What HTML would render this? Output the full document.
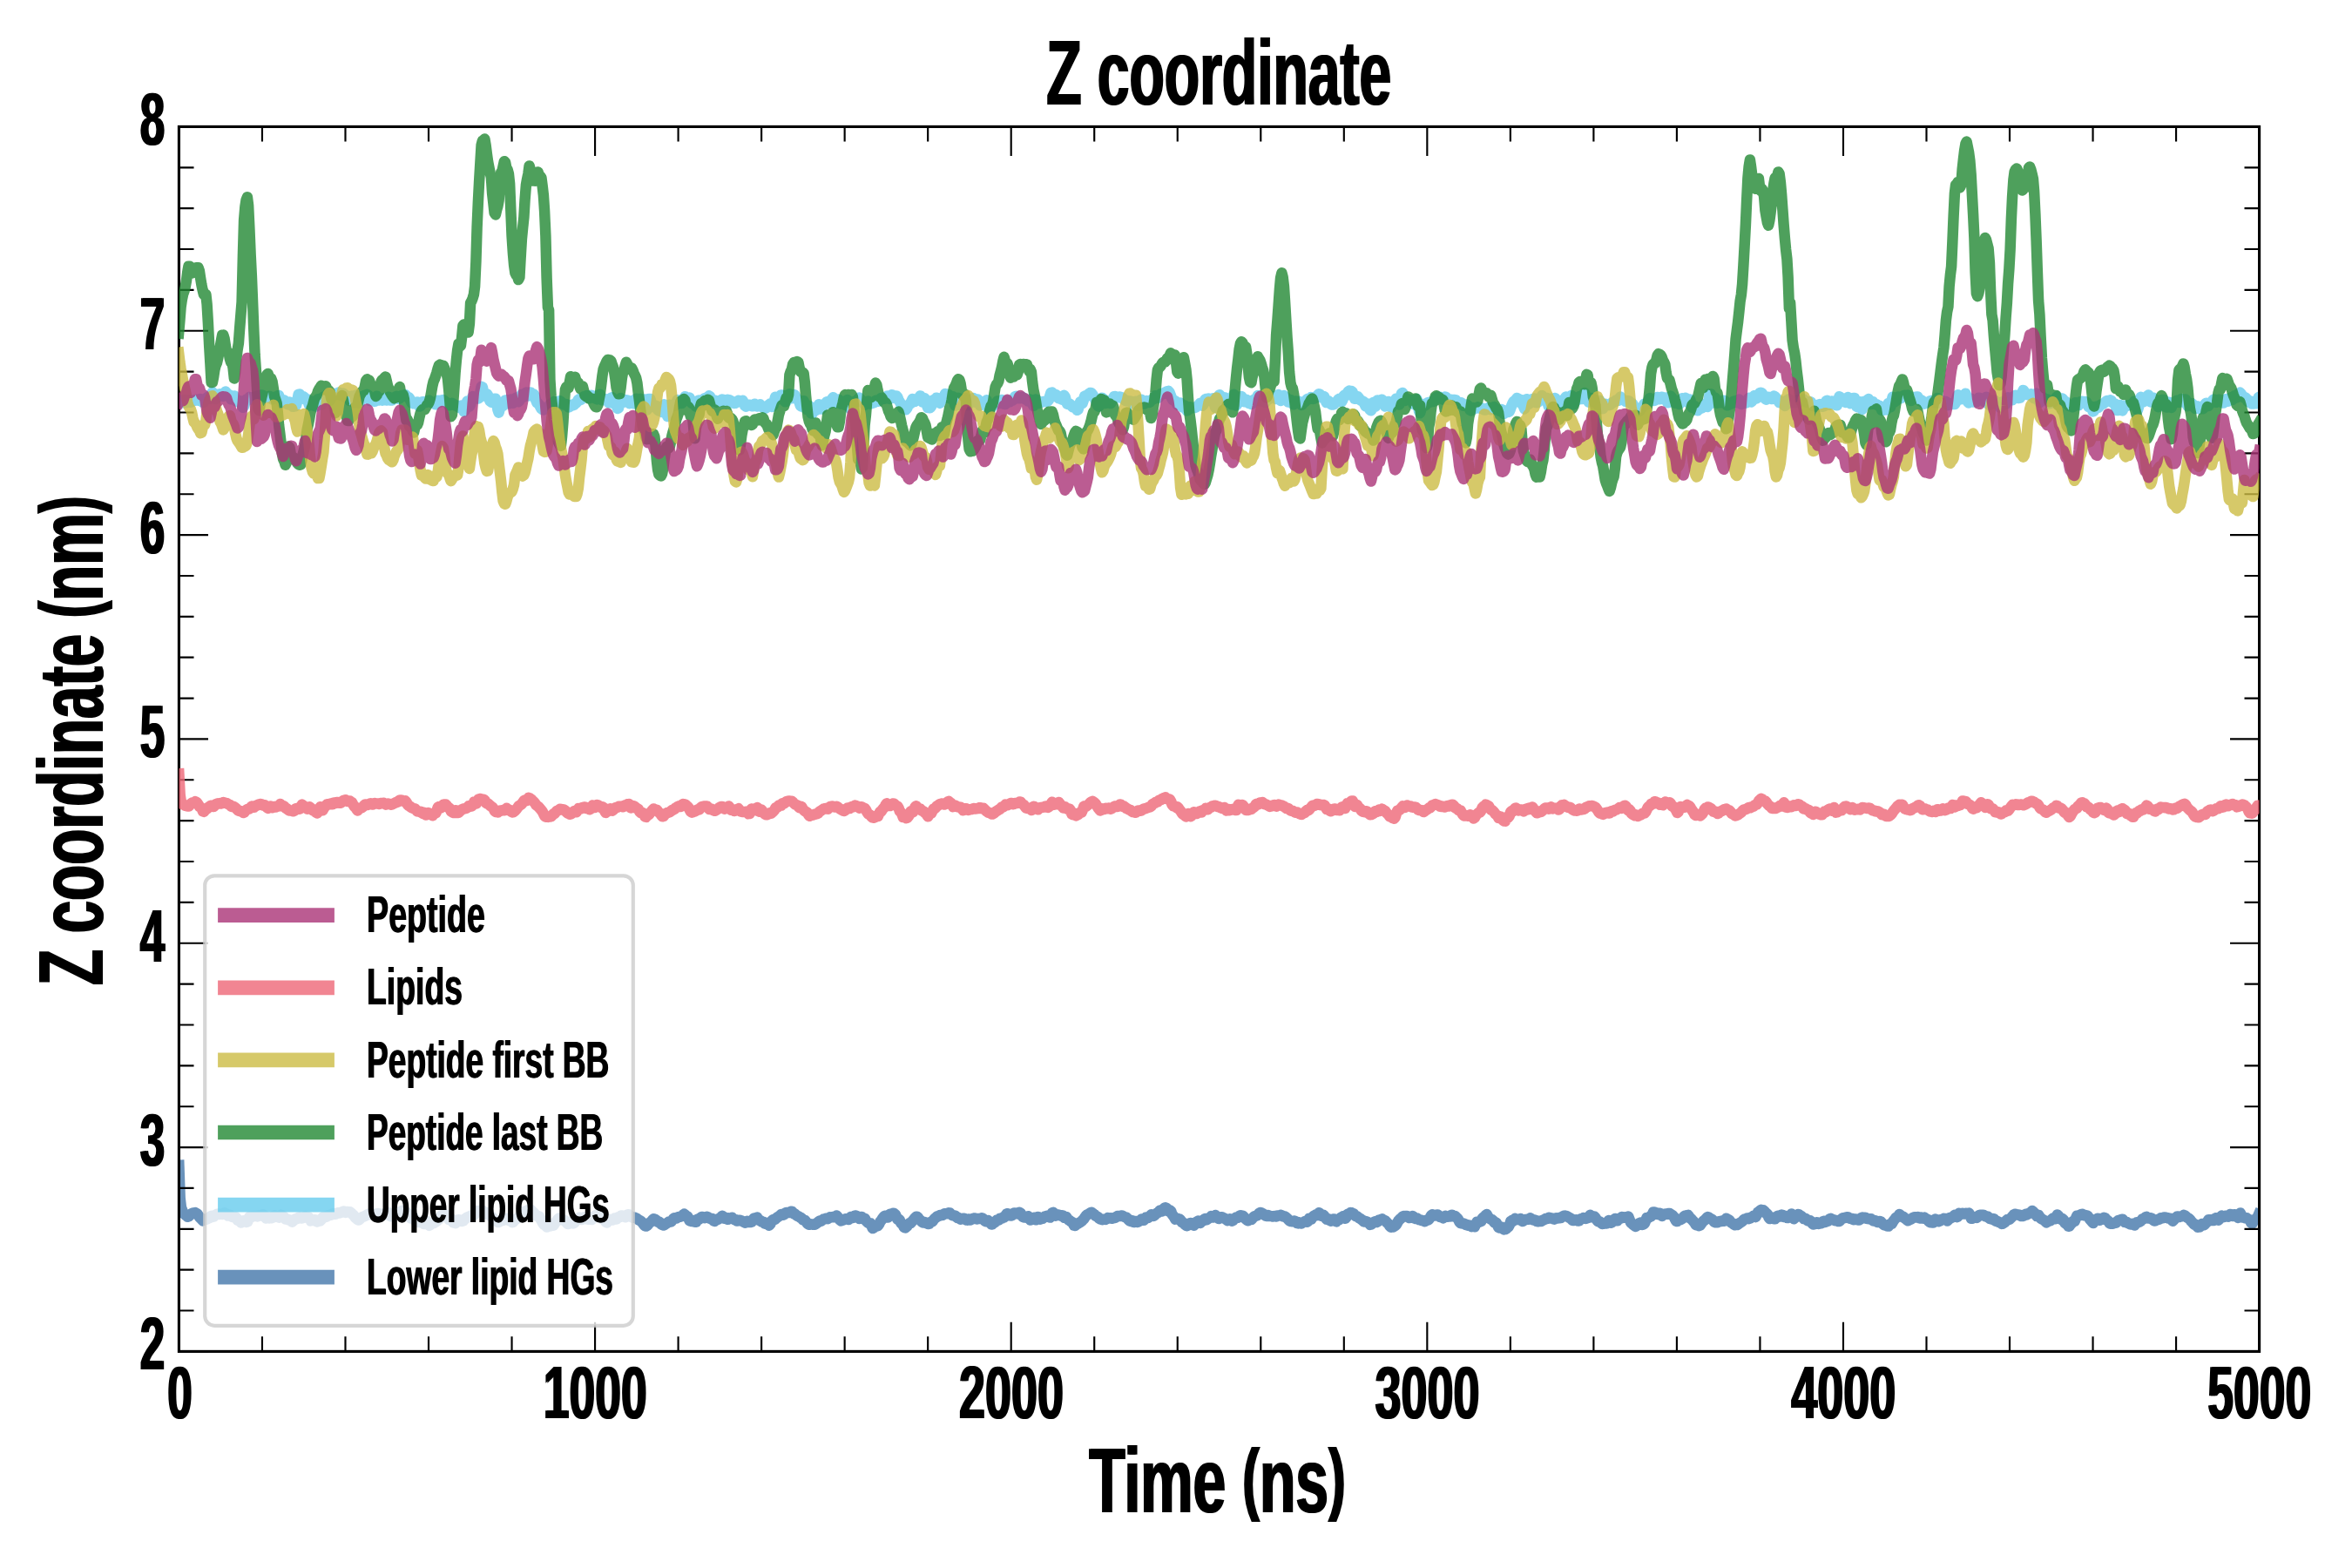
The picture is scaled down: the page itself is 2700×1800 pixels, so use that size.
<!DOCTYPE html>
<html lang="en"><head><meta charset="utf-8"><title>Z coordinate</title>
<style>html,body{margin:0;padding:0;background:#fff;width:2700px;height:1800px;overflow:hidden}svg{display:block}text{font-family:"Liberation Sans",sans-serif;font-weight:bold;fill:#000}</style></head><body>
<svg width="2700" height="1800" viewBox="0 0 2700 1800">
<rect width="2700" height="1800" fill="#fff"/>
<defs><filter id="fat" x="-5%" y="-5%" width="110%" height="110%"><feOffset in="SourceGraphic" dx="1.6" dy="0" result="o"/><feMerge><feMergeNode in="SourceGraphic"/><feMergeNode in="o"/></feMerge></filter><filter id="fatv" x="-5%" y="-5%" width="110%" height="110%"><feOffset in="SourceGraphic" dx="0" dy="1.6" result="o"/><feMerge><feMergeNode in="SourceGraphic"/><feMergeNode in="o"/></feMerge></filter><filter id="fats" x="-5%" y="-5%" width="110%" height="110%"><feOffset in="SourceGraphic" dx="0.8" dy="0" result="o"/><feMerge><feMergeNode in="SourceGraphic"/><feMergeNode in="o"/></feMerge></filter><clipPath id="ax"><rect x="205.43" y="145.43" width="2388.17" height="1405.97"/></clipPath></defs>
<g clip-path="url(#ax)" fill="none" stroke-width="12.5" stroke-linejoin="round" stroke-linecap="square" stroke-opacity="0.8">
<path stroke="#4477AA" d="M205.4,1337.8L206.7,1375.5L207.9,1385.7L209.2,1389.6L210.4,1392.0L211.7,1393.8L212.9,1394.8L214.2,1395.7L215.4,1396.8L216.7,1396.4L217.9,1395.2L219.2,1393.9L220.4,1392.9L221.7,1392.5L222.9,1392.4L224.2,1392.1L225.4,1392.8L226.7,1393.8L227.9,1395.4L229.2,1397.5L230.4,1398.7L231.7,1399.9L232.9,1401.2L234.2,1400.4L235.4,1399.4L236.7,1399.7L237.9,1399.3L239.2,1398.7L240.4,1398.1L241.7,1396.4L242.9,1395.8L244.2,1396.9L245.4,1396.5L246.7,1395.2L247.9,1394.6L249.2,1393.8L250.4,1393.5L251.7,1393.9L252.9,1393.8L254.2,1393.8L255.4,1393.9L256.7,1392.9L257.9,1392.2L259.2,1393.0L260.4,1394.6L261.7,1395.5L262.9,1394.9L264.2,1394.8L265.4,1396.2L266.7,1397.0L267.9,1397.0L269.2,1397.0L270.4,1396.9L271.7,1398.7L272.9,1401.0L274.2,1401.1L275.4,1401.8L276.7,1403.5L277.9,1402.5L279.2,1401.4L280.4,1401.9L281.7,1402.4L282.9,1403.0L284.2,1402.5L285.4,1398.7L286.7,1396.5L287.9,1397.3L289.2,1396.8L290.4,1395.9L291.7,1396.0L292.9,1395.9L294.2,1396.2L295.4,1396.4L296.7,1395.7L297.9,1395.5L299.2,1395.3L300.4,1394.6L301.7,1394.2L302.9,1394.8L304.2,1396.9L305.4,1398.5L306.7,1397.4L307.9,1397.2L309.2,1398.4L310.4,1398.2L311.7,1398.2L312.9,1398.1L314.2,1395.7L315.4,1395.4L316.7,1396.6L317.9,1396.0L319.2,1396.7L320.4,1397.7L321.7,1395.4L322.9,1394.6L324.2,1396.2L325.4,1396.4L326.7,1397.6L327.9,1399.6L329.2,1399.4L330.4,1399.7L331.7,1400.6L332.9,1400.6L334.2,1401.7L335.4,1402.7L336.7,1401.5L337.9,1399.9L339.2,1399.2L340.4,1399.1L341.7,1398.8L342.9,1397.4L344.2,1397.3L345.4,1398.5L346.7,1398.5L347.9,1397.9L349.2,1397.3L350.4,1396.2L351.7,1397.0L352.9,1397.9L354.2,1397.1L355.4,1398.8L356.7,1401.4L357.9,1401.0L359.2,1400.4L360.4,1400.4L361.7,1400.3L362.9,1401.8L364.2,1402.3L365.4,1400.7L366.7,1400.7L367.9,1401.3L369.2,1399.6L370.4,1397.6L371.7,1396.8L372.9,1396.6L374.2,1396.9L375.4,1396.3L376.7,1395.2L377.9,1395.0L379.2,1395.0L380.4,1394.5L381.7,1393.5L382.9,1393.0L384.2,1393.7L385.4,1393.7L386.7,1392.5L387.9,1392.2L389.2,1392.6L390.4,1392.2L391.7,1391.8L392.9,1391.2L394.2,1390.6L395.4,1391.5L396.7,1391.9L397.9,1390.9L399.2,1390.9L400.4,1391.5L401.7,1391.2L402.9,1392.2L404.2,1393.5L405.4,1394.4L406.7,1396.2L407.9,1397.9L409.2,1398.8L410.4,1400.1L411.7,1400.5L412.9,1399.7L414.2,1398.5L415.4,1397.4L416.7,1396.7L417.9,1396.4L419.2,1395.9L420.4,1395.2L421.7,1394.4L422.9,1393.8L424.2,1394.0L425.4,1394.3L426.7,1394.3L427.9,1394.7L429.2,1394.4L430.4,1393.6L431.7,1394.0L432.9,1394.1L434.2,1393.1L435.4,1393.6L436.7,1394.0L437.9,1393.6L439.2,1394.5L440.4,1394.9L441.7,1394.0L442.9,1393.8L444.2,1392.9L445.4,1391.8L446.7,1393.6L447.9,1396.0L449.2,1396.2L450.4,1395.4L451.7,1394.0L452.9,1393.0L454.2,1393.0L455.4,1392.5L456.7,1391.6L457.9,1391.4L459.2,1391.1L460.4,1390.4L461.7,1389.7L462.9,1390.3L464.2,1392.5L465.4,1392.9L466.7,1391.6L467.9,1393.1L469.2,1395.8L470.4,1397.5L471.7,1398.5L472.9,1397.2L474.2,1396.4L475.4,1399.7L476.7,1401.6L477.9,1400.6L479.2,1401.9L480.4,1402.9L481.7,1402.2L482.9,1402.9L484.2,1403.3L485.4,1403.6L486.7,1405.1L487.9,1403.8L489.2,1401.1L490.4,1402.5L491.7,1405.6L492.9,1406.8L494.2,1406.0L495.4,1404.4L496.7,1404.0L497.9,1404.1L499.2,1403.3L500.4,1402.5L501.7,1401.5L502.9,1400.3L504.2,1399.4L505.4,1397.1L506.7,1395.4L507.9,1396.1L509.2,1395.1L510.4,1393.6L511.7,1395.0L512.9,1396.6L514.2,1397.9L515.4,1400.0L516.7,1399.6L517.9,1399.0L519.2,1401.7L520.4,1403.5L521.7,1403.6L522.9,1404.2L524.2,1402.8L525.4,1400.4L526.7,1400.3L527.9,1400.7L529.2,1401.1L530.4,1402.0L531.7,1401.5L532.9,1400.0L534.2,1399.0L535.4,1398.0L536.7,1397.4L537.9,1396.8L539.2,1396.3L540.4,1395.9L541.7,1395.1L542.9,1394.6L544.2,1394.7L545.4,1393.1L546.7,1390.9L547.9,1390.4L549.2,1389.9L550.4,1389.9L551.7,1390.3L552.9,1389.7L554.2,1389.7L555.4,1391.3L556.7,1391.6L557.9,1391.7L559.2,1393.4L560.4,1394.4L561.7,1394.8L562.9,1395.7L564.2,1396.5L565.4,1397.9L566.7,1400.2L567.9,1401.0L569.2,1401.0L570.4,1402.1L571.7,1403.1L572.9,1402.8L574.2,1402.0L575.4,1401.2L576.7,1401.1L577.9,1400.7L579.2,1399.7L580.4,1399.0L581.7,1398.7L582.9,1399.9L584.2,1401.0L585.4,1401.1L586.7,1401.7L587.9,1403.2L589.2,1402.9L590.4,1401.1L591.7,1400.2L592.9,1399.2L594.2,1398.5L595.4,1397.8L596.7,1395.6L597.9,1394.1L599.2,1394.2L600.4,1392.7L601.7,1390.9L602.9,1390.5L604.2,1390.0L605.4,1389.5L606.7,1388.9L607.9,1388.2L609.2,1388.6L610.4,1390.2L611.7,1391.4L612.9,1392.4L614.2,1393.9L615.4,1395.4L616.7,1396.1L617.9,1395.9L619.2,1396.6L620.4,1399.1L621.7,1401.4L622.9,1403.7L624.2,1405.7L625.4,1406.2L626.7,1407.2L627.9,1408.6L629.2,1407.6L630.4,1406.8L631.7,1407.4L632.9,1406.2L634.2,1405.9L635.4,1406.7L636.7,1404.8L637.9,1402.8L639.2,1401.8L640.4,1399.6L641.7,1398.7L642.9,1399.5L644.2,1398.9L645.4,1399.4L646.7,1400.8L647.9,1400.7L649.2,1401.3L650.4,1403.6L651.7,1405.0L652.9,1405.0L654.2,1403.9L655.4,1402.9L656.7,1403.9L657.9,1404.5L659.2,1403.8L660.4,1402.1L661.7,1400.1L662.9,1399.7L664.2,1399.6L665.4,1397.8L666.7,1398.4L667.9,1400.0L669.2,1398.5L670.4,1397.3L671.7,1398.1L672.9,1398.4L674.2,1399.6L675.4,1399.7L676.7,1397.0L677.9,1397.4L679.2,1400.1L680.4,1399.0L681.7,1396.7L682.9,1395.7L684.2,1394.8L685.4,1395.5L686.7,1396.4L687.9,1396.2L689.2,1397.5L690.4,1398.8L691.7,1398.1L692.9,1398.0L694.2,1400.1L695.4,1402.8L696.7,1403.5L697.9,1401.3L699.2,1399.8L700.4,1400.2L701.7,1400.5L702.9,1400.6L704.2,1400.0L705.4,1398.7L706.7,1399.2L707.9,1399.4L709.2,1397.5L710.4,1397.0L711.7,1397.2L712.9,1395.7L714.2,1395.4L715.4,1396.2L716.7,1396.4L717.9,1397.2L719.2,1396.8L720.4,1394.4L721.7,1394.2L722.9,1395.7L724.2,1396.4L725.4,1397.2L726.7,1397.8L727.9,1397.6L729.2,1397.9L730.4,1398.4L731.7,1399.2L732.9,1400.2L734.2,1400.9L735.4,1401.6L736.7,1402.7L737.9,1404.1L739.2,1406.0L740.4,1407.3L741.7,1407.5L742.9,1406.8L744.2,1405.6L745.4,1403.8L746.7,1403.0L747.9,1402.1L749.2,1400.2L750.4,1399.3L751.7,1399.7L752.9,1400.3L754.2,1401.9L755.4,1402.9L756.7,1402.6L757.9,1403.7L759.2,1405.4L760.4,1406.1L761.7,1406.5L762.9,1406.1L764.2,1405.0L765.4,1404.2L766.7,1403.4L767.9,1402.5L769.2,1402.6L770.4,1402.5L771.7,1400.9L772.9,1399.1L774.2,1398.2L775.4,1398.6L776.7,1398.5L777.9,1397.4L779.2,1397.0L780.4,1397.0L781.7,1396.5L782.9,1395.9L784.2,1394.6L785.4,1393.7L786.7,1394.7L787.9,1396.0L789.2,1396.3L790.4,1398.8L791.7,1401.5L792.9,1401.8L794.2,1402.1L795.4,1401.4L796.7,1401.1L797.9,1402.8L799.2,1402.7L800.4,1400.0L801.7,1399.3L802.9,1399.4L804.2,1398.0L805.4,1397.1L806.7,1397.0L807.9,1397.3L809.2,1398.1L810.4,1397.7L811.7,1396.8L812.9,1397.4L814.2,1398.4L815.4,1398.9L816.7,1398.7L817.9,1399.0L819.2,1401.3L820.4,1401.9L821.7,1400.4L822.9,1400.2L824.2,1399.8L825.4,1398.7L826.7,1398.7L827.9,1397.2L829.2,1395.7L830.4,1397.7L831.7,1398.7L832.9,1398.0L834.2,1399.4L835.4,1399.8L836.7,1398.3L837.9,1398.8L839.2,1398.7L840.4,1397.8L841.7,1399.2L842.9,1400.1L844.2,1400.1L845.4,1401.3L846.7,1401.6L847.9,1400.7L849.2,1400.7L850.4,1401.1L851.7,1401.6L852.9,1402.3L854.2,1403.0L855.4,1403.7L856.7,1403.0L857.9,1401.8L859.2,1402.3L860.4,1402.9L861.7,1403.0L862.9,1402.7L864.2,1400.4L865.4,1398.5L866.7,1399.4L867.9,1398.8L869.2,1397.6L870.4,1399.6L871.7,1401.0L872.9,1401.2L874.2,1402.4L875.4,1402.5L876.7,1402.8L877.9,1404.7L879.2,1404.6L880.4,1404.1L881.7,1405.8L882.9,1406.7L884.2,1405.3L885.4,1403.0L886.7,1400.7L887.9,1399.9L889.2,1400.0L890.4,1399.2L891.7,1397.9L892.9,1397.0L894.2,1396.2L895.4,1395.4L896.7,1394.1L897.9,1393.9L899.2,1394.7L900.4,1394.0L901.7,1392.4L902.9,1392.0L904.2,1392.0L905.4,1392.0L906.7,1391.8L907.9,1390.8L909.2,1390.7L910.4,1392.6L911.7,1393.5L912.9,1393.8L914.2,1395.1L915.4,1395.8L916.7,1396.3L917.9,1397.3L919.2,1397.8L920.4,1398.6L921.7,1400.2L922.9,1400.6L924.2,1401.0L925.4,1402.6L926.7,1404.4L927.9,1405.5L929.2,1405.7L930.4,1405.3L931.7,1405.4L932.9,1405.7L934.2,1405.7L935.4,1405.7L936.7,1404.9L937.9,1403.9L939.2,1403.1L940.4,1401.8L941.7,1401.3L942.9,1401.6L944.2,1400.5L945.4,1399.5L946.7,1399.5L947.9,1398.9L949.2,1398.6L950.4,1399.1L951.7,1398.1L952.9,1397.2L954.2,1397.6L955.4,1397.1L956.7,1396.9L957.9,1397.3L959.2,1396.3L960.4,1395.4L961.7,1397.0L962.9,1398.9L964.2,1400.5L965.4,1401.5L966.7,1401.0L967.9,1400.5L969.2,1399.9L970.4,1399.3L971.7,1399.3L972.9,1399.8L974.2,1399.9L975.4,1399.0L976.7,1397.0L977.9,1396.8L979.2,1397.9L980.4,1396.8L981.7,1395.5L982.9,1395.7L984.2,1396.1L985.4,1397.9L986.7,1399.1L987.9,1397.1L989.2,1396.9L990.4,1398.9L991.7,1398.7L992.9,1398.9L994.2,1401.5L995.4,1402.7L996.7,1403.7L997.9,1404.6L999.2,1404.4L1000.4,1406.7L1001.7,1410.1L1002.9,1409.5L1004.2,1407.3L1005.4,1406.8L1006.7,1407.3L1007.9,1407.2L1009.2,1405.2L1010.4,1402.5L1011.7,1400.9L1012.9,1399.2L1014.2,1397.2L1015.4,1395.9L1016.7,1395.7L1017.9,1397.3L1019.2,1397.4L1020.4,1394.7L1021.7,1393.9L1022.9,1394.9L1024.2,1393.6L1025.4,1392.7L1026.7,1393.2L1027.9,1394.2L1029.2,1397.2L1030.4,1399.9L1031.7,1399.5L1032.9,1400.8L1034.2,1403.9L1035.4,1404.9L1036.7,1406.5L1037.9,1408.9L1039.2,1409.4L1040.4,1408.5L1041.7,1407.3L1042.9,1405.1L1044.2,1404.2L1045.4,1404.0L1046.7,1402.7L1047.9,1401.2L1049.2,1399.6L1050.4,1398.0L1051.7,1396.8L1052.9,1396.7L1054.2,1398.1L1055.4,1399.9L1056.7,1400.9L1057.9,1402.4L1059.2,1403.4L1060.4,1402.9L1061.7,1403.2L1062.9,1404.1L1064.2,1404.3L1065.4,1405.1L1066.7,1404.9L1067.9,1403.0L1069.2,1402.5L1070.4,1402.3L1071.7,1400.3L1072.9,1398.8L1074.2,1398.0L1075.4,1396.7L1076.7,1396.2L1077.9,1395.8L1079.2,1394.9L1080.4,1394.9L1081.7,1395.1L1082.9,1394.1L1084.2,1393.3L1085.4,1393.3L1086.7,1393.3L1087.9,1393.0L1089.2,1392.3L1090.4,1392.5L1091.7,1393.8L1092.9,1394.9L1094.2,1395.4L1095.4,1395.4L1096.7,1395.6L1097.9,1397.0L1099.2,1398.0L1100.4,1398.1L1101.7,1398.9L1102.9,1399.7L1104.2,1399.1L1105.4,1398.7L1106.7,1398.8L1107.9,1399.1L1109.2,1400.5L1110.4,1400.7L1111.7,1399.4L1112.9,1399.6L1114.2,1400.4L1115.4,1399.7L1116.7,1399.0L1117.9,1398.6L1119.2,1398.5L1120.4,1399.2L1121.7,1399.5L1122.9,1398.9L1124.2,1398.9L1125.4,1398.9L1126.7,1398.3L1127.9,1398.4L1129.2,1399.5L1130.4,1401.4L1131.7,1402.2L1132.9,1401.3L1134.2,1401.1L1135.4,1402.1L1136.7,1403.5L1137.9,1405.4L1139.2,1405.4L1140.4,1403.7L1141.7,1403.4L1142.9,1402.4L1144.2,1400.6L1145.4,1400.8L1146.7,1400.6L1147.9,1398.8L1149.2,1398.7L1150.4,1398.6L1151.7,1397.3L1152.9,1397.4L1154.2,1396.1L1155.4,1393.5L1156.7,1393.3L1157.9,1394.1L1159.2,1394.3L1160.4,1395.5L1161.7,1395.3L1162.9,1393.3L1164.2,1392.4L1165.4,1392.6L1166.7,1393.2L1167.9,1393.4L1169.2,1392.1L1170.4,1391.7L1171.7,1392.8L1172.9,1394.6L1174.2,1396.9L1175.4,1397.5L1176.7,1397.0L1177.9,1397.7L1179.2,1397.0L1180.4,1396.2L1181.7,1398.9L1182.9,1400.6L1184.2,1399.4L1185.4,1398.9L1186.7,1397.9L1187.9,1397.7L1189.2,1400.3L1190.4,1399.7L1191.7,1397.0L1192.9,1398.1L1194.2,1399.7L1195.4,1399.1L1196.7,1398.9L1197.9,1397.9L1199.2,1396.6L1200.4,1396.8L1201.7,1396.1L1202.9,1395.6L1204.2,1397.1L1205.4,1397.5L1206.7,1395.1L1207.9,1392.3L1209.2,1391.8L1210.4,1394.1L1211.7,1395.6L1212.9,1394.9L1214.2,1394.6L1215.4,1394.6L1216.7,1395.0L1217.9,1395.7L1219.2,1395.2L1220.4,1395.5L1221.7,1397.7L1222.9,1397.7L1224.2,1397.1L1225.4,1399.0L1226.7,1400.5L1227.9,1401.0L1229.2,1402.2L1230.4,1402.7L1231.7,1403.9L1232.9,1406.7L1234.2,1407.0L1235.4,1405.7L1236.7,1405.0L1237.9,1404.3L1239.2,1403.4L1240.4,1402.9L1241.7,1401.9L1242.9,1400.6L1244.2,1399.3L1245.4,1397.4L1246.7,1395.6L1247.9,1394.6L1249.2,1393.9L1250.4,1393.3L1251.7,1392.2L1252.9,1391.7L1254.2,1392.6L1255.4,1393.6L1256.7,1394.5L1257.9,1395.9L1259.2,1396.5L1260.4,1397.2L1261.7,1398.7L1262.9,1399.4L1264.2,1399.7L1265.4,1400.2L1266.7,1399.9L1267.9,1399.5L1269.2,1399.9L1270.4,1399.1L1271.7,1398.1L1272.9,1398.4L1274.2,1398.4L1275.4,1398.3L1276.7,1398.7L1277.9,1398.4L1279.2,1398.0L1280.4,1397.8L1281.7,1396.8L1282.9,1395.9L1284.2,1396.0L1285.4,1396.1L1286.7,1395.7L1287.9,1395.5L1289.2,1395.9L1290.4,1396.8L1291.7,1397.2L1292.9,1397.5L1294.2,1398.8L1295.4,1400.2L1296.7,1401.4L1297.9,1402.0L1299.2,1401.1L1300.4,1401.3L1301.7,1403.1L1302.9,1402.9L1304.2,1402.1L1305.4,1402.9L1306.7,1402.6L1307.9,1401.8L1309.2,1401.2L1310.4,1399.6L1311.7,1399.5L1312.9,1400.8L1314.2,1399.5L1315.4,1397.7L1316.7,1398.1L1317.9,1398.1L1319.2,1397.1L1320.4,1395.7L1321.7,1394.3L1322.9,1394.7L1324.2,1395.8L1325.4,1395.2L1326.7,1393.7L1327.9,1392.7L1329.2,1392.1L1330.4,1391.1L1331.7,1389.4L1332.9,1389.3L1334.2,1390.4L1335.4,1388.9L1336.7,1386.8L1337.9,1386.3L1339.2,1386.9L1340.4,1388.9L1341.7,1390.7L1342.9,1389.4L1344.2,1390.2L1345.4,1393.9L1346.7,1395.5L1347.9,1397.2L1349.2,1399.6L1350.4,1399.2L1351.7,1398.8L1352.9,1399.6L1354.2,1399.4L1355.4,1400.7L1356.7,1403.2L1357.9,1403.5L1359.2,1404.0L1360.4,1405.9L1361.7,1406.9L1362.9,1407.2L1364.2,1406.3L1365.4,1404.6L1366.7,1404.0L1367.9,1404.4L1369.2,1405.8L1370.4,1406.8L1371.7,1405.3L1372.9,1403.3L1374.2,1402.3L1375.4,1401.6L1376.7,1403.0L1377.9,1404.0L1379.2,1402.0L1380.4,1401.0L1381.7,1401.0L1382.9,1399.2L1384.2,1399.0L1385.4,1400.1L1386.7,1399.2L1387.9,1398.4L1389.2,1397.8L1390.4,1396.1L1391.7,1396.6L1392.9,1397.6L1394.2,1395.9L1395.4,1395.0L1396.7,1396.5L1397.9,1398.1L1399.2,1399.0L1400.4,1398.5L1401.7,1397.2L1402.9,1397.2L1404.2,1397.9L1405.4,1398.4L1406.7,1399.3L1407.9,1400.3L1409.2,1401.1L1410.4,1400.6L1411.7,1399.5L1412.9,1400.4L1414.2,1401.6L1415.4,1401.0L1416.7,1399.7L1417.9,1398.4L1419.2,1397.5L1420.4,1397.9L1421.7,1397.6L1422.9,1395.6L1424.2,1395.2L1425.4,1395.6L1426.7,1395.7L1427.9,1396.8L1429.2,1398.6L1430.4,1399.7L1431.7,1400.8L1432.9,1401.2L1434.2,1399.9L1435.4,1399.8L1436.7,1399.9L1437.9,1398.5L1439.2,1396.9L1440.4,1396.2L1441.7,1395.8L1442.9,1395.4L1444.2,1394.3L1445.4,1392.9L1446.7,1392.1L1447.9,1392.2L1449.2,1392.9L1450.4,1393.9L1451.7,1394.8L1452.9,1395.8L1454.2,1395.9L1455.4,1395.0L1456.7,1395.4L1457.9,1396.1L1459.2,1396.0L1460.4,1396.4L1461.7,1396.5L1462.9,1395.9L1464.2,1396.4L1465.4,1396.6L1466.7,1395.5L1467.9,1395.5L1469.2,1395.6L1470.4,1394.8L1471.7,1395.4L1472.9,1396.5L1474.2,1396.3L1475.4,1396.7L1476.7,1397.7L1477.9,1398.7L1479.2,1400.3L1480.4,1401.6L1481.7,1402.0L1482.9,1402.2L1484.2,1402.0L1485.4,1401.6L1486.7,1401.7L1487.9,1402.6L1489.2,1404.2L1490.4,1404.4L1491.7,1403.4L1492.9,1403.9L1494.2,1404.5L1495.4,1403.4L1496.7,1402.8L1497.9,1402.2L1499.2,1401.6L1500.4,1402.8L1501.7,1401.8L1502.9,1398.9L1504.2,1399.1L1505.4,1399.4L1506.7,1397.1L1507.9,1396.0L1509.2,1395.4L1510.4,1394.5L1511.7,1395.1L1512.9,1394.2L1514.2,1392.2L1515.4,1393.7L1516.7,1395.7L1517.9,1395.1L1519.2,1394.8L1520.4,1396.1L1521.7,1398.3L1522.9,1399.7L1524.2,1399.3L1525.4,1399.5L1526.7,1401.0L1527.9,1401.7L1529.2,1401.1L1530.4,1399.5L1531.7,1399.4L1532.9,1401.9L1534.2,1402.3L1535.4,1400.3L1536.7,1400.4L1537.9,1399.8L1539.2,1397.7L1540.4,1397.2L1541.7,1396.3L1542.9,1396.4L1544.2,1398.8L1545.4,1397.7L1546.7,1394.0L1547.9,1393.5L1549.2,1393.4L1550.4,1392.1L1551.7,1392.3L1552.9,1392.9L1554.2,1393.5L1555.4,1395.4L1556.7,1396.3L1557.9,1396.3L1559.2,1397.5L1560.4,1398.5L1561.7,1399.0L1562.9,1399.9L1564.2,1400.9L1565.4,1402.3L1566.7,1402.5L1567.9,1402.0L1569.2,1402.5L1570.4,1403.3L1571.7,1404.3L1572.9,1405.9L1574.2,1405.5L1575.4,1404.2L1576.7,1403.7L1577.9,1402.5L1579.2,1402.0L1580.4,1403.0L1581.7,1402.3L1582.9,1400.5L1584.2,1400.5L1585.4,1399.9L1586.7,1399.3L1587.9,1400.5L1589.2,1401.0L1590.4,1401.4L1591.7,1403.0L1592.9,1404.2L1594.2,1405.3L1595.4,1407.5L1596.7,1408.7L1597.9,1408.6L1599.2,1408.5L1600.4,1407.7L1601.7,1407.1L1602.9,1405.8L1604.2,1403.4L1605.4,1401.3L1606.7,1399.9L1607.9,1398.9L1609.2,1397.8L1610.4,1396.4L1611.7,1396.0L1612.9,1396.4L1614.2,1396.0L1615.4,1395.9L1616.7,1397.3L1617.9,1398.0L1619.2,1397.6L1620.4,1397.2L1621.7,1396.2L1622.9,1396.8L1624.2,1398.8L1625.4,1399.1L1626.7,1398.6L1627.9,1399.5L1629.2,1400.2L1630.4,1400.4L1631.7,1400.9L1632.9,1401.0L1634.2,1401.5L1635.4,1402.2L1636.7,1401.5L1637.9,1400.6L1639.2,1400.5L1640.4,1399.7L1641.7,1397.6L1642.9,1395.4L1644.2,1394.5L1645.4,1395.4L1646.7,1395.6L1647.9,1394.9L1649.2,1394.6L1650.4,1394.4L1651.7,1395.4L1652.9,1396.9L1654.2,1397.0L1655.4,1397.4L1656.7,1398.4L1657.9,1397.2L1659.2,1396.0L1660.4,1396.8L1661.7,1396.8L1662.9,1396.5L1664.2,1396.6L1665.4,1395.2L1666.7,1394.8L1667.9,1396.3L1669.2,1396.3L1670.4,1396.0L1671.7,1397.3L1672.9,1398.4L1674.2,1400.1L1675.4,1402.9L1676.7,1404.2L1677.9,1404.4L1679.2,1404.6L1680.4,1404.6L1681.7,1405.2L1682.9,1406.0L1684.2,1406.4L1685.4,1406.7L1686.7,1406.5L1687.9,1407.0L1689.2,1408.1L1690.4,1407.6L1691.7,1407.8L1692.9,1408.1L1694.2,1405.0L1695.4,1402.9L1696.7,1403.4L1697.9,1402.8L1699.2,1402.5L1700.4,1401.9L1701.7,1398.6L1702.9,1397.4L1704.2,1397.9L1705.4,1395.2L1706.7,1394.0L1707.9,1396.5L1709.2,1397.9L1710.4,1399.0L1711.7,1400.1L1712.9,1400.1L1714.2,1401.4L1715.4,1403.3L1716.7,1403.2L1717.9,1403.9L1719.2,1406.9L1720.4,1409.4L1721.7,1409.6L1722.9,1408.4L1724.2,1408.6L1725.4,1410.6L1726.7,1411.4L1727.9,1411.2L1729.2,1410.5L1730.4,1409.2L1731.7,1408.3L1732.9,1406.1L1734.2,1402.1L1735.4,1401.2L1736.7,1402.0L1737.9,1400.3L1739.2,1399.0L1740.4,1399.7L1741.7,1399.5L1742.9,1400.0L1744.2,1400.2L1745.4,1399.1L1746.7,1400.2L1747.9,1402.0L1749.2,1401.1L1750.4,1399.9L1751.7,1400.0L1752.9,1399.8L1754.2,1399.7L1755.4,1399.3L1756.7,1398.4L1757.9,1399.1L1759.2,1400.1L1760.4,1400.4L1761.7,1400.5L1762.9,1401.0L1764.2,1402.0L1765.4,1402.3L1766.7,1401.7L1767.9,1401.9L1769.2,1402.1L1770.4,1401.2L1771.7,1400.5L1772.9,1400.0L1774.2,1399.1L1775.4,1399.1L1776.7,1398.9L1777.9,1397.8L1779.2,1397.9L1780.4,1398.6L1781.7,1398.5L1782.9,1399.2L1784.2,1399.6L1785.4,1398.6L1786.7,1398.2L1787.9,1398.5L1789.2,1398.1L1790.4,1398.2L1791.7,1398.1L1792.9,1397.1L1794.2,1396.3L1795.4,1395.8L1796.7,1395.6L1797.9,1395.8L1799.2,1396.5L1800.4,1397.2L1801.7,1397.9L1802.9,1398.5L1804.2,1399.8L1805.4,1401.0L1806.7,1400.9L1807.9,1400.6L1809.2,1400.3L1810.4,1400.4L1811.7,1401.6L1812.9,1401.4L1814.2,1399.6L1815.4,1399.1L1816.7,1399.1L1817.9,1398.1L1819.2,1398.4L1820.4,1398.9L1821.7,1398.4L1822.9,1398.0L1824.2,1396.7L1825.4,1394.8L1826.7,1395.7L1827.9,1397.1L1829.2,1396.6L1830.4,1396.6L1831.7,1398.1L1832.9,1400.1L1834.2,1402.0L1835.4,1402.5L1836.7,1402.4L1837.9,1403.7L1839.2,1404.9L1840.4,1404.8L1841.7,1404.5L1842.9,1404.5L1844.2,1404.6L1845.4,1403.1L1846.7,1401.0L1847.9,1402.0L1849.2,1403.7L1850.4,1403.2L1851.7,1402.0L1852.9,1399.9L1854.2,1398.9L1855.4,1401.0L1856.7,1401.3L1857.9,1398.9L1859.2,1398.8L1860.4,1398.7L1861.7,1397.0L1862.9,1397.4L1864.2,1397.7L1865.4,1397.3L1866.7,1397.9L1867.9,1397.3L1869.2,1396.5L1870.4,1399.4L1871.7,1402.9L1872.9,1404.2L1874.2,1405.3L1875.4,1406.4L1876.7,1407.4L1877.9,1407.9L1879.2,1406.9L1880.4,1405.4L1881.7,1404.2L1882.9,1403.7L1884.2,1404.9L1885.4,1405.9L1886.7,1405.4L1887.9,1404.4L1889.2,1401.1L1890.4,1397.9L1891.7,1398.0L1892.9,1397.6L1894.2,1396.3L1895.4,1396.3L1896.7,1394.5L1897.9,1391.4L1899.2,1391.4L1900.4,1392.1L1901.7,1392.4L1902.9,1394.0L1904.2,1393.8L1905.4,1392.8L1906.7,1394.8L1907.9,1395.9L1909.2,1394.5L1910.4,1393.8L1911.7,1393.5L1912.9,1393.5L1914.2,1393.8L1915.4,1393.0L1916.7,1392.9L1917.9,1393.8L1919.2,1394.7L1920.4,1395.5L1921.7,1397.0L1922.9,1399.4L1924.2,1401.9L1925.4,1402.0L1926.7,1400.2L1927.9,1400.1L1929.2,1400.1L1930.4,1399.4L1931.7,1398.6L1932.9,1396.8L1934.2,1395.8L1935.4,1396.3L1936.7,1395.3L1937.9,1394.9L1939.2,1396.9L1940.4,1398.6L1941.7,1399.4L1942.9,1400.9L1944.2,1402.2L1945.4,1403.8L1946.7,1405.9L1947.9,1406.4L1949.2,1406.4L1950.4,1407.2L1951.7,1406.6L1952.9,1404.9L1954.2,1403.1L1955.4,1401.7L1956.7,1400.8L1957.9,1399.7L1959.2,1398.1L1960.4,1397.1L1961.7,1397.6L1962.9,1398.4L1964.2,1399.3L1965.4,1399.9L1966.7,1401.1L1967.9,1402.9L1969.2,1403.3L1970.4,1403.0L1971.7,1403.3L1972.9,1402.5L1974.2,1401.9L1975.4,1402.1L1976.7,1401.6L1977.9,1401.3L1979.2,1401.7L1980.4,1400.4L1981.7,1398.7L1982.9,1399.5L1984.2,1400.1L1985.4,1401.0L1986.7,1402.8L1987.9,1403.9L1989.2,1404.5L1990.4,1405.7L1991.7,1406.3L1992.9,1406.0L1994.2,1406.0L1995.4,1405.3L1996.7,1404.3L1997.9,1403.5L1999.2,1402.7L2000.4,1401.7L2001.7,1400.3L2002.9,1399.5L2004.2,1399.4L2005.4,1398.7L2006.7,1398.4L2007.9,1399.1L2009.2,1398.4L2010.4,1397.4L2011.7,1397.1L2012.9,1395.8L2014.2,1396.0L2015.4,1397.2L2016.7,1394.7L2017.9,1391.7L2019.2,1391.1L2020.4,1389.8L2021.7,1388.7L2022.9,1389.2L2024.2,1389.2L2025.4,1390.2L2026.7,1392.5L2027.9,1392.8L2029.2,1394.0L2030.4,1397.4L2031.7,1399.1L2032.9,1398.4L2034.2,1397.5L2035.4,1397.8L2036.7,1399.2L2037.9,1399.3L2039.2,1397.4L2040.4,1396.0L2041.7,1395.8L2042.9,1396.6L2044.2,1396.5L2045.4,1394.6L2046.7,1395.0L2047.9,1396.9L2049.2,1396.2L2050.4,1396.1L2051.7,1398.0L2052.9,1397.9L2054.2,1397.1L2055.4,1395.9L2056.7,1393.5L2057.9,1395.3L2059.2,1399.2L2060.4,1398.2L2061.7,1395.7L2062.9,1395.0L2064.2,1394.1L2065.4,1394.4L2066.7,1395.8L2067.9,1396.1L2069.2,1397.3L2070.4,1399.0L2071.7,1398.7L2072.9,1398.9L2074.2,1400.4L2075.4,1401.4L2076.7,1401.4L2077.9,1401.2L2079.2,1402.3L2080.4,1404.5L2081.7,1405.5L2082.9,1405.2L2084.2,1404.4L2085.4,1403.2L2086.7,1403.7L2087.9,1404.9L2089.2,1404.4L2090.4,1404.3L2091.7,1404.0L2092.9,1401.9L2094.2,1401.8L2095.4,1402.9L2096.7,1402.3L2097.9,1401.9L2099.2,1401.4L2100.4,1399.4L2101.7,1398.9L2102.9,1400.0L2104.2,1400.0L2105.4,1400.6L2106.7,1401.3L2107.9,1400.9L2109.2,1401.4L2110.4,1402.1L2111.7,1401.8L2112.9,1400.6L2114.2,1399.2L2115.4,1398.3L2116.7,1398.2L2117.9,1398.0L2119.2,1397.4L2120.4,1397.3L2121.7,1397.5L2122.9,1398.3L2124.2,1398.8L2125.4,1398.7L2126.7,1399.6L2127.9,1400.2L2129.2,1399.5L2130.4,1399.4L2131.7,1400.1L2132.9,1400.3L2134.2,1400.6L2135.4,1399.7L2136.7,1397.8L2137.9,1397.6L2139.2,1398.3L2140.4,1397.8L2141.7,1398.0L2142.9,1398.8L2144.2,1399.0L2145.4,1399.3L2146.7,1399.3L2147.9,1399.2L2149.2,1400.3L2150.4,1401.4L2151.7,1401.2L2152.9,1401.3L2154.2,1402.3L2155.4,1403.1L2156.7,1402.9L2157.9,1402.0L2159.2,1402.4L2160.4,1404.0L2161.7,1405.3L2162.9,1406.2L2164.2,1406.6L2165.4,1406.7L2166.7,1407.6L2167.9,1407.6L2169.2,1405.5L2170.4,1405.3L2171.7,1405.0L2172.9,1402.6L2174.2,1400.7L2175.4,1399.3L2176.7,1397.5L2177.9,1397.2L2179.2,1396.3L2180.4,1394.0L2181.7,1395.1L2182.9,1396.7L2184.2,1396.5L2185.4,1397.2L2186.7,1398.5L2187.9,1399.3L2189.2,1400.6L2190.4,1401.3L2191.7,1400.5L2192.9,1399.9L2194.2,1399.2L2195.4,1398.2L2196.7,1397.6L2197.9,1397.2L2199.2,1397.4L2200.4,1397.3L2201.7,1397.0L2202.9,1398.2L2204.2,1398.5L2205.4,1397.6L2206.7,1398.5L2207.9,1398.7L2209.2,1397.7L2210.4,1398.8L2211.7,1399.7L2212.9,1399.8L2214.2,1402.1L2215.4,1403.0L2216.7,1402.1L2217.9,1403.5L2219.2,1403.5L2220.4,1400.4L2221.7,1399.6L2222.9,1400.2L2224.2,1400.8L2225.4,1402.2L2226.7,1401.7L2227.9,1399.9L2229.2,1399.9L2230.4,1399.9L2231.7,1398.8L2232.9,1399.0L2234.2,1400.4L2235.4,1401.4L2236.7,1400.3L2237.9,1398.1L2239.2,1397.8L2240.4,1398.0L2241.7,1396.9L2242.9,1395.8L2244.2,1394.8L2245.4,1395.3L2246.7,1397.2L2247.9,1395.9L2249.2,1392.9L2250.4,1393.1L2251.7,1393.5L2252.9,1392.8L2254.2,1393.6L2255.4,1393.6L2256.7,1392.9L2257.9,1393.6L2259.2,1393.0L2260.4,1392.6L2261.7,1396.0L2262.9,1398.8L2264.2,1398.7L2265.4,1398.1L2266.7,1397.5L2267.9,1397.5L2269.2,1397.9L2270.4,1396.8L2271.7,1395.2L2272.9,1394.7L2274.2,1394.7L2275.4,1394.7L2276.7,1394.7L2277.9,1395.3L2279.2,1396.4L2280.4,1396.4L2281.7,1396.4L2282.9,1397.8L2284.2,1399.0L2285.4,1399.3L2286.7,1399.6L2287.9,1399.1L2289.2,1399.4L2290.4,1401.3L2291.7,1402.0L2292.9,1402.0L2294.2,1402.9L2295.4,1403.2L2296.7,1403.4L2297.9,1404.9L2299.2,1404.7L2300.4,1403.6L2301.7,1402.9L2302.9,1401.4L2304.2,1400.1L2305.4,1400.2L2306.7,1399.8L2307.9,1398.7L2309.2,1397.6L2310.4,1396.0L2311.7,1394.5L2312.9,1393.8L2314.2,1394.0L2315.4,1394.4L2316.7,1394.4L2317.9,1394.6L2319.2,1395.5L2320.4,1396.1L2321.7,1396.1L2322.9,1395.8L2324.2,1394.5L2325.4,1393.8L2326.7,1394.4L2327.9,1393.7L2329.2,1392.7L2330.4,1392.6L2331.7,1391.3L2332.9,1390.0L2334.2,1391.1L2335.4,1392.3L2336.7,1394.0L2337.9,1395.9L2339.2,1395.5L2340.4,1395.1L2341.7,1397.3L2342.9,1399.0L2344.2,1399.5L2345.4,1400.2L2346.7,1400.8L2347.9,1402.1L2349.2,1403.4L2350.4,1402.6L2351.7,1401.8L2352.9,1401.7L2354.2,1401.1L2355.4,1399.8L2356.7,1398.4L2357.9,1398.6L2359.2,1399.1L2360.4,1397.0L2361.7,1394.6L2362.9,1395.6L2364.2,1397.3L2365.4,1399.1L2366.7,1400.2L2367.9,1399.3L2369.2,1400.5L2370.4,1404.1L2371.7,1404.7L2372.9,1405.2L2374.2,1407.6L2375.4,1407.8L2376.7,1405.8L2377.9,1404.6L2379.2,1402.4L2380.4,1401.7L2381.7,1401.9L2382.9,1398.7L2384.2,1395.7L2385.4,1395.6L2386.7,1395.5L2387.9,1394.8L2389.2,1394.1L2390.4,1393.8L2391.7,1394.7L2392.9,1395.3L2394.2,1395.1L2395.4,1395.3L2396.7,1396.0L2397.9,1397.7L2399.2,1400.0L2400.4,1401.1L2401.7,1402.8L2402.9,1404.1L2404.2,1401.7L2405.4,1399.9L2406.7,1399.9L2407.9,1398.7L2409.2,1399.2L2410.4,1400.8L2411.7,1399.6L2412.9,1398.7L2414.2,1399.2L2415.4,1397.8L2416.7,1398.3L2417.9,1400.5L2419.2,1400.8L2420.4,1401.9L2421.7,1404.4L2422.9,1404.7L2424.2,1404.5L2425.4,1404.7L2426.7,1404.0L2427.9,1404.0L2429.2,1403.7L2430.4,1402.2L2431.7,1401.0L2432.9,1400.7L2434.2,1400.5L2435.4,1399.9L2436.7,1399.7L2437.9,1401.2L2439.2,1403.0L2440.4,1402.9L2441.7,1403.0L2442.9,1404.1L2444.2,1404.6L2445.4,1405.3L2446.7,1405.5L2447.9,1404.8L2449.2,1405.7L2450.4,1406.5L2451.7,1404.7L2452.9,1403.3L2454.2,1403.4L2455.4,1402.8L2456.7,1402.3L2457.9,1401.4L2459.2,1399.6L2460.4,1399.1L2461.7,1398.8L2462.9,1397.3L2464.2,1396.8L2465.4,1398.0L2466.7,1398.6L2467.9,1398.5L2469.2,1398.3L2470.4,1398.9L2471.7,1400.5L2472.9,1401.5L2474.2,1401.3L2475.4,1400.5L2476.7,1400.0L2477.9,1399.9L2479.2,1399.4L2480.4,1398.3L2481.7,1398.2L2482.9,1398.3L2484.2,1397.4L2485.4,1397.4L2486.7,1397.8L2487.9,1397.9L2489.2,1398.5L2490.4,1398.9L2491.7,1398.7L2492.9,1400.2L2494.2,1401.7L2495.4,1400.5L2496.7,1399.1L2497.9,1397.9L2499.2,1396.5L2500.4,1396.5L2501.7,1397.0L2502.9,1396.6L2504.2,1396.4L2505.4,1396.0L2506.7,1394.9L2507.9,1395.2L2509.2,1396.4L2510.4,1397.4L2511.7,1398.2L2512.9,1398.9L2514.2,1400.2L2515.4,1401.9L2516.7,1403.2L2517.9,1404.7L2519.2,1405.7L2520.4,1405.8L2521.7,1407.2L2522.9,1408.6L2524.2,1408.3L2525.4,1408.4L2526.7,1407.1L2527.9,1404.9L2529.2,1405.4L2530.4,1406.3L2531.7,1404.6L2532.9,1403.5L2534.2,1402.3L2535.4,1400.2L2536.7,1400.2L2537.9,1400.6L2539.2,1400.1L2540.4,1401.0L2541.7,1400.9L2542.9,1398.5L2544.2,1398.2L2545.4,1399.9L2546.7,1400.6L2547.9,1399.4L2549.2,1396.9L2550.4,1395.7L2551.7,1396.5L2552.9,1397.0L2554.2,1396.6L2555.4,1395.8L2556.7,1395.6L2557.9,1396.5L2559.2,1395.6L2560.4,1393.9L2561.7,1395.3L2562.9,1396.1L2564.2,1394.3L2565.4,1394.3L2566.7,1395.4L2567.9,1396.4L2569.2,1397.9L2570.4,1395.7L2571.7,1392.4L2572.9,1394.5L2574.2,1397.5L2575.4,1397.4L2576.7,1398.1L2577.9,1398.6L2579.2,1398.2L2580.4,1399.2L2581.7,1399.8L2582.9,1400.7L2584.2,1403.8L2585.4,1404.8L2586.7,1402.4L2587.9,1400.4L2589.2,1399.5L2590.4,1398.9L2591.7,1397.0L2592.9,1394.2"/>
<path stroke="#66CCEE" d="M205.1,461.8L206.4,459.6L207.6,461.2L208.9,462.6L210.1,460.6L211.4,458.7L212.6,460.2L213.9,462.3L215.1,461.2L216.4,459.3L217.6,460.2L218.9,461.7L220.1,460.9L221.4,459.6L222.6,459.7L223.9,459.8L225.1,458.9L226.4,458.8L227.6,459.6L228.9,459.1L230.1,458.1L231.4,459.4L232.6,461.7L233.9,461.7L235.1,459.6L236.4,457.7L237.6,456.3L238.9,455.7L240.1,457.0L241.4,457.7L242.6,454.5L243.9,450.3L245.1,451.5L246.4,456.5L247.6,458.0L248.9,455.2L250.1,453.0L251.4,452.6L252.6,452.3L253.9,452.8L255.1,454.8L256.4,454.7L257.6,451.6L258.9,449.6L260.1,450.9L261.4,452.4L262.6,452.9L263.9,455.3L265.1,458.3L266.4,457.8L267.6,454.7L268.9,454.6L270.1,457.9L271.4,460.6L272.6,461.2L273.9,460.8L275.1,460.1L276.4,460.6L277.6,464.3L278.9,467.8L280.1,466.2L281.4,461.3L282.6,458.8L283.9,459.0L285.1,457.9L286.4,455.9L287.6,456.6L288.9,458.6L290.1,457.9L291.4,455.7L292.6,455.5L293.9,456.2L295.1,455.4L296.4,454.3L297.6,454.5L298.9,454.4L300.1,453.6L301.4,453.7L302.6,455.0L303.9,455.8L305.1,456.0L306.4,456.3L307.6,456.0L308.9,454.8L310.1,455.1L311.4,457.6L312.6,458.5L313.9,456.6L315.1,455.8L316.4,457.5L317.6,457.3L318.9,454.3L320.1,454.0L321.4,458.3L322.6,461.8L323.9,460.8L325.1,459.0L326.4,459.5L327.6,461.5L328.9,463.2L330.1,464.1L331.4,463.3L332.6,461.7L333.9,462.3L335.1,465.3L336.4,466.8L337.6,466.6L338.9,466.4L340.1,465.2L341.4,459.4L342.6,452.8L343.9,452.5L345.1,456.7L346.4,457.6L347.6,455.0L348.9,455.6L350.1,458.4L351.4,458.5L352.6,458.2L353.9,461.9L355.1,465.4L356.4,463.7L357.6,460.5L358.9,461.1L360.1,464.4L361.4,466.2L362.6,466.4L363.9,463.3L365.1,458.4L366.4,458.1L367.6,463.4L368.9,464.8L370.1,458.8L371.4,455.5L372.6,459.3L373.9,460.7L375.1,454.8L376.4,451.7L377.6,456.5L378.9,459.9L380.1,456.0L381.4,452.2L382.6,453.1L383.9,453.9L385.1,452.4L386.4,451.6L387.6,451.5L388.9,450.6L390.1,451.2L391.4,454.0L392.6,454.2L393.9,451.6L395.1,452.5L396.4,456.5L397.6,457.0L398.9,455.1L400.1,457.1L401.4,460.0L402.6,457.5L403.9,454.5L405.1,458.1L406.4,462.4L407.6,458.9L408.9,453.5L410.1,456.0L411.4,462.1L412.6,463.1L413.9,460.0L415.1,457.9L416.4,456.2L417.6,454.2L418.9,453.8L420.1,454.1L421.4,452.9L422.6,453.4L423.9,457.5L425.1,460.3L426.4,458.4L427.6,457.2L428.9,459.9L430.1,460.9L431.4,457.2L432.6,454.7L433.9,456.9L435.1,459.4L436.4,459.1L437.6,459.0L438.9,459.6L440.1,458.3L441.4,456.9L442.6,458.1L443.9,459.6L445.1,457.8L446.4,455.7L447.6,457.0L448.9,459.6L450.1,459.5L451.4,457.8L452.6,456.5L453.9,455.4L455.1,454.9L456.4,456.3L457.6,457.9L458.9,457.0L460.1,454.7L461.4,454.0L462.6,454.2L463.9,453.6L465.1,453.0L466.4,454.3L467.6,455.7L468.9,456.0L470.1,457.2L471.4,460.2L472.6,462.6L473.9,463.2L475.1,463.3L476.4,463.3L477.6,462.0L478.9,461.4L480.1,463.5L481.4,466.5L482.6,466.3L483.9,463.5L485.1,461.3L486.4,461.3L487.6,462.0L488.9,462.0L490.1,461.2L491.4,460.0L492.6,459.6L493.9,460.8L495.1,462.1L496.4,462.3L497.6,462.6L498.9,463.9L500.1,464.2L501.4,462.0L502.6,459.7L503.9,460.2L505.1,461.7L506.4,461.0L507.6,459.4L508.9,459.1L510.1,460.2L511.4,461.2L512.6,462.1L513.9,463.7L515.1,465.3L516.4,465.3L517.6,464.0L518.9,462.9L520.1,463.2L521.4,464.6L522.6,465.5L523.9,465.4L525.1,465.8L526.4,467.5L527.6,468.1L528.9,466.4L530.1,465.5L531.4,468.8L532.6,472.5L533.9,470.6L535.1,463.9L536.4,460.5L537.6,463.4L538.9,466.6L540.1,464.3L541.4,458.3L542.6,455.1L543.9,456.0L545.1,456.9L546.4,455.8L547.6,455.7L548.9,457.6L550.1,456.7L551.4,450.2L552.6,443.8L553.9,444.4L555.1,450.8L556.4,454.6L557.6,453.7L558.9,452.2L560.1,453.9L561.4,457.6L562.6,460.5L563.9,461.6L565.1,461.3L566.4,459.8L567.6,457.8L568.9,457.8L570.1,462.5L571.4,470.2L572.6,473.7L573.9,468.7L575.1,462.5L576.4,462.7L577.6,465.8L578.9,464.2L580.1,459.6L581.4,459.3L582.6,462.9L583.9,463.3L585.1,459.9L586.4,458.4L587.6,460.9L588.9,462.8L590.1,461.2L591.4,457.8L592.6,456.4L593.9,458.5L595.1,461.3L596.4,459.9L597.6,455.1L598.9,452.7L600.1,454.6L601.4,455.5L602.6,452.6L603.9,450.6L605.1,452.6L606.4,454.4L607.6,452.5L608.9,450.4L610.1,451.5L611.4,452.4L612.6,452.4L613.9,454.5L615.1,459.2L616.4,462.3L617.6,463.0L618.9,464.4L620.1,466.8L621.4,469.0L622.6,470.2L623.9,470.5L625.1,469.7L626.4,468.1L627.6,467.9L628.9,468.3L630.1,466.5L631.4,463.9L632.6,463.5L633.9,464.1L635.1,462.8L636.4,460.7L637.6,461.3L638.9,463.2L640.1,462.6L641.4,460.6L642.6,460.3L643.9,461.3L645.1,462.2L646.4,463.3L647.6,464.6L648.9,464.7L650.1,464.1L651.4,465.4L652.6,467.4L653.9,467.1L655.1,465.1L656.4,464.7L657.6,465.2L658.9,464.8L660.1,463.6L661.4,462.7L662.6,461.2L663.9,458.8L665.1,458.1L666.4,459.0L667.6,458.5L668.9,456.2L670.1,455.4L671.4,456.1L672.6,455.2L673.9,453.9L675.1,455.2L676.4,457.2L677.6,456.0L678.9,453.7L680.1,454.2L681.4,456.4L682.6,457.1L683.9,457.5L685.1,458.2L686.4,456.7L687.6,453.1L688.9,452.7L690.1,456.5L691.4,459.3L692.6,458.8L693.9,458.0L695.1,458.3L696.4,458.4L697.6,459.9L698.9,462.4L700.1,461.4L701.4,456.9L702.6,456.3L703.9,461.1L705.1,463.7L706.4,462.2L707.6,463.8L708.9,468.9L710.1,468.3L711.4,461.0L712.6,457.0L713.9,459.8L715.1,462.0L716.4,460.4L717.6,459.1L718.9,459.3L720.1,459.4L721.4,460.8L722.6,463.2L723.9,462.7L725.1,460.2L726.4,461.0L727.6,463.3L728.9,461.0L730.1,457.7L731.4,460.3L732.6,464.3L733.9,461.8L735.1,457.7L736.4,459.8L737.6,462.5L738.9,459.7L740.1,458.6L741.4,465.4L742.6,470.5L743.9,465.3L745.1,457.9L746.4,457.9L747.6,462.7L748.9,466.0L750.1,467.1L751.4,466.6L752.6,465.4L753.9,466.6L755.1,470.5L756.4,471.5L757.6,469.0L758.9,469.6L760.1,473.1L761.4,470.7L762.6,464.3L763.9,465.8L765.1,474.9L766.4,478.1L767.6,471.1L768.9,464.8L770.1,465.3L771.4,466.9L772.6,466.2L773.9,466.0L775.1,465.7L776.4,462.4L777.6,459.1L778.9,459.6L780.1,462.0L781.4,463.1L782.6,463.1L783.9,461.6L785.1,457.9L786.4,455.2L787.6,456.7L788.9,459.2L790.1,457.7L791.4,456.4L792.6,459.4L793.9,462.7L795.1,461.9L796.4,461.1L797.6,464.1L798.9,466.6L800.1,463.9L801.4,459.8L802.6,459.5L803.9,461.3L805.1,461.4L806.4,459.9L807.6,458.4L808.9,457.2L810.1,456.9L811.4,457.0L812.6,455.8L813.9,454.4L815.1,455.2L816.4,458.5L817.6,460.5L818.9,459.8L820.1,459.6L821.4,461.3L822.6,461.6L823.9,460.5L825.1,460.1L826.4,460.6L827.6,459.9L828.9,458.6L830.1,458.9L831.4,460.6L832.6,460.6L833.9,459.3L835.1,458.8L836.4,459.1L837.6,459.4L838.9,460.1L840.1,461.5L841.4,462.7L842.6,462.9L843.9,462.8L845.1,462.2L846.4,460.7L847.6,459.9L848.9,460.9L850.1,461.5L851.4,460.4L852.6,459.8L853.9,462.4L855.1,465.8L856.4,466.6L857.6,465.5L858.9,464.7L860.1,464.7L861.4,464.9L862.6,465.8L863.9,466.3L865.1,465.1L866.4,463.7L867.6,464.7L868.9,466.6L870.1,466.4L871.4,464.7L872.6,464.4L873.9,465.9L875.1,467.3L876.4,467.9L877.6,468.4L878.9,468.6L880.1,467.9L881.4,466.5L882.6,464.6L883.9,463.6L885.1,464.8L886.4,466.9L887.6,465.4L888.9,460.1L890.1,455.8L891.4,456.2L892.6,458.6L893.9,458.2L895.1,455.5L896.4,453.5L897.6,453.6L898.9,455.4L900.1,458.5L901.4,461.1L902.6,460.9L903.9,457.0L905.1,452.9L906.4,452.2L907.6,455.2L908.9,457.2L910.1,455.5L911.4,453.0L912.6,453.8L913.9,456.9L915.1,458.5L916.4,459.1L917.6,461.9L918.9,465.9L920.1,466.4L921.4,462.6L922.6,460.2L923.9,463.3L925.1,468.7L926.4,470.3L927.6,467.4L928.9,465.8L930.1,469.4L931.4,474.5L932.6,474.6L933.9,470.6L935.1,469.1L936.4,471.1L937.6,470.8L938.9,466.5L940.1,464.3L941.4,467.0L942.6,469.5L943.9,468.2L945.1,465.7L946.4,464.4L947.6,463.3L948.9,461.6L950.1,461.1L951.4,462.5L952.6,463.2L953.9,461.3L955.1,458.1L956.4,456.2L957.6,457.6L958.9,461.3L960.1,462.4L961.4,460.0L962.6,458.6L963.9,461.0L965.1,463.5L966.4,462.7L967.6,461.5L968.9,463.4L970.1,464.7L971.4,461.7L972.6,459.0L973.9,461.9L975.1,467.8L976.4,469.6L977.6,466.5L978.9,462.7L980.1,460.9L981.4,461.0L982.6,461.4L983.9,460.3L985.1,457.9L986.4,456.6L987.6,458.0L988.9,459.8L990.1,460.7L991.4,462.4L992.6,464.6L993.9,464.3L995.1,461.7L996.4,460.5L997.6,462.4L998.9,463.7L1000.1,462.6L1001.4,462.1L1002.6,462.6L1003.9,461.9L1005.1,459.9L1006.4,459.5L1007.6,460.7L1008.9,460.5L1010.1,458.6L1011.4,457.0L1012.6,456.7L1013.9,457.0L1015.1,457.7L1016.4,457.6L1017.6,455.7L1018.9,454.4L1020.1,456.1L1021.4,457.9L1022.6,456.0L1023.9,453.2L1025.1,454.2L1026.4,457.0L1027.6,456.5L1028.9,454.4L1030.1,455.6L1031.4,458.9L1032.6,460.9L1033.9,463.1L1035.1,466.5L1036.4,468.6L1037.6,468.6L1038.9,469.5L1040.1,470.1L1041.4,468.3L1042.6,465.2L1043.9,464.1L1045.1,463.5L1046.4,460.4L1047.6,457.9L1048.9,459.4L1050.1,461.0L1051.4,459.3L1052.6,457.7L1053.9,457.8L1055.1,456.5L1056.4,454.4L1057.6,456.8L1058.9,461.5L1060.1,461.1L1061.4,457.1L1062.6,458.6L1063.9,464.9L1065.1,468.0L1066.4,467.7L1067.6,468.2L1068.9,466.8L1070.1,461.7L1071.4,459.1L1072.6,460.7L1073.9,460.4L1075.1,456.8L1076.4,456.9L1077.6,461.6L1078.9,462.9L1080.1,459.6L1081.4,458.0L1082.6,458.1L1083.9,455.3L1085.1,452.0L1086.4,452.7L1087.6,454.0L1088.9,452.9L1090.1,454.1L1091.4,457.7L1092.6,457.6L1093.9,455.3L1095.1,459.0L1096.4,465.6L1097.6,464.6L1098.9,457.6L1100.1,456.8L1101.4,462.7L1102.6,465.1L1103.9,461.8L1105.1,459.2L1106.4,458.4L1107.6,457.0L1108.9,458.0L1110.1,462.5L1111.4,465.0L1112.6,462.9L1113.9,460.7L1115.1,460.0L1116.4,458.3L1117.6,457.0L1118.9,459.5L1120.1,461.8L1121.4,459.8L1122.6,458.5L1123.9,462.3L1125.1,465.5L1126.4,463.7L1127.6,462.1L1128.9,464.4L1130.1,464.6L1131.4,460.4L1132.6,459.3L1133.9,465.0L1135.1,470.3L1136.4,469.7L1137.6,466.5L1138.9,465.5L1140.1,465.6L1141.4,465.3L1142.6,464.4L1143.9,462.3L1145.1,460.4L1146.4,461.1L1147.6,463.0L1148.9,461.8L1150.1,459.0L1151.4,460.1L1152.6,463.8L1153.9,464.0L1155.1,460.8L1156.4,459.8L1157.6,461.6L1158.9,461.6L1160.1,459.7L1161.4,459.2L1162.6,459.6L1163.9,458.0L1165.1,455.4L1166.4,454.9L1167.6,456.3L1168.9,457.3L1170.1,457.2L1171.4,457.0L1172.6,456.2L1173.9,455.8L1175.1,456.9L1176.4,458.2L1177.6,458.5L1178.9,459.1L1180.1,460.6L1181.4,460.5L1182.6,458.6L1183.9,459.2L1185.1,463.7L1186.4,466.1L1187.6,462.9L1188.9,458.6L1190.1,459.0L1191.4,461.9L1192.6,463.0L1193.9,462.2L1195.1,461.7L1196.4,461.5L1197.6,461.1L1198.9,461.0L1200.1,461.1L1201.4,461.0L1202.6,460.6L1203.9,459.1L1205.1,455.1L1206.4,450.8L1207.6,450.6L1208.9,453.3L1210.1,453.9L1211.4,452.8L1212.6,453.4L1213.9,456.0L1215.1,457.2L1216.4,457.0L1217.6,457.8L1218.9,458.7L1220.1,456.6L1221.4,453.8L1222.6,455.4L1223.9,460.4L1225.1,463.7L1226.4,463.9L1227.6,463.5L1228.9,464.4L1230.1,466.1L1231.4,467.2L1232.6,466.9L1233.9,466.4L1235.1,468.2L1236.4,470.8L1237.6,470.1L1238.9,465.1L1240.1,461.3L1241.4,462.3L1242.6,463.1L1243.9,459.2L1245.1,454.7L1246.4,454.3L1247.6,454.8L1248.9,453.8L1250.1,452.0L1251.4,451.1L1252.6,451.0L1253.9,452.3L1255.1,454.4L1256.4,456.8L1257.6,459.4L1258.9,462.8L1260.1,465.8L1261.4,466.7L1262.6,463.9L1263.9,459.3L1265.1,456.7L1266.4,457.7L1267.6,460.8L1268.9,463.1L1270.1,462.4L1271.4,460.6L1272.6,460.6L1273.9,462.4L1275.1,463.1L1276.4,460.9L1277.6,457.6L1278.9,455.3L1280.1,454.9L1281.4,455.6L1282.6,456.3L1283.9,456.2L1285.1,455.6L1286.4,455.7L1287.6,456.2L1288.9,457.1L1290.1,458.4L1291.4,459.6L1292.6,460.2L1293.9,460.1L1295.1,460.4L1296.4,460.6L1297.6,460.5L1298.9,461.4L1300.1,463.1L1301.4,463.1L1302.6,461.2L1303.9,460.8L1305.1,463.8L1306.4,466.0L1307.6,463.7L1308.9,459.6L1310.1,458.7L1311.4,461.3L1312.6,463.5L1313.9,463.4L1315.1,461.5L1316.4,460.1L1317.6,460.7L1318.9,461.9L1320.1,461.6L1321.4,459.8L1322.6,458.7L1323.9,458.4L1325.1,456.6L1326.4,454.4L1327.6,454.7L1328.9,456.7L1330.1,456.5L1331.4,453.8L1332.6,452.1L1333.9,452.5L1335.1,452.3L1336.4,451.1L1337.6,450.3L1338.9,449.7L1340.1,449.3L1341.4,448.9L1342.6,450.5L1343.9,453.9L1345.1,457.2L1346.4,459.1L1347.6,459.7L1348.9,460.1L1350.1,461.7L1351.4,464.4L1352.6,465.3L1353.9,463.3L1355.1,462.6L1356.4,465.3L1357.6,467.5L1358.9,466.4L1360.1,465.4L1361.4,468.3L1362.6,471.5L1363.9,470.7L1365.1,468.0L1366.4,467.4L1367.6,468.1L1368.9,468.3L1370.1,468.1L1371.4,468.0L1372.6,467.6L1373.9,466.7L1375.1,465.9L1376.4,464.5L1377.6,463.0L1378.9,463.8L1380.1,465.8L1381.4,464.5L1382.6,460.0L1383.9,458.1L1385.1,459.8L1386.4,459.8L1387.6,457.4L1388.9,458.0L1390.1,460.6L1391.4,459.5L1392.6,457.2L1393.9,461.0L1395.1,468.0L1396.4,467.8L1397.6,460.6L1398.9,454.3L1400.1,453.2L1401.4,455.2L1402.6,457.8L1403.9,459.1L1405.1,457.4L1406.4,456.5L1407.6,459.0L1408.9,461.4L1410.1,459.8L1411.4,458.9L1412.6,462.8L1413.9,464.2L1415.1,457.5L1416.4,452.7L1417.6,458.2L1418.9,465.5L1420.1,464.2L1421.4,458.8L1422.6,456.9L1423.9,456.4L1425.1,455.0L1426.4,456.7L1427.6,460.9L1428.9,461.3L1430.1,458.6L1431.4,459.0L1432.6,462.1L1433.9,463.0L1435.1,462.5L1436.4,463.8L1437.6,463.1L1438.9,459.4L1440.1,458.3L1441.4,460.1L1442.6,458.2L1443.9,453.9L1445.1,455.4L1446.4,460.4L1447.6,459.5L1448.9,454.7L1450.1,455.9L1451.4,461.4L1452.6,462.1L1453.9,458.7L1455.1,457.8L1456.4,458.1L1457.6,456.0L1458.9,454.4L1460.1,455.8L1461.4,456.4L1462.6,455.2L1463.9,456.1L1465.1,458.1L1466.4,456.1L1467.6,453.0L1468.9,455.4L1470.1,459.9L1471.4,459.2L1472.6,455.3L1473.9,454.1L1475.1,455.3L1476.4,456.1L1477.6,458.2L1478.9,461.4L1480.1,461.4L1481.4,459.0L1482.6,460.0L1483.9,463.8L1485.1,464.2L1486.4,461.3L1487.6,460.6L1488.9,462.0L1490.1,461.6L1491.4,460.8L1492.6,462.7L1493.9,465.0L1495.1,464.2L1496.4,462.2L1497.6,461.5L1498.9,460.6L1500.1,458.6L1501.4,457.8L1502.6,458.3L1503.9,457.6L1505.1,456.1L1506.4,456.5L1507.6,457.9L1508.9,457.5L1510.1,455.9L1511.4,455.0L1512.6,454.0L1513.9,452.2L1515.1,452.5L1516.4,455.6L1517.6,456.6L1518.9,454.9L1520.1,455.3L1521.4,459.3L1522.6,462.1L1523.9,461.1L1525.1,460.3L1526.4,461.8L1527.6,463.7L1528.9,464.4L1530.1,464.5L1531.4,464.1L1532.6,462.9L1533.9,461.5L1535.1,460.3L1536.4,458.6L1537.6,457.7L1538.9,459.5L1540.1,461.3L1541.4,458.9L1542.6,454.5L1543.9,453.2L1545.1,454.4L1546.4,453.1L1547.6,449.7L1548.9,448.5L1550.1,449.1L1551.4,449.0L1552.6,449.9L1553.9,453.7L1555.1,457.7L1556.4,457.8L1557.6,455.7L1558.9,455.4L1560.1,457.2L1561.4,459.0L1562.6,460.0L1563.9,460.3L1565.1,461.0L1566.4,463.5L1567.6,466.3L1568.9,465.8L1570.1,463.4L1571.4,465.1L1572.6,470.4L1573.9,471.3L1575.1,465.9L1576.4,462.0L1577.6,464.5L1578.9,466.7L1580.1,463.2L1581.4,459.4L1582.6,460.1L1583.9,461.8L1585.1,460.5L1586.4,458.7L1587.6,459.7L1588.9,463.4L1590.1,466.5L1591.4,466.0L1592.6,462.6L1593.9,460.9L1595.1,463.2L1596.4,467.2L1597.6,467.5L1598.9,464.8L1600.1,462.5L1601.4,460.5L1602.6,457.7L1603.9,457.8L1605.1,462.1L1606.4,464.5L1607.6,459.2L1608.9,451.8L1610.1,450.9L1611.4,456.1L1612.6,460.1L1613.9,459.4L1615.1,457.8L1616.4,458.3L1617.6,459.3L1618.9,459.2L1620.1,459.1L1621.4,461.1L1622.6,463.9L1623.9,463.6L1625.1,459.7L1626.4,458.1L1627.6,463.5L1628.9,471.6L1630.1,474.3L1631.4,469.9L1632.6,464.9L1633.9,464.1L1635.1,465.6L1636.4,465.2L1637.6,463.6L1638.9,462.4L1640.1,462.1L1641.4,461.7L1642.6,461.2L1643.9,461.1L1645.1,461.1L1646.4,460.1L1647.6,457.8L1648.9,455.9L1650.1,455.4L1651.4,455.5L1652.6,455.7L1653.9,456.6L1655.1,458.1L1656.4,458.5L1657.6,457.0L1658.9,455.6L1660.1,456.1L1661.4,457.8L1662.6,458.9L1663.9,459.0L1665.1,458.8L1666.4,458.8L1667.6,459.0L1668.9,459.2L1670.1,459.1L1671.4,459.4L1672.6,461.0L1673.9,462.8L1675.1,463.1L1676.4,462.1L1677.6,462.4L1678.9,464.3L1680.1,465.7L1681.4,465.4L1682.6,464.7L1683.9,464.6L1685.1,465.6L1686.4,467.9L1687.6,470.7L1688.9,471.5L1690.1,469.7L1691.4,468.1L1692.6,468.5L1693.9,468.9L1695.1,468.1L1696.4,467.4L1697.6,468.1L1698.9,468.7L1700.1,468.5L1701.4,468.6L1702.6,469.6L1703.9,470.5L1705.1,470.6L1706.4,470.0L1707.6,468.9L1708.9,467.9L1710.1,468.6L1711.4,470.2L1712.6,469.8L1713.9,467.6L1715.1,467.1L1716.4,469.1L1717.6,470.3L1718.9,470.1L1720.1,470.7L1721.4,471.7L1722.6,470.9L1723.9,470.1L1725.1,472.4L1726.4,475.0L1727.6,474.0L1728.9,471.5L1730.1,471.3L1731.4,472.9L1732.6,472.4L1733.9,469.4L1735.1,466.1L1736.4,463.0L1737.6,460.8L1738.9,460.0L1740.1,458.7L1741.4,457.0L1742.6,457.8L1743.9,461.4L1745.1,462.3L1746.4,459.1L1747.6,459.7L1748.9,466.5L1750.1,469.5L1751.4,463.7L1752.6,458.2L1753.9,460.2L1755.1,463.8L1756.4,462.4L1757.6,459.3L1758.9,458.3L1760.1,457.8L1761.4,457.5L1762.6,459.5L1763.9,462.2L1765.1,462.1L1766.4,460.8L1767.6,460.0L1768.9,457.2L1770.1,454.0L1771.4,455.5L1772.6,459.3L1773.9,458.7L1775.1,456.7L1776.4,460.7L1777.6,466.0L1778.9,463.2L1780.1,457.7L1781.4,460.1L1782.6,465.6L1783.9,463.3L1785.1,457.1L1786.4,458.2L1787.6,464.5L1788.9,467.0L1790.1,465.1L1791.4,463.2L1792.6,462.1L1793.9,460.5L1795.1,459.3L1796.4,457.4L1797.6,455.5L1798.9,457.9L1800.1,464.4L1801.4,465.5L1802.6,458.3L1803.9,453.9L1805.1,459.0L1806.4,464.3L1807.6,462.2L1808.9,458.9L1810.1,459.4L1811.4,458.9L1812.6,455.3L1813.9,454.8L1815.1,458.1L1816.4,457.8L1817.6,453.1L1818.9,451.0L1820.1,453.3L1821.4,456.6L1822.6,459.3L1823.9,461.7L1825.1,461.2L1826.4,458.2L1827.6,456.9L1828.9,458.5L1830.1,459.4L1831.4,459.8L1832.6,462.5L1833.9,464.6L1835.1,462.2L1836.4,459.8L1837.6,463.5L1838.9,469.2L1840.1,469.0L1841.4,465.0L1842.6,463.8L1843.9,464.8L1845.1,465.2L1846.4,464.9L1847.6,465.1L1848.9,464.4L1850.1,462.5L1851.4,461.7L1852.6,461.9L1853.9,460.9L1855.1,459.4L1856.4,459.6L1857.6,459.7L1858.9,457.5L1860.1,455.6L1861.4,457.0L1862.6,459.0L1863.9,459.4L1865.1,459.6L1866.4,461.0L1867.6,461.3L1868.9,460.1L1870.1,460.5L1871.4,462.5L1872.6,463.5L1873.9,463.3L1875.1,465.1L1876.4,468.4L1877.6,469.9L1878.9,470.2L1880.1,471.8L1881.4,472.6L1882.6,471.5L1883.9,469.4L1885.1,467.8L1886.4,465.8L1887.6,463.7L1888.9,463.7L1890.1,464.9L1891.4,463.2L1892.6,459.0L1893.9,457.0L1895.1,458.2L1896.4,459.3L1897.6,459.5L1898.9,459.9L1900.1,459.3L1901.4,456.9L1902.6,456.0L1903.9,457.8L1905.1,458.1L1906.4,455.9L1907.6,455.8L1908.9,458.2L1910.1,458.4L1911.4,456.4L1912.6,457.7L1913.9,461.8L1915.1,462.2L1916.4,457.7L1917.6,454.6L1918.9,455.8L1920.1,458.7L1921.4,461.4L1922.6,462.6L1923.9,461.7L1925.1,460.4L1926.4,461.9L1927.6,464.1L1928.9,462.4L1930.1,458.4L1931.4,457.3L1932.6,458.4L1933.9,457.6L1935.1,456.8L1936.4,459.2L1937.6,461.8L1938.9,459.9L1940.1,458.5L1941.4,462.8L1942.6,467.8L1943.9,467.7L1945.1,465.9L1946.4,467.6L1947.6,470.8L1948.9,471.2L1950.1,469.6L1951.4,468.3L1952.6,468.5L1953.9,468.4L1955.1,466.7L1956.4,464.2L1957.6,463.7L1958.9,466.4L1960.1,467.0L1961.4,460.3L1962.6,452.4L1963.9,452.4L1965.1,459.2L1966.4,462.4L1967.6,458.9L1968.9,456.6L1970.1,459.6L1971.4,462.8L1972.6,462.2L1973.9,460.5L1975.1,461.1L1976.4,462.2L1977.6,461.4L1978.9,459.8L1980.1,460.1L1981.4,462.8L1982.6,465.2L1983.9,465.0L1985.1,463.2L1986.4,462.7L1987.6,463.4L1988.9,462.6L1990.1,460.6L1991.4,460.4L1992.6,462.1L1993.9,462.2L1995.1,459.6L1996.4,458.5L1997.6,461.1L1998.9,464.0L2000.1,463.5L2001.4,461.4L2002.6,461.3L2003.9,462.7L2005.1,462.1L2006.4,458.7L2007.6,456.8L2008.9,458.9L2010.1,461.5L2011.4,460.4L2012.6,456.2L2013.9,454.2L2015.1,455.9L2016.4,457.5L2017.6,456.1L2018.9,453.0L2020.1,451.1L2021.4,450.8L2022.6,451.3L2023.9,453.2L2025.1,455.7L2026.4,457.9L2027.6,458.6L2028.9,457.3L2030.1,455.7L2031.4,456.1L2032.6,457.6L2033.9,458.0L2035.1,456.3L2036.4,454.7L2037.6,455.3L2038.9,456.7L2040.1,458.1L2041.4,460.2L2042.6,462.1L2043.9,462.3L2045.1,460.8L2046.4,460.9L2047.6,463.7L2048.9,466.0L2050.1,464.7L2051.4,461.3L2052.6,458.7L2053.9,458.3L2055.1,459.6L2056.4,461.5L2057.6,462.2L2058.9,461.9L2060.1,462.0L2061.4,462.2L2062.6,461.0L2063.9,459.1L2065.1,459.2L2066.4,460.8L2067.6,460.5L2068.9,458.5L2070.1,458.2L2071.4,460.2L2072.6,461.5L2073.9,461.8L2075.1,462.2L2076.4,462.1L2077.6,461.0L2078.9,461.5L2080.1,464.4L2081.4,466.2L2082.6,465.4L2083.9,465.3L2085.1,467.0L2086.4,467.0L2087.6,464.7L2088.9,464.1L2090.1,465.7L2091.4,466.8L2092.6,466.7L2093.9,466.2L2095.1,464.0L2096.4,460.2L2097.6,459.7L2098.9,463.1L2100.1,464.7L2101.4,462.2L2102.6,460.6L2103.9,462.5L2105.1,463.8L2106.4,463.8L2107.6,465.0L2108.9,465.2L2110.1,460.4L2111.4,455.2L2112.6,456.1L2113.9,459.2L2115.1,458.6L2116.4,457.7L2117.6,460.6L2118.9,462.0L2120.1,458.3L2121.4,456.1L2122.6,459.6L2123.9,463.2L2125.1,462.1L2126.4,458.9L2127.6,456.9L2128.9,457.0L2130.1,461.0L2131.4,466.8L2132.6,467.3L2133.9,462.2L2135.1,461.3L2136.4,467.5L2137.6,470.1L2138.9,464.6L2140.1,460.8L2141.4,462.7L2142.6,462.9L2143.9,458.8L2145.1,458.1L2146.4,462.4L2147.6,464.1L2148.9,461.8L2150.1,461.4L2151.4,463.6L2152.6,464.2L2153.9,463.9L2155.1,465.0L2156.4,465.8L2157.6,465.7L2158.9,467.6L2160.1,470.8L2161.4,471.0L2162.6,469.6L2163.9,470.6L2165.1,470.6L2166.4,466.1L2167.6,463.0L2168.9,465.8L2170.1,467.5L2171.4,461.8L2172.6,455.8L2173.9,457.3L2175.1,461.4L2176.4,460.4L2177.6,456.4L2178.9,455.6L2180.1,457.0L2181.4,457.4L2182.6,456.8L2183.9,455.9L2185.1,454.3L2186.4,453.8L2187.6,454.7L2188.9,454.8L2190.1,453.6L2191.4,455.0L2192.6,458.9L2193.9,460.1L2195.1,457.3L2196.4,455.9L2197.6,457.6L2198.9,457.9L2200.1,455.6L2201.4,455.6L2202.6,458.5L2203.9,459.9L2205.1,459.1L2206.4,460.0L2207.6,462.6L2208.9,463.6L2210.1,462.7L2211.4,462.5L2212.6,462.4L2213.9,461.7L2215.1,460.7L2216.4,460.2L2217.6,460.0L2218.9,460.5L2220.1,462.2L2221.4,462.5L2222.6,459.4L2223.9,456.9L2225.1,459.4L2226.4,463.2L2227.6,462.7L2228.9,459.8L2230.1,460.1L2231.4,462.0L2232.6,461.7L2233.9,461.0L2235.1,462.8L2236.4,465.0L2237.6,464.5L2238.9,463.2L2240.1,463.4L2241.4,463.9L2242.6,463.9L2243.9,464.1L2245.1,462.1L2246.4,457.0L2247.6,453.3L2248.9,454.7L2250.1,457.9L2251.4,458.3L2252.6,457.3L2253.9,456.8L2255.1,454.4L2256.4,451.7L2257.6,454.9L2258.9,461.2L2260.1,462.5L2261.4,458.7L2262.6,457.6L2263.9,460.1L2265.1,461.5L2266.4,460.5L2267.6,460.6L2268.9,461.1L2270.1,459.1L2271.4,456.7L2272.6,456.9L2273.9,457.8L2275.1,458.2L2276.4,459.8L2277.6,461.1L2278.9,458.5L2280.1,455.7L2281.4,458.8L2282.6,464.4L2283.9,465.0L2285.1,461.5L2286.4,459.9L2287.6,460.3L2288.9,459.7L2290.1,459.8L2291.4,462.2L2292.6,463.9L2293.9,463.9L2295.1,465.5L2296.4,467.9L2297.6,465.9L2298.9,461.2L2300.1,461.1L2301.4,464.4L2302.6,463.9L2303.9,459.2L2305.1,456.3L2306.4,457.1L2307.6,458.6L2308.9,459.3L2310.1,459.3L2311.4,457.4L2312.6,454.4L2313.9,453.7L2315.1,455.6L2316.4,457.0L2317.6,457.0L2318.9,456.7L2320.1,454.9L2321.4,450.7L2322.6,447.9L2323.9,449.6L2325.1,452.5L2326.4,453.0L2327.6,452.6L2328.9,453.5L2330.1,453.5L2331.4,452.4L2332.6,453.3L2333.9,456.4L2335.1,457.2L2336.4,454.0L2337.6,451.6L2338.9,454.3L2340.1,459.6L2341.4,462.1L2342.6,460.3L2343.9,457.0L2345.1,456.2L2346.4,458.0L2347.6,459.4L2348.9,458.7L2350.1,458.5L2351.4,460.8L2352.6,463.4L2353.9,463.0L2355.1,460.8L2356.4,460.5L2357.6,461.2L2358.9,459.8L2360.1,456.7L2361.4,455.1L2362.6,456.7L2363.9,458.6L2365.1,458.5L2366.4,457.5L2367.6,457.6L2368.9,459.1L2370.1,460.3L2371.4,461.1L2372.6,462.5L2373.9,464.5L2375.1,465.8L2376.4,466.1L2377.6,466.5L2378.9,467.3L2380.1,467.1L2381.4,464.7L2382.6,462.3L2383.9,462.5L2385.1,464.6L2386.4,465.0L2387.6,463.0L2388.9,460.9L2390.1,460.8L2391.4,461.9L2392.6,461.7L2393.9,461.0L2395.1,461.6L2396.4,464.5L2397.6,466.9L2398.9,466.7L2400.1,466.5L2401.4,469.0L2402.6,472.4L2403.9,471.6L2405.1,468.3L2406.4,466.7L2407.6,467.6L2408.9,467.9L2410.1,466.4L2411.4,464.8L2412.6,464.2L2413.9,463.8L2415.1,463.1L2416.4,462.0L2417.6,460.8L2418.9,460.1L2420.1,460.1L2421.4,460.0L2422.6,459.4L2423.9,460.1L2425.1,462.1L2426.4,462.9L2427.6,463.2L2428.9,466.4L2430.1,471.0L2431.4,471.1L2432.6,466.6L2433.9,465.0L2435.1,468.9L2436.4,471.4L2437.6,469.0L2438.9,465.8L2440.1,465.5L2441.4,466.1L2442.6,465.6L2443.9,465.1L2445.1,465.1L2446.4,464.9L2447.6,464.4L2448.9,463.1L2450.1,460.7L2451.4,460.9L2452.6,466.3L2453.9,470.9L2455.1,466.9L2456.4,458.4L2457.6,455.8L2458.9,459.4L2460.1,461.5L2461.4,460.8L2462.6,460.3L2463.9,458.4L2465.1,454.6L2466.4,453.5L2467.6,458.0L2468.9,461.4L2470.1,459.1L2471.4,456.4L2472.6,457.5L2473.9,459.5L2475.1,461.2L2476.4,464.6L2477.6,467.2L2478.9,465.0L2480.1,460.6L2481.4,459.1L2482.6,459.0L2483.9,458.9L2485.1,461.9L2486.4,467.2L2487.6,467.6L2488.9,462.9L2490.1,461.8L2491.4,466.1L2492.6,468.0L2493.9,464.7L2495.1,462.4L2496.4,462.4L2497.6,461.0L2498.9,459.7L2500.1,461.2L2501.4,462.0L2502.6,459.2L2503.9,458.0L2505.1,460.8L2506.4,461.7L2507.6,458.8L2508.9,458.4L2510.1,463.0L2511.4,466.2L2512.6,464.8L2513.9,463.0L2515.1,463.0L2516.4,463.3L2517.6,464.6L2518.9,467.7L2520.1,469.0L2521.4,467.1L2522.6,466.4L2523.9,468.6L2525.1,469.5L2526.4,467.3L2527.6,467.2L2528.9,469.3L2530.1,468.0L2531.4,463.8L2532.6,462.7L2533.9,465.1L2535.1,466.0L2536.4,464.1L2537.6,462.8L2538.9,461.9L2540.1,459.7L2541.4,458.4L2542.6,460.1L2543.9,461.9L2545.1,460.7L2546.4,458.9L2547.6,458.7L2548.9,459.5L2550.1,460.7L2551.4,462.4L2552.6,462.5L2553.9,459.9L2555.1,458.2L2556.4,459.7L2557.6,460.8L2558.9,458.5L2560.1,456.5L2561.4,457.9L2562.6,459.0L2563.9,456.5L2565.1,454.2L2566.4,455.4L2567.6,456.6L2568.9,454.5L2570.1,451.5L2571.4,450.7L2572.6,451.9L2573.9,453.9L2575.1,455.8L2576.4,456.6L2577.6,456.3L2578.9,457.5L2580.1,460.5L2581.4,461.7L2582.6,460.3L2583.9,460.7L2585.1,463.5L2586.4,463.6L2587.6,461.5L2588.9,461.7L2590.1,463.3L2591.4,461.0L2592.6,456.2L2593.7,455.7"/>
</g>
<path stroke="#000" fill="none" stroke-width="2.15" d="M205.43,1551.4v-33.6M205.43,145.43v33.6M300.96,1551.4v-17.1M300.96,145.43v17.1M396.48,1551.4v-17.1M396.48,145.43v17.1M492.01,1551.4v-17.1M492.01,145.43v17.1M587.54,1551.4v-17.1M587.54,145.43v17.1M683.06,1551.4v-33.6M683.06,145.43v33.6M778.59,1551.4v-17.1M778.59,145.43v17.1M874.12,1551.4v-17.1M874.12,145.43v17.1M969.64,1551.4v-17.1M969.64,145.43v17.1M1065.17,1551.4v-17.1M1065.17,145.43v17.1M1160.70,1551.4v-33.6M1160.70,145.43v33.6M1256.22,1551.4v-17.1M1256.22,145.43v17.1M1351.75,1551.4v-17.1M1351.75,145.43v17.1M1447.28,1551.4v-17.1M1447.28,145.43v17.1M1542.81,1551.4v-17.1M1542.81,145.43v17.1M1638.33,1551.4v-33.6M1638.33,145.43v33.6M1733.86,1551.4v-17.1M1733.86,145.43v17.1M1829.39,1551.4v-17.1M1829.39,145.43v17.1M1924.91,1551.4v-17.1M1924.91,145.43v17.1M2020.44,1551.4v-17.1M2020.44,145.43v17.1M2115.97,1551.4v-33.6M2115.97,145.43v33.6M2211.49,1551.4v-17.1M2211.49,145.43v17.1M2307.02,1551.4v-17.1M2307.02,145.43v17.1M2402.55,1551.4v-17.1M2402.55,145.43v17.1M2498.07,1551.4v-17.1M2498.07,145.43v17.1M2593.60,1551.4v-33.6M2593.60,145.43v33.6M205.43,1551.40h33.6M2593.6,1551.40h-33.6M205.43,1504.53h17.1M2593.6,1504.53h-17.1M205.43,1457.67h17.1M2593.6,1457.67h-17.1M205.43,1410.80h17.1M2593.6,1410.80h-17.1M205.43,1363.94h17.1M2593.6,1363.94h-17.1M205.43,1317.07h33.6M2593.6,1317.07h-33.6M205.43,1270.21h17.1M2593.6,1270.21h-17.1M205.43,1223.34h17.1M2593.6,1223.34h-17.1M205.43,1176.47h17.1M2593.6,1176.47h-17.1M205.43,1129.61h17.1M2593.6,1129.61h-17.1M205.43,1082.74h33.6M2593.6,1082.74h-33.6M205.43,1035.88h17.1M2593.6,1035.88h-17.1M205.43,989.01h17.1M2593.6,989.01h-17.1M205.43,942.15h17.1M2593.6,942.15h-17.1M205.43,895.28h17.1M2593.6,895.28h-17.1M205.43,848.42h33.6M2593.6,848.42h-33.6M205.43,801.55h17.1M2593.6,801.55h-17.1M205.43,754.68h17.1M2593.6,754.68h-17.1M205.43,707.82h17.1M2593.6,707.82h-17.1M205.43,660.95h17.1M2593.6,660.95h-17.1M205.43,614.09h33.6M2593.6,614.09h-33.6M205.43,567.22h17.1M2593.6,567.22h-17.1M205.43,520.36h17.1M2593.6,520.36h-17.1M205.43,473.49h17.1M2593.6,473.49h-17.1M205.43,426.62h17.1M2593.6,426.62h-17.1M205.43,379.76h33.6M2593.6,379.76h-33.6M205.43,332.89h17.1M2593.6,332.89h-17.1M205.43,286.03h17.1M2593.6,286.03h-17.1M205.43,239.16h17.1M2593.6,239.16h-17.1M205.43,192.30h17.1M2593.6,192.30h-17.1M205.43,145.43h33.6M2593.6,145.43h-33.6"/>
<rect x="205.43" y="145.43" width="2388.17" height="1405.97" fill="none" stroke="#000" stroke-width="3.15"/>
<g clip-path="url(#ax)" fill="none" stroke-width="12.5" stroke-linejoin="round" stroke-linecap="square" stroke-opacity="0.8">
<path stroke="#228833" d="M205.1,382.8L206.4,367.9L207.6,352.6L208.9,343.7L210.1,338.0L211.4,334.3L212.6,329.8L213.9,322.7L215.1,313.3L216.4,305.7L217.6,305.7L218.9,310.6L220.1,313.4L221.4,312.7L222.6,309.5L223.9,307.8L225.1,307.3L226.4,307.3L227.6,307.3L228.9,311.1L230.1,319.1L231.4,327.0L232.6,332.8L233.9,337.9L235.1,339.3L236.4,338.1L237.6,349.2L238.9,370.8L240.1,395.5L241.4,417.4L242.6,439.1L243.9,438.9L245.1,433.1L246.4,424.3L247.6,419.7L248.9,416.8L250.1,411.5L251.4,405.0L252.6,398.6L253.9,391.3L255.1,384.8L256.4,384.6L257.6,388.8L258.9,397.1L260.1,404.0L261.4,404.3L262.6,405.1L263.9,412.0L265.1,416.0L266.4,415.4L267.6,422.5L268.9,434.5L270.1,427.5L271.4,411.1L272.6,401.8L273.9,393.9L275.1,377.5L276.4,361.6L277.6,346.8L278.9,293.9L280.1,252.7L281.4,237.3L282.6,229.5L283.9,226.3L285.1,235.7L286.4,262.9L287.6,291.4L288.9,317.9L290.1,347.5L291.4,380.4L292.6,407.2L293.9,425.7L295.1,447.6L296.4,469.5L297.6,471.3L298.9,461.8L300.1,456.7L301.4,451.7L302.6,445.3L303.9,440.8L305.1,436.0L306.4,429.9L307.6,429.0L308.9,432.9L310.1,435.0L311.4,434.8L312.6,438.1L313.9,446.5L315.1,455.3L316.4,459.1L317.6,462.7L318.9,474.3L320.1,488.0L321.4,498.3L322.6,508.8L323.9,520.7L325.1,527.0L326.4,529.6L327.6,533.8L328.9,531.0L330.1,521.6L331.4,512.5L332.6,513.9L333.9,522.0L335.1,524.7L336.4,524.7L337.6,525.8L338.9,527.4L340.1,529.6L341.4,531.8L342.6,533.1L343.9,533.8L345.1,533.5L346.4,528.5L347.6,521.8L348.9,516.8L350.1,512.0L351.4,502.6L352.6,493.3L353.9,487.3L355.1,481.0L356.4,473.7L357.6,469.0L358.9,465.9L360.1,460.9L361.4,456.4L362.6,455.1L363.9,452.8L365.1,448.9L366.4,446.5L367.6,444.7L368.9,442.7L370.1,444.3L371.4,447.2L372.6,445.7L373.9,443.2L375.1,445.8L376.4,448.8L377.6,448.3L378.9,450.9L380.1,457.2L381.4,460.0L382.6,460.9L383.9,467.7L385.1,474.2L386.4,471.4L387.6,464.1L388.9,463.9L390.1,464.2L391.4,458.5L392.6,454.1L393.9,458.9L395.1,465.6L396.4,471.1L397.6,477.4L398.9,482.8L400.1,483.0L401.4,478.9L402.6,476.6L403.9,478.7L405.1,477.7L406.4,471.4L407.6,467.4L408.9,468.0L410.1,466.3L411.4,460.0L412.6,455.0L413.9,452.7L415.1,450.2L416.4,448.8L417.6,448.3L418.9,443.5L420.1,437.1L421.4,435.3L422.6,436.7L423.9,436.8L425.1,440.0L426.4,444.7L427.6,444.8L428.9,443.6L430.1,449.3L431.4,454.9L432.6,453.5L433.9,449.4L435.1,449.7L436.4,444.9L437.6,437.7L438.9,435.8L440.1,436.6L441.4,433.5L442.6,432.6L443.9,437.8L445.1,443.2L446.4,446.4L447.6,449.4L448.9,451.8L450.1,453.9L451.4,455.8L452.6,457.2L453.9,456.4L455.1,456.3L456.4,454.4L457.6,446.7L458.9,444.1L460.1,451.4L461.4,455.9L462.6,452.8L463.9,458.2L465.1,474.0L466.4,482.5L467.6,481.6L468.9,484.9L470.1,489.6L471.4,488.2L472.6,488.6L473.9,494.9L475.1,496.5L476.4,490.7L477.6,486.9L478.9,487.9L480.1,485.2L481.4,479.0L482.6,474.4L483.9,471.7L485.1,470.0L486.4,470.0L487.6,470.0L488.9,467.6L490.1,465.0L491.4,463.9L492.6,461.6L493.9,457.2L495.1,450.6L496.4,442.9L497.6,438.0L498.9,435.0L500.1,431.7L501.4,427.6L502.6,423.0L503.9,419.4L505.1,418.6L506.4,420.2L507.6,420.1L508.9,419.7L510.1,422.3L511.4,426.8L512.6,428.4L513.9,434.4L515.1,446.3L516.4,461.4L517.6,478.2L518.9,476.3L520.1,463.3L521.4,445.6L522.6,427.9L523.9,413.2L525.1,402.4L526.4,394.8L527.6,394.7L528.9,397.0L530.1,387.5L531.4,373.9L532.6,372.4L533.9,373.9L535.1,376.7L536.4,379.9L537.6,381.5L538.9,371.6L540.1,347.7L541.4,345.5L542.6,342.4L543.9,338.2L545.1,328.6L546.4,300.2L547.6,261.1L548.9,231.3L550.1,208.2L551.4,186.3L552.6,166.6L553.9,161.5L555.1,161.1L556.4,159.5L557.6,166.5L558.9,176.7L560.1,185.5L561.4,192.1L562.6,198.3L563.9,203.5L565.1,221.8L566.4,233.3L567.6,244.4L568.9,246.4L570.1,241.1L571.4,236.7L572.6,230.2L573.9,211.2L575.1,198.1L576.4,196.6L577.6,191.1L578.9,185.2L580.1,186.3L581.4,193.2L582.6,194.7L583.9,199.4L585.1,210.6L586.4,242.6L587.6,271.0L588.9,290.6L590.1,304.3L591.4,313.4L592.6,315.9L593.9,316.0L595.1,321.1L596.4,318.4L597.6,296.5L598.9,274.3L600.1,261.8L601.4,249.3L602.6,229.1L603.9,212.4L605.1,205.7L606.4,199.4L607.6,190.4L608.9,194.7L610.1,204.2L611.4,207.5L612.6,207.4L613.9,207.6L615.1,204.6L616.4,198.5L617.6,197.5L618.9,201.4L620.1,202.3L621.4,203.9L622.6,212.8L623.9,224.3L625.1,242.3L626.4,271.1L627.6,319.2L628.9,352.7L630.1,356.1L631.4,435.8L632.6,454.7L633.9,465.1L635.1,476.0L636.4,483.3L637.6,490.2L638.9,498.2L640.1,505.3L641.4,508.3L642.6,510.9L643.9,511.9L645.1,500.8L646.4,485.1L647.6,464.6L648.9,447.3L650.1,444.1L651.4,445.2L652.6,445.3L653.9,438.6L655.1,432.2L656.4,434.1L657.6,436.5L658.9,433.2L660.1,432.7L661.4,437.1L662.6,439.5L663.9,439.6L665.1,443.0L666.4,446.4L667.6,444.7L668.9,443.5L670.1,448.2L671.4,453.9L672.6,455.0L673.9,454.0L675.1,455.3L676.4,457.6L677.6,457.8L678.9,457.5L680.1,459.6L681.4,462.8L682.6,465.4L683.9,467.1L685.1,467.3L686.4,464.7L687.6,458.5L688.9,452.0L690.1,442.4L691.4,431.5L692.6,423.9L693.9,420.4L695.1,417.8L696.4,414.9L697.6,413.0L698.9,413.2L700.1,413.4L701.4,414.3L702.6,418.2L703.9,421.4L705.1,426.6L706.4,435.2L707.6,444.9L708.9,449.8L710.1,452.3L711.4,452.1L712.6,445.1L713.9,433.9L715.1,427.4L716.4,424.5L717.6,420.0L718.9,415.7L720.1,417.9L721.4,422.9L722.6,423.8L723.9,422.0L725.1,422.5L726.4,424.9L727.6,428.2L728.9,430.9L730.1,433.5L731.4,439.6L732.6,449.7L733.9,459.6L735.1,469.7L736.4,479.7L737.6,488.7L738.9,494.1L740.1,496.0L741.4,502.2L742.6,504.2L743.9,498.8L745.1,497.3L746.4,503.0L747.6,504.5L748.9,499.5L750.1,498.2L751.4,501.2L752.6,512.6L753.9,528.8L755.1,539.2L756.4,544.7L757.6,545.9L758.9,546.4L760.1,543.8L761.4,536.9L762.6,527.5L763.9,518.8L765.1,513.0L766.4,512.1L767.6,514.2L768.9,512.5L770.1,507.1L771.4,500.2L772.6,495.7L773.9,491.8L775.1,486.4L776.4,481.2L777.6,478.3L778.9,474.5L780.1,466.7L781.4,460.6L782.6,460.1L783.9,460.9L785.1,458.1L786.4,459.6L787.6,468.3L788.9,471.5L790.1,466.8L791.4,468.8L792.6,477.4L793.9,478.4L795.1,479.5L796.4,492.8L797.6,503.3L798.9,491.9L800.1,479.6L801.4,478.3L802.6,475.9L803.9,466.8L805.1,463.0L806.4,466.2L807.6,463.8L808.9,460.0L810.1,460.7L811.4,461.2L812.6,458.7L813.9,459.5L815.1,464.1L816.4,468.5L817.6,471.8L818.9,472.5L820.1,470.3L821.4,471.2L822.6,477.4L823.9,480.7L825.1,478.5L826.4,476.3L827.6,475.7L828.9,473.5L830.1,471.8L831.4,473.0L832.6,472.7L833.9,471.9L835.1,475.0L836.4,479.3L837.6,480.3L838.9,479.9L840.1,481.0L841.4,483.5L842.6,487.6L843.9,492.4L845.1,494.8L846.4,497.3L847.6,508.3L848.9,516.6L850.1,509.7L851.4,499.5L852.6,493.2L853.9,488.6L855.1,483.7L856.4,483.3L857.6,485.7L858.9,486.5L860.1,485.6L861.4,486.2L862.6,488.0L863.9,487.3L865.1,483.7L866.4,481.6L867.6,482.5L868.9,482.8L870.1,480.9L871.4,480.3L872.6,482.2L873.9,481.8L875.1,479.3L876.4,480.3L877.6,484.3L878.9,486.2L880.1,486.7L881.4,490.4L882.6,493.4L883.9,492.0L885.1,492.4L886.4,497.1L887.6,499.2L888.9,495.0L890.1,492.1L891.4,490.5L892.6,483.9L893.9,476.5L895.1,472.4L896.4,468.5L897.6,465.1L898.9,465.9L900.1,465.9L901.4,460.8L902.6,456.8L903.9,457.5L905.1,453.1L906.4,430.4L907.6,426.6L908.9,424.1L910.1,418.3L911.4,416.1L912.6,418.8L913.9,418.8L915.1,415.1L916.4,415.9L917.6,422.0L918.9,426.5L920.1,427.7L921.4,427.4L922.6,428.5L923.9,439.5L925.1,454.5L926.4,467.5L927.6,478.6L928.9,484.0L930.1,486.6L931.4,488.4L932.6,492.8L933.9,494.6L935.1,488.9L936.4,485.4L937.6,492.1L938.9,498.5L940.1,498.2L941.4,499.5L942.6,506.9L943.9,511.0L945.1,505.3L946.4,499.6L947.6,495.1L948.9,485.6L950.1,476.5L951.4,476.1L952.6,479.6L953.9,478.7L955.1,474.1L956.4,473.2L957.6,479.1L958.9,484.2L960.1,487.0L961.4,490.3L962.6,490.2L963.9,483.8L965.1,473.5L966.4,467.1L967.6,462.6L968.9,456.2L970.1,453.1L971.4,455.1L972.6,454.6L973.9,453.0L975.1,455.4L976.4,456.3L977.6,452.9L978.9,455.7L980.1,466.6L981.4,479.8L982.6,492.2L983.9,510.4L985.1,527.4L986.4,527.9L987.6,529.9L988.9,538.4L990.1,536.7L991.4,510.4L992.6,488.3L993.9,476.7L995.1,462.1L996.4,448.0L997.6,449.6L998.9,455.0L1000.1,456.1L1001.4,454.1L1002.6,451.8L1003.9,444.5L1005.1,439.5L1006.4,441.8L1007.6,448.3L1008.9,453.5L1010.1,455.8L1011.4,455.8L1012.6,457.2L1013.9,460.3L1015.1,461.9L1016.4,461.9L1017.6,463.8L1018.9,468.2L1020.1,472.0L1021.4,474.7L1022.6,478.3L1023.9,480.0L1025.1,479.1L1026.4,478.4L1027.6,479.1L1028.9,477.8L1030.1,474.3L1031.4,472.6L1032.6,476.6L1033.9,482.3L1035.1,488.2L1036.4,493.2L1037.6,497.8L1038.9,502.5L1040.1,506.7L1041.4,507.6L1042.6,508.3L1043.9,509.8L1045.1,511.2L1046.4,510.4L1047.6,506.1L1048.9,501.0L1050.1,495.4L1051.4,490.7L1052.6,488.2L1053.9,486.5L1055.1,484.9L1056.4,482.4L1057.6,479.2L1058.9,479.9L1060.1,483.1L1061.4,485.4L1062.6,488.4L1063.9,495.1L1065.1,502.0L1066.4,502.7L1067.6,501.8L1068.9,504.1L1070.1,504.4L1071.4,499.5L1072.6,497.5L1073.9,500.7L1075.1,499.4L1076.4,495.2L1077.6,497.4L1078.9,500.1L1080.1,494.6L1081.4,490.2L1082.6,495.3L1083.9,498.7L1085.1,492.2L1086.4,485.1L1087.6,480.8L1088.9,474.9L1090.1,468.5L1091.4,465.4L1092.6,459.5L1093.9,450.8L1095.1,445.3L1096.4,443.3L1097.6,440.7L1098.9,437.0L1100.1,435.2L1101.4,436.1L1102.6,440.3L1103.9,448.8L1105.1,453.8L1106.4,452.4L1107.6,452.8L1108.9,460.3L1110.1,485.8L1111.4,504.4L1112.6,515.4L1113.9,518.3L1115.1,517.6L1116.4,517.8L1117.6,516.7L1118.9,514.4L1120.1,512.3L1121.4,509.2L1122.6,505.5L1123.9,505.0L1125.1,505.2L1126.4,500.0L1127.6,494.4L1128.9,495.4L1130.1,496.7L1131.4,490.6L1132.6,484.4L1133.9,481.7L1135.1,477.6L1136.4,470.2L1137.6,466.1L1138.9,464.9L1140.1,460.9L1141.4,452.2L1142.6,444.5L1143.9,441.4L1145.1,440.4L1146.4,437.3L1147.6,430.9L1148.9,426.0L1150.1,421.3L1151.4,414.3L1152.6,409.8L1153.9,414.2L1155.1,418.4L1156.4,417.1L1157.6,421.1L1158.9,430.8L1160.1,433.7L1161.4,429.9L1162.6,430.0L1163.9,432.4L1165.1,429.9L1166.4,428.6L1167.6,430.4L1168.9,426.3L1170.1,418.7L1171.4,418.0L1172.6,420.8L1173.9,419.5L1175.1,417.9L1176.4,418.8L1177.6,418.2L1178.9,418.5L1180.1,423.1L1181.4,426.1L1182.6,423.8L1183.9,426.7L1185.1,438.2L1186.4,447.7L1187.6,453.2L1188.9,460.3L1190.1,467.9L1191.4,473.2L1192.6,477.9L1193.9,483.3L1195.1,486.9L1196.4,485.2L1197.6,482.7L1198.9,482.7L1200.1,481.9L1201.4,478.3L1202.6,474.4L1203.9,472.9L1205.1,473.3L1206.4,472.5L1207.6,472.4L1208.9,475.9L1210.1,481.5L1211.4,485.7L1212.6,488.2L1213.9,491.5L1215.1,494.3L1216.4,494.8L1217.6,497.0L1218.9,503.7L1220.1,509.8L1221.4,513.1L1222.6,516.6L1223.9,521.4L1225.1,522.7L1226.4,517.7L1227.6,512.9L1228.9,509.3L1230.1,506.7L1231.4,504.4L1232.6,500.4L1233.9,496.8L1235.1,495.0L1236.4,495.6L1237.6,496.5L1238.9,500.0L1240.1,504.8L1241.4,509.4L1242.6,513.7L1243.9,515.4L1245.1,509.0L1246.4,500.3L1247.6,495.4L1248.9,493.8L1250.1,491.1L1251.4,487.1L1252.6,483.1L1253.9,477.4L1255.1,473.2L1256.4,472.6L1257.6,469.2L1258.9,461.8L1260.1,461.5L1261.4,466.5L1262.6,464.5L1263.9,458.1L1265.1,458.4L1266.4,460.5L1267.6,459.4L1268.9,463.6L1270.1,473.4L1271.4,472.8L1272.6,463.5L1273.9,463.4L1275.1,471.3L1276.4,470.7L1277.6,465.6L1278.9,469.5L1280.1,476.2L1281.4,477.8L1282.6,479.7L1283.9,484.5L1285.1,486.7L1286.4,487.3L1287.6,491.5L1288.9,493.5L1290.1,489.6L1291.4,481.2L1292.6,474.0L1293.9,473.5L1295.1,477.0L1296.4,478.6L1297.6,477.5L1298.9,478.4L1300.1,481.3L1301.4,481.6L1302.6,479.7L1303.9,477.8L1305.1,475.1L1306.4,471.9L1307.6,470.4L1308.9,469.4L1310.1,468.0L1311.4,468.1L1312.6,468.6L1313.9,467.6L1315.1,468.0L1316.4,470.1L1317.6,470.0L1318.9,469.2L1320.1,473.9L1321.4,480.1L1322.6,476.8L1323.9,467.6L1325.1,460.6L1326.4,451.1L1327.6,435.9L1328.9,424.5L1330.1,422.1L1331.4,421.6L1332.6,420.0L1333.9,417.6L1335.1,415.9L1336.4,415.5L1337.6,415.4L1338.9,413.5L1340.1,411.2L1341.4,410.7L1342.6,408.5L1343.9,405.2L1345.1,408.7L1346.4,412.7L1347.6,409.6L1348.9,407.5L1350.1,416.4L1351.4,427.0L1352.6,428.7L1353.9,426.6L1355.1,424.4L1356.4,419.0L1357.6,412.0L1358.9,410.3L1360.1,416.8L1361.4,424.1L1362.6,435.6L1363.9,456.1L1365.1,472.2L1366.4,481.3L1367.6,491.3L1368.9,503.3L1370.1,514.8L1371.4,525.6L1372.6,534.4L1373.9,538.8L1375.1,541.4L1376.4,546.3L1377.6,550.4L1378.9,552.1L1380.1,553.0L1381.4,554.9L1382.6,556.1L1383.9,553.8L1385.1,549.8L1386.4,545.5L1387.6,539.7L1388.9,532.2L1390.1,523.8L1391.4,516.4L1392.6,509.8L1393.9,502.3L1395.1,496.4L1396.4,494.1L1397.6,490.4L1398.9,484.7L1400.1,480.7L1401.4,479.1L1402.6,475.9L1403.9,471.4L1405.1,470.2L1406.4,471.4L1407.6,468.9L1408.9,465.0L1410.1,464.0L1411.4,465.6L1412.6,465.9L1413.9,468.3L1415.1,473.3L1416.4,465.5L1417.6,448.6L1418.9,434.4L1420.1,422.6L1421.4,411.9L1422.6,400.9L1423.9,394.5L1425.1,392.2L1426.4,393.6L1427.6,397.6L1428.9,397.5L1430.1,398.3L1431.4,406.5L1432.6,419.7L1433.9,433.2L1435.1,438.5L1436.4,439.3L1437.6,432.7L1438.9,428.3L1440.1,427.0L1441.4,419.9L1442.6,411.7L1443.9,409.3L1445.1,411.6L1446.4,413.5L1447.6,417.1L1448.9,421.6L1450.1,425.0L1451.4,432.5L1452.6,444.3L1453.9,456.3L1455.1,454.5L1456.4,448.3L1457.6,446.7L1458.9,442.4L1460.1,436.9L1461.4,438.4L1462.6,437.9L1463.9,413.5L1465.1,384.6L1466.4,368.1L1467.6,351.1L1468.9,332.4L1470.1,318.9L1471.4,313.3L1472.6,317.8L1473.9,328.5L1475.1,346.7L1476.4,368.7L1477.6,387.8L1478.9,405.7L1480.1,427.0L1481.4,439.2L1482.6,444.1L1483.9,445.8L1485.1,452.1L1486.4,462.2L1487.6,473.0L1488.9,484.6L1490.1,494.4L1491.4,502.4L1492.6,503.5L1493.9,493.7L1495.1,485.5L1496.4,480.4L1497.6,476.1L1498.9,472.3L1500.1,470.4L1501.4,467.2L1502.6,463.3L1503.9,461.4L1505.1,458.9L1506.4,457.6L1507.6,461.3L1508.9,467.4L1510.1,472.9L1511.4,484.0L1512.6,492.2L1513.9,492.5L1515.1,495.1L1516.4,502.9L1517.6,508.6L1518.9,506.4L1520.1,503.6L1521.4,503.6L1522.6,502.5L1523.9,499.8L1525.1,498.2L1526.4,497.3L1527.6,497.3L1528.9,499.8L1530.1,500.4L1531.4,495.0L1532.6,488.2L1533.9,483.4L1535.1,480.7L1536.4,480.5L1537.6,482.0L1538.9,479.7L1540.1,474.0L1541.4,472.7L1542.6,476.1L1543.9,476.4L1545.1,474.3L1546.4,477.0L1547.6,480.9L1548.9,479.5L1550.1,477.8L1551.4,479.4L1552.6,478.8L1553.9,475.6L1555.1,476.9L1556.4,481.9L1557.6,484.0L1558.9,483.3L1560.1,485.4L1561.4,488.7L1562.6,489.5L1563.9,489.9L1565.1,492.0L1566.4,494.2L1567.6,495.6L1568.9,496.5L1570.1,497.5L1571.4,498.1L1572.6,498.1L1573.9,498.5L1575.1,501.8L1576.4,505.5L1577.6,504.7L1578.9,497.9L1580.1,491.2L1581.4,487.7L1582.6,484.9L1583.9,483.2L1585.1,482.9L1586.4,485.0L1587.6,488.7L1588.9,492.7L1590.1,494.0L1591.4,495.8L1592.6,500.6L1593.9,502.9L1595.1,499.4L1596.4,496.4L1597.6,497.1L1598.9,495.6L1600.1,490.2L1601.4,487.1L1602.6,485.0L1603.9,478.4L1605.1,472.1L1606.4,470.9L1607.6,468.7L1608.9,463.8L1610.1,463.0L1611.4,467.7L1612.6,469.9L1613.9,466.3L1615.1,459.9L1616.4,455.4L1617.6,456.1L1618.9,459.6L1620.1,459.7L1621.4,457.7L1622.6,458.9L1623.9,459.6L1625.1,457.5L1626.4,460.4L1627.6,466.3L1628.9,465.7L1630.1,465.1L1631.4,478.9L1632.6,493.6L1633.9,495.2L1635.1,494.6L1636.4,504.7L1637.6,514.2L1638.9,509.7L1640.1,490.1L1641.4,484.1L1642.6,472.4L1643.9,462.8L1645.1,462.2L1646.4,460.6L1647.6,455.3L1648.9,454.3L1650.1,456.6L1651.4,455.9L1652.6,456.5L1653.9,459.3L1655.1,459.8L1656.4,459.1L1657.6,464.4L1658.9,471.5L1660.1,472.4L1661.4,469.6L1662.6,470.3L1663.9,471.1L1665.1,467.8L1666.4,465.4L1667.6,468.0L1668.9,471.0L1670.1,469.2L1671.4,467.2L1672.6,470.2L1673.9,473.6L1675.1,472.1L1676.4,472.4L1677.6,480.4L1678.9,486.8L1680.1,489.1L1681.4,497.1L1682.6,508.4L1683.9,501.8L1685.1,486.6L1686.4,478.2L1687.6,474.0L1688.9,464.7L1690.1,457.6L1691.4,458.6L1692.6,461.3L1693.9,461.5L1695.1,461.6L1696.4,459.8L1697.6,453.2L1698.9,446.4L1700.1,445.5L1701.4,448.3L1702.6,450.4L1703.9,451.6L1705.1,451.5L1706.4,451.2L1707.6,453.4L1708.9,455.5L1710.1,454.2L1711.4,453.7L1712.6,457.8L1713.9,462.3L1715.1,463.9L1716.4,466.2L1717.6,468.7L1718.9,470.1L1720.1,473.7L1721.4,483.6L1722.6,492.6L1723.9,498.0L1725.1,503.7L1726.4,510.3L1727.6,514.1L1728.9,517.1L1730.1,520.4L1731.4,521.7L1732.6,520.4L1733.9,516.9L1735.1,510.5L1736.4,500.1L1737.6,492.6L1738.9,489.7L1740.1,486.0L1741.4,483.9L1742.6,486.2L1743.9,489.1L1745.1,488.4L1746.4,492.4L1747.6,507.5L1748.9,517.9L1750.1,521.6L1751.4,525.3L1752.6,529.1L1753.9,530.2L1755.1,528.0L1756.4,527.4L1757.6,530.2L1758.9,534.1L1760.1,535.7L1761.4,538.7L1762.6,544.6L1763.9,547.8L1765.1,547.3L1766.4,547.6L1767.6,547.5L1768.9,541.7L1770.1,533.6L1771.4,528.2L1772.6,517.9L1773.9,502.4L1775.1,491.5L1776.4,489.0L1777.6,486.0L1778.9,480.0L1780.1,474.6L1781.4,470.5L1782.6,467.0L1783.9,467.9L1785.1,472.3L1786.4,473.6L1787.6,472.4L1788.9,476.7L1790.1,481.6L1791.4,479.2L1792.6,474.6L1793.9,474.6L1795.1,473.7L1796.4,472.3L1797.6,475.8L1798.9,477.0L1800.1,468.7L1801.4,461.9L1802.6,464.9L1803.9,469.5L1805.1,468.7L1806.4,466.2L1807.6,461.2L1808.9,452.7L1810.1,446.1L1811.4,443.4L1812.6,439.0L1813.9,438.0L1815.1,440.8L1816.4,441.1L1817.6,440.2L1818.9,441.3L1820.1,437.9L1821.4,429.8L1822.6,430.5L1823.9,440.2L1825.1,442.6L1826.4,439.1L1827.6,444.7L1828.9,455.7L1830.1,459.1L1831.4,465.3L1832.6,482.8L1833.9,498.6L1835.1,504.9L1836.4,512.8L1837.6,524.3L1838.9,530.9L1840.1,534.9L1841.4,542.7L1842.6,550.4L1843.9,554.8L1845.1,557.6L1846.4,561.2L1847.6,563.9L1848.9,560.1L1850.1,554.6L1851.4,550.2L1852.6,547.4L1853.9,537.5L1855.1,524.4L1856.4,519.7L1857.6,517.1L1858.9,515.3L1860.1,513.5L1861.4,507.6L1862.6,497.3L1863.9,488.5L1865.1,486.6L1866.4,486.5L1867.6,483.6L1868.9,482.4L1870.1,482.7L1871.4,479.4L1872.6,477.3L1873.9,480.2L1875.1,481.3L1876.4,476.9L1877.6,476.7L1878.9,484.0L1880.1,487.7L1881.4,484.4L1882.6,482.2L1883.9,482.6L1885.1,481.0L1886.4,479.6L1887.6,481.2L1888.9,480.3L1890.1,472.0L1891.4,463.8L1892.6,457.2L1893.9,444.5L1895.1,429.0L1896.4,421.8L1897.6,418.3L1898.9,417.1L1900.1,416.8L1901.4,413.2L1902.6,408.2L1903.9,406.2L1905.1,406.7L1906.4,407.7L1907.6,409.7L1908.9,413.5L1910.1,415.6L1911.4,418.6L1912.6,427.6L1913.9,434.1L1915.1,435.2L1916.4,436.1L1917.6,440.6L1918.9,446.1L1920.1,449.4L1921.4,453.4L1922.6,458.7L1923.9,463.3L1925.1,468.6L1926.4,475.3L1927.6,480.1L1928.9,481.7L1930.1,484.5L1931.4,486.4L1932.6,485.9L1933.9,484.0L1935.1,483.7L1936.4,481.8L1937.6,477.5L1938.9,474.7L1940.1,472.8L1941.4,469.1L1942.6,464.7L1943.9,463.6L1945.1,463.3L1946.4,460.6L1947.6,457.9L1948.9,456.3L1950.1,451.1L1951.4,445.4L1952.6,440.0L1953.9,441.1L1955.1,445.3L1956.4,442.1L1957.6,435.8L1958.9,435.9L1960.1,437.6L1961.4,434.7L1962.6,435.9L1963.9,441.9L1965.1,439.8L1966.4,431.9L1967.6,434.5L1968.9,445.9L1970.1,450.2L1971.4,451.0L1972.6,459.2L1973.9,470.2L1975.1,476.5L1976.4,480.8L1977.6,484.5L1978.9,484.3L1980.1,486.9L1981.4,492.3L1982.6,491.8L1983.9,483.4L1985.1,474.7L1986.4,466.6L1987.6,453.0L1988.9,436.2L1990.1,422.0L1991.4,405.8L1992.6,389.0L1993.9,378.7L1995.1,369.7L1996.4,357.6L1997.6,345.9L1998.9,338.2L2000.1,326.2L2001.4,304.6L2002.6,282.8L2003.9,258.2L2005.1,230.9L2006.4,204.6L2007.6,191.5L2008.9,183.4L2010.1,191.4L2011.4,202.0L2012.6,209.2L2013.9,212.1L2015.1,216.7L2016.4,216.1L2017.6,205.7L2018.9,204.9L2020.1,215.0L2021.4,219.3L2022.6,216.6L2023.9,219.1L2025.1,225.6L2026.4,241.4L2027.6,248.4L2028.9,255.5L2030.1,258.7L2031.4,252.7L2032.6,243.9L2033.9,232.7L2035.1,219.8L2036.4,210.7L2037.6,204.4L2038.9,203.6L2040.1,202.4L2041.4,197.4L2042.6,199.3L2043.9,209.2L2045.1,222.7L2046.4,240.6L2047.6,257.5L2048.9,273.6L2050.1,286.4L2051.4,297.5L2052.6,317.6L2053.9,354.3L2055.1,347.7L2056.4,369.5L2057.6,390.6L2058.9,399.6L2060.1,405.2L2061.4,414.4L2062.6,425.7L2063.9,435.9L2065.1,447.5L2066.4,458.6L2067.6,461.1L2068.9,461.4L2070.1,466.8L2071.4,473.0L2072.6,474.0L2073.9,474.7L2075.1,478.9L2076.4,481.6L2077.6,480.5L2078.9,478.5L2080.1,477.3L2081.4,474.1L2082.6,471.7L2083.9,476.8L2085.1,483.2L2086.4,486.6L2087.6,488.8L2088.9,492.5L2090.1,497.8L2091.4,502.8L2092.6,505.8L2093.9,504.4L2095.1,502.9L2096.4,501.8L2097.6,499.3L2098.9,497.1L2100.1,498.2L2101.4,498.9L2102.6,496.8L2103.9,495.8L2105.1,496.6L2106.4,494.1L2107.6,489.4L2108.9,488.4L2110.1,489.3L2111.4,487.6L2112.6,487.8L2113.9,492.5L2115.1,496.5L2116.4,496.6L2117.6,495.9L2118.9,497.7L2120.1,500.5L2121.4,502.4L2122.6,502.6L2123.9,500.7L2125.1,495.1L2126.4,490.5L2127.6,488.1L2128.9,485.7L2130.1,482.6L2131.4,480.6L2132.6,480.8L2133.9,483.1L2135.1,483.9L2136.4,482.2L2137.6,485.4L2138.9,491.1L2140.1,498.0L2141.4,508.2L2142.6,510.7L2143.9,497.2L2145.1,486.4L2146.4,488.1L2147.6,487.7L2148.9,477.4L2150.1,471.8L2151.4,473.4L2152.6,471.2L2153.9,469.3L2155.1,477.6L2156.4,485.5L2157.6,481.3L2158.9,483.2L2160.1,496.9L2161.4,503.2L2162.6,498.4L2163.9,500.6L2165.1,507.3L2166.4,504.6L2167.6,497.7L2168.9,496.5L2170.1,493.6L2171.4,485.1L2172.6,479.5L2173.9,476.9L2175.1,471.1L2176.4,463.1L2177.6,455.8L2178.9,448.4L2180.1,443.0L2181.4,441.3L2182.6,438.3L2183.9,435.4L2185.1,439.4L2186.4,445.6L2187.6,447.3L2188.9,447.4L2190.1,450.8L2191.4,455.9L2192.6,459.2L2193.9,463.5L2195.1,468.9L2196.4,472.1L2197.6,472.1L2198.9,471.2L2200.1,469.7L2201.4,472.1L2202.6,478.3L2203.9,484.5L2205.1,488.8L2206.4,492.9L2207.6,497.1L2208.9,499.3L2210.1,502.3L2211.4,505.4L2212.6,501.4L2213.9,493.8L2215.1,489.2L2216.4,485.7L2217.6,477.9L2218.9,467.6L2220.1,461.9L2221.4,460.3L2222.6,459.1L2223.9,455.4L2225.1,446.2L2226.4,436.5L2227.6,426.7L2228.9,416.4L2230.1,407.6L2231.4,399.1L2232.6,384.9L2233.9,367.7L2235.1,358.1L2236.4,352.2L2237.6,329.1L2238.9,315.4L2240.1,306.1L2241.4,277.4L2242.6,248.2L2243.9,222.1L2245.1,212.1L2246.4,211.1L2247.6,208.9L2248.9,211.3L2250.1,215.2L2251.4,212.1L2252.6,195.0L2253.9,182.8L2255.1,173.1L2256.4,165.2L2257.6,162.6L2258.9,169.0L2260.1,175.0L2261.4,184.9L2262.6,199.7L2263.9,223.6L2265.1,245.8L2266.4,273.3L2267.6,312.5L2268.9,336.9L2270.1,340.2L2271.4,336.5L2272.6,329.7L2273.9,315.7L2275.1,297.2L2276.4,285.4L2277.6,277.4L2278.9,273.0L2280.1,275.4L2281.4,280.6L2282.6,285.2L2283.9,301.4L2285.1,334.2L2286.4,361.0L2287.6,367.7L2288.9,385.8L2290.1,399.4L2291.4,413.7L2292.6,427.5L2293.9,435.5L2295.1,442.3L2296.4,440.5L2297.6,432.6L2298.9,416.8L2300.1,399.7L2301.4,384.1L2302.6,364.6L2303.9,347.5L2305.1,325.7L2306.4,308.2L2307.6,286.6L2308.9,250.8L2310.1,225.5L2311.4,206.3L2312.6,197.2L2313.9,194.5L2315.1,193.5L2316.4,196.5L2317.6,201.3L2318.9,207.3L2320.1,214.0L2321.4,218.5L2322.6,217.6L2323.9,213.0L2325.1,214.3L2326.4,214.7L2327.6,204.5L2328.9,192.7L2330.1,191.5L2331.4,194.8L2332.6,199.5L2333.9,205.1L2335.1,219.6L2336.4,246.1L2337.6,275.7L2338.9,313.3L2340.1,345.2L2341.4,361.1L2342.6,386.2L2343.9,410.9L2345.1,425.4L2346.4,439.2L2347.6,445.9L2348.9,445.4L2350.1,442.0L2351.4,450.3L2352.6,461.3L2353.9,458.8L2355.1,452.7L2356.4,455.7L2357.6,458.3L2358.9,453.9L2360.1,453.9L2361.4,461.5L2362.6,465.3L2363.9,464.0L2365.1,465.3L2366.4,469.5L2367.6,471.5L2368.9,473.1L2370.1,477.3L2371.4,483.4L2372.6,488.5L2373.9,490.7L2375.1,491.3L2376.4,493.4L2377.6,494.6L2378.9,488.2L2380.1,479.5L2381.4,468.0L2382.6,454.6L2383.9,443.6L2385.1,436.1L2386.4,435.2L2387.6,434.8L2388.9,433.5L2390.1,432.3L2391.4,429.6L2392.6,426.1L2393.9,424.3L2395.1,425.6L2396.4,426.8L2397.6,427.8L2398.9,430.1L2400.1,438.0L2401.4,450.9L2402.6,461.0L2403.9,466.5L2405.1,460.7L2406.4,449.2L2407.6,441.3L2408.9,432.7L2410.1,427.4L2411.4,425.4L2412.6,424.9L2413.9,425.8L2415.1,426.8L2416.4,425.8L2417.6,423.4L2418.9,421.7L2420.1,420.6L2421.4,419.6L2422.6,420.3L2423.9,422.3L2425.1,423.0L2426.4,425.3L2427.6,432.0L2428.9,446.1L2430.1,444.8L2431.4,443.5L2432.6,447.5L2433.9,449.5L2435.1,448.3L2436.4,450.4L2437.6,452.9L2438.9,449.9L2440.1,447.4L2441.4,451.0L2442.6,453.8L2443.9,452.7L2445.1,455.0L2446.4,460.8L2447.6,463.0L2448.9,462.3L2450.1,466.1L2451.4,471.6L2452.6,476.0L2453.9,481.9L2455.1,489.0L2456.4,493.1L2457.6,495.6L2458.9,498.2L2460.1,499.2L2461.4,498.7L2462.6,500.2L2463.9,502.7L2465.1,503.1L2466.4,500.9L2467.6,497.6L2468.9,493.7L2470.1,490.2L2471.4,487.7L2472.6,484.1L2473.9,478.5L2475.1,471.6L2476.4,465.5L2477.6,462.3L2478.9,461.8L2480.1,457.9L2481.4,454.1L2482.6,456.8L2483.9,464.1L2485.1,465.5L2486.4,463.7L2487.6,466.7L2488.9,481.2L2490.1,490.6L2491.4,497.2L2492.6,504.2L2493.9,497.9L2495.1,484.8L2496.4,477.8L2497.6,472.5L2498.9,459.9L2500.1,435.9L2501.4,425.0L2502.6,423.5L2503.9,423.7L2505.1,420.4L2506.4,417.4L2507.6,421.4L2508.9,429.6L2510.1,435.3L2511.4,445.1L2512.6,458.6L2513.9,469.1L2515.1,474.8L2516.4,485.0L2517.6,501.6L2518.9,507.8L2520.1,505.1L2521.4,510.4L2522.6,520.0L2523.9,519.0L2525.1,508.0L2526.4,501.5L2527.6,485.2L2528.9,479.5L2530.1,479.1L2531.4,479.2L2532.6,472.3L2533.9,467.1L2535.1,478.0L2536.4,490.0L2537.6,500.0L2538.9,502.9L2540.1,500.3L2541.4,490.1L2542.6,477.4L2543.9,470.1L2545.1,462.1L2546.4,451.4L2547.6,447.0L2548.9,446.8L2550.1,440.5L2551.4,434.1L2552.6,434.8L2553.9,436.9L2555.1,435.7L2556.4,434.8L2557.6,438.0L2558.9,442.0L2560.1,443.9L2561.4,445.8L2562.6,449.8L2563.9,453.8L2565.1,456.7L2566.4,460.0L2567.6,464.7L2568.9,466.1L2570.1,462.9L2571.4,461.3L2572.6,465.3L2573.9,471.3L2575.1,474.4L2576.4,477.4L2577.6,481.6L2578.9,485.3L2580.1,487.1L2581.4,489.3L2582.6,491.4L2583.9,492.5L2585.1,494.5L2586.4,497.9L2587.6,497.8L2588.9,494.9L2590.1,491.6L2591.4,488.5L2592.6,486.6L2593.7,484.7"/>
<path stroke="#CCBB44" d="M205.1,404.8L206.4,415.5L207.6,423.5L208.9,429.8L210.1,436.7L211.4,442.5L212.6,447.8L213.9,454.2L215.1,461.4L216.4,466.1L217.6,468.4L218.9,469.9L220.1,473.5L221.4,479.8L222.6,484.5L223.9,485.7L225.1,487.4L226.4,490.5L227.6,492.5L228.9,494.1L230.1,497.2L231.4,496.7L232.6,491.2L233.9,487.8L235.1,487.6L236.4,482.9L237.6,472.4L238.9,464.1L240.1,459.8L241.4,457.4L242.6,454.9L243.9,454.4L245.1,456.2L246.4,459.9L247.6,466.4L248.9,471.8L250.1,474.7L251.4,478.9L252.6,484.2L253.9,486.3L255.1,489.5L256.4,493.4L257.6,491.3L258.9,484.2L260.1,481.3L261.4,481.0L262.6,477.8L263.9,477.1L265.1,482.0L266.4,486.0L267.6,486.7L268.9,489.9L270.1,497.1L271.4,502.9L272.6,506.0L273.9,507.7L275.1,509.4L276.4,511.6L277.6,513.7L278.9,513.7L280.1,512.4L281.4,512.4L282.6,511.3L283.9,507.0L285.1,499.0L286.4,488.7L287.6,480.1L288.9,477.8L290.1,480.8L291.4,481.1L292.6,474.7L293.9,467.0L295.1,464.2L296.4,469.0L297.6,474.7L298.9,474.6L300.1,471.6L301.4,473.5L302.6,476.7L303.9,474.6L305.1,472.8L306.4,474.0L307.6,471.5L308.9,467.4L310.1,470.6L311.4,474.0L312.6,468.3L313.9,464.8L315.1,472.3L316.4,478.5L317.6,476.9L318.9,476.9L320.1,478.6L321.4,476.3L322.6,474.6L323.9,476.7L325.1,476.5L326.4,474.6L327.6,475.2L328.9,473.7L330.1,469.9L331.4,471.6L332.6,474.7L333.9,471.7L335.1,469.0L336.4,474.4L337.6,480.0L338.9,483.4L340.1,490.5L341.4,495.5L342.6,485.7L343.9,476.1L345.1,477.8L346.4,481.9L347.6,478.1L348.9,475.1L350.1,479.6L351.4,487.6L352.6,494.4L353.9,502.0L355.1,514.5L356.4,528.7L357.6,537.3L358.9,541.8L360.1,543.6L361.4,543.9L362.6,543.1L363.9,545.2L365.1,549.1L366.4,549.1L367.6,542.8L368.9,534.8L370.1,526.9L371.4,519.3L372.6,503.7L373.9,479.1L375.1,459.3L376.4,453.2L377.6,451.2L378.9,451.3L380.1,453.5L381.4,459.9L382.6,466.7L383.9,470.0L385.1,472.7L386.4,477.6L387.6,473.5L388.9,464.5L390.1,459.1L391.4,456.4L392.6,450.8L393.9,447.2L395.1,448.6L396.4,448.5L397.6,445.4L398.9,445.3L400.1,448.3L401.4,449.3L402.6,447.8L403.9,447.5L405.1,448.1L406.4,450.4L407.6,456.6L408.9,463.7L410.1,468.3L411.4,477.6L412.6,490.2L413.9,496.4L415.1,500.2L416.4,505.0L417.6,509.1L418.9,511.4L420.1,516.0L421.4,521.5L422.6,521.7L423.9,519.6L425.1,519.8L426.4,520.2L427.6,518.1L428.9,514.4L430.1,512.0L431.4,509.8L432.6,506.4L433.9,501.5L435.1,497.0L436.4,495.3L437.6,494.5L438.9,495.9L440.1,504.5L441.4,514.9L442.6,520.6L443.9,523.1L445.1,526.3L446.4,528.0L447.6,528.5L448.9,529.7L450.1,530.3L451.4,528.0L452.6,523.6L453.9,520.7L455.1,518.1L456.4,516.6L457.6,514.7L458.9,507.5L460.1,497.4L461.4,493.4L462.6,495.3L463.9,494.5L465.1,493.4L466.4,499.4L467.6,504.8L468.9,502.9L470.1,502.1L471.4,504.4L472.6,502.1L473.9,501.6L475.1,511.4L476.4,520.8L477.6,519.3L478.9,516.8L480.1,522.9L481.4,531.9L482.6,539.6L483.9,545.6L485.1,546.2L486.4,545.5L487.6,548.4L488.9,549.6L490.1,546.1L491.4,545.1L492.6,549.1L493.9,550.6L495.1,549.2L496.4,551.9L497.6,551.9L498.9,547.7L500.1,545.6L501.4,547.4L502.6,542.5L503.9,532.4L505.1,525.0L506.4,518.3L507.6,512.1L508.9,514.3L510.1,522.2L511.4,534.2L512.6,542.0L513.9,543.7L515.1,544.3L516.4,548.8L517.6,552.2L518.9,550.3L520.1,547.8L521.4,547.0L522.6,546.3L523.9,545.1L525.1,545.4L526.4,537.5L527.6,521.7L528.9,508.6L530.1,503.0L531.4,500.4L532.6,507.0L533.9,515.1L535.1,520.4L536.4,525.2L537.6,533.0L538.9,537.9L540.1,529.3L541.4,521.2L542.6,516.4L543.9,506.0L545.1,492.8L546.4,489.1L547.6,490.1L548.9,490.0L550.1,494.3L551.4,502.4L552.6,506.7L553.9,511.7L555.1,521.9L556.4,532.1L557.6,537.0L558.9,540.9L560.1,540.5L561.4,532.9L562.6,522.7L563.9,515.5L565.1,509.8L566.4,506.1L567.6,508.2L568.9,513.1L570.1,516.1L571.4,520.9L572.6,531.6L573.9,542.0L575.1,551.9L576.4,565.3L577.6,575.0L578.9,578.3L580.1,578.7L581.4,575.2L582.6,570.7L583.9,567.1L585.1,565.6L586.4,565.4L587.6,564.3L588.9,560.9L590.1,556.4L591.4,545.2L592.6,542.8L593.9,539.9L595.1,536.5L596.4,539.1L597.6,543.6L598.9,545.8L600.1,546.5L601.4,545.3L602.6,542.5L603.9,537.2L605.1,531.7L606.4,526.2L607.6,518.4L608.9,511.4L610.1,507.3L611.4,502.2L612.6,496.5L613.9,494.5L615.1,493.3L616.4,492.5L617.6,496.1L618.9,498.7L620.1,497.4L621.4,500.6L622.6,511.1L623.9,518.1L625.1,518.9L626.4,518.7L627.6,517.6L628.9,509.4L630.1,499.5L631.4,492.9L632.6,485.2L633.9,475.1L635.1,473.2L636.4,473.8L637.6,473.4L638.9,475.0L640.1,484.4L641.4,496.8L642.6,507.1L643.9,514.6L645.1,520.1L646.4,525.9L647.6,535.5L648.9,545.5L650.1,552.5L651.4,558.7L652.6,565.0L653.9,567.5L655.1,564.6L656.4,564.2L657.6,568.0L658.9,569.7L660.1,570.1L661.4,570.1L662.6,566.8L663.9,560.2L665.1,548.0L666.4,537.6L667.6,527.2L668.9,511.3L670.1,504.3L671.4,502.5L672.6,504.1L673.9,500.9L675.1,495.0L676.4,496.4L677.6,501.2L678.9,498.5L680.1,492.5L681.4,491.6L682.6,491.3L683.9,489.0L685.1,490.4L686.4,493.0L687.6,491.3L688.9,490.2L690.1,493.4L691.4,495.0L692.6,493.9L693.9,495.4L695.1,498.0L696.4,500.1L697.6,505.9L698.9,511.9L700.1,512.1L701.4,513.3L702.6,520.1L703.9,522.4L705.1,518.2L706.4,519.7L707.6,527.3L708.9,529.6L710.1,528.4L711.4,530.3L712.6,530.9L713.9,526.6L715.1,524.7L716.4,525.6L717.6,523.2L718.9,517.2L720.1,514.8L721.4,519.1L722.6,523.2L723.9,527.1L725.1,530.4L726.4,530.6L727.6,530.7L728.9,528.1L730.1,522.3L731.4,514.4L732.6,509.0L733.9,502.7L735.1,488.8L736.4,471.2L737.6,468.8L738.9,466.6L740.1,467.7L741.4,470.8L742.6,475.0L743.9,480.2L745.1,485.9L746.4,490.0L747.6,489.4L748.9,487.6L750.1,484.5L751.4,479.1L752.6,468.9L753.9,459.6L755.1,450.1L756.4,445.5L757.6,445.7L758.9,443.8L760.1,440.5L761.4,440.0L762.6,439.1L763.9,435.5L765.1,432.9L766.4,434.0L767.6,435.1L768.9,437.5L770.1,442.6L771.4,456.2L772.6,473.1L773.9,489.8L775.1,494.8L776.4,498.1L777.6,501.3L778.9,503.8L780.1,503.0L781.4,502.7L782.6,507.7L783.9,510.9L785.1,507.4L786.4,505.1L787.6,507.5L788.9,506.8L790.1,503.0L791.4,502.3L792.6,502.8L793.9,500.5L795.1,498.8L796.4,499.5L797.6,497.6L798.9,491.4L800.1,487.1L801.4,485.2L802.6,482.4L803.9,478.0L805.1,473.7L806.4,471.5L807.6,472.8L808.9,474.1L810.1,471.5L811.4,470.7L812.6,473.1L813.9,474.7L815.1,474.5L816.4,477.4L817.6,484.0L818.9,489.8L820.1,491.8L821.4,490.2L822.6,485.5L823.9,483.5L825.1,483.3L826.4,483.2L827.6,484.6L828.9,485.0L830.1,480.1L831.4,475.9L832.6,478.2L833.9,480.0L835.1,476.0L836.4,479.1L837.6,491.3L838.9,509.1L840.1,521.9L841.4,535.4L842.6,545.9L843.9,552.5L845.1,553.5L846.4,549.3L847.6,537.2L848.9,524.3L850.1,519.1L851.4,518.7L852.6,521.0L853.9,525.0L855.1,529.3L856.4,530.3L857.6,533.5L858.9,539.1L860.1,538.2L861.4,535.8L862.6,541.5L863.9,547.2L865.1,539.8L866.4,531.4L867.6,529.8L868.9,526.1L870.1,517.5L871.4,512.2L872.6,511.2L873.9,509.3L875.1,506.2L876.4,505.7L877.6,505.2L878.9,503.5L880.1,502.3L881.4,501.9L882.6,502.8L883.9,504.5L885.1,507.0L886.4,511.3L887.6,519.1L888.9,527.3L890.1,530.3L891.4,534.4L892.6,542.3L893.9,547.6L895.1,543.0L896.4,536.1L897.6,530.0L898.9,521.4L900.1,510.1L901.4,504.1L902.6,499.2L903.9,495.4L905.1,493.6L906.4,494.2L907.6,496.6L908.9,500.4L910.1,502.4L911.4,504.6L912.6,510.8L913.9,516.2L915.1,516.3L916.4,517.4L917.6,522.4L918.9,526.3L920.1,526.9L921.4,528.2L922.6,527.6L923.9,522.2L925.1,516.8L926.4,514.6L927.6,513.1L928.9,510.7L930.1,508.8L931.4,505.7L932.6,501.2L933.9,499.0L935.1,500.0L936.4,501.3L937.6,502.9L938.9,505.8L940.1,506.8L941.4,506.1L942.6,508.7L943.9,511.9L945.1,510.8L946.4,509.4L947.6,512.3L948.9,514.7L950.1,512.3L951.4,510.2L952.6,511.9L953.9,515.2L955.1,519.2L956.4,523.3L957.6,525.9L958.9,527.5L960.1,531.8L961.4,539.8L962.6,548.3L963.9,553.3L965.1,555.3L966.4,557.4L967.6,561.5L968.9,564.9L970.1,563.2L971.4,560.0L972.6,556.8L973.9,553.3L975.1,548.1L976.4,530.4L977.6,503.9L978.9,479.2L980.1,470.6L981.4,463.8L982.6,463.6L983.9,466.6L985.1,470.0L986.4,469.6L987.6,475.4L988.9,488.5L990.1,498.7L991.4,507.9L992.6,523.2L993.9,537.4L995.1,541.1L996.4,544.4L997.6,554.4L998.9,557.6L1000.1,552.0L1001.4,550.0L1002.6,556.7L1003.9,557.4L1005.1,546.8L1006.4,533.5L1007.6,519.6L1008.9,512.4L1010.1,518.4L1011.4,525.7L1012.6,526.2L1013.9,524.7L1015.1,522.0L1016.4,516.2L1017.6,510.2L1018.9,507.6L1020.1,503.0L1021.4,495.6L1022.6,495.9L1023.9,500.4L1025.1,500.5L1026.4,498.7L1027.6,506.3L1028.9,517.7L1030.1,522.5L1031.4,523.1L1032.6,523.2L1033.9,521.5L1035.1,516.7L1036.4,514.5L1037.6,515.9L1038.9,519.2L1040.1,521.8L1041.4,522.5L1042.6,524.2L1043.9,524.7L1045.1,523.1L1046.4,521.1L1047.6,521.7L1048.9,521.3L1050.1,517.6L1051.4,516.0L1052.6,517.7L1053.9,516.9L1055.1,513.0L1056.4,511.9L1057.6,514.1L1058.9,518.3L1060.1,522.9L1061.4,524.4L1062.6,524.8L1063.9,529.4L1065.1,536.4L1066.4,538.6L1067.6,538.1L1068.9,539.1L1070.1,539.5L1071.4,538.8L1072.6,541.7L1073.9,545.0L1075.1,541.7L1076.4,535.3L1077.6,535.1L1078.9,534.7L1080.1,523.9L1081.4,510.0L1082.6,504.7L1083.9,501.9L1085.1,500.0L1086.4,500.0L1087.6,498.8L1088.9,495.3L1090.1,493.9L1091.4,494.8L1092.6,495.1L1093.9,495.6L1095.1,494.0L1096.4,490.2L1097.6,485.7L1098.9,483.0L1100.1,479.2L1101.4,473.0L1102.6,468.5L1103.9,466.5L1105.1,464.2L1106.4,460.7L1107.6,459.2L1108.9,458.3L1110.1,456.0L1111.4,454.0L1112.6,455.4L1113.9,459.1L1115.1,461.5L1116.4,460.7L1117.6,459.9L1118.9,462.6L1120.1,468.1L1121.4,473.2L1122.6,477.2L1123.9,478.4L1125.1,477.4L1126.4,477.6L1127.6,482.2L1128.9,487.7L1130.1,488.9L1131.4,488.8L1132.6,489.7L1133.9,490.1L1135.1,487.6L1136.4,483.8L1137.6,479.9L1138.9,478.5L1140.1,482.6L1141.4,485.7L1142.6,484.0L1143.9,483.1L1145.1,485.8L1146.4,486.4L1147.6,486.2L1148.9,489.4L1150.1,489.6L1151.4,483.3L1152.6,481.7L1153.9,487.4L1155.1,488.5L1156.4,484.9L1157.6,487.2L1158.9,491.8L1160.1,491.4L1161.4,492.5L1162.6,498.9L1163.9,499.1L1165.1,492.9L1166.4,488.4L1167.6,487.7L1168.9,487.7L1170.1,488.3L1171.4,486.4L1172.6,482.5L1173.9,485.9L1175.1,496.2L1176.4,506.0L1177.6,513.1L1178.9,520.6L1180.1,524.6L1181.4,526.7L1182.6,531.6L1183.9,537.9L1185.1,537.0L1186.4,533.4L1187.6,537.7L1188.9,547.6L1190.1,550.7L1191.4,544.2L1192.6,535.4L1193.9,524.1L1195.1,517.9L1196.4,512.6L1197.6,506.0L1198.9,503.9L1200.1,500.7L1201.4,496.6L1202.6,498.0L1203.9,503.2L1205.1,502.5L1206.4,497.4L1207.6,496.9L1208.9,498.1L1210.1,494.5L1211.4,491.3L1212.6,494.3L1213.9,498.7L1215.1,501.4L1216.4,505.3L1217.6,507.6L1218.9,507.9L1220.1,510.6L1221.4,514.9L1222.6,518.3L1223.9,525.6L1225.1,535.5L1226.4,537.3L1227.6,527.4L1228.9,522.5L1230.1,523.2L1231.4,521.4L1232.6,518.7L1233.9,518.6L1235.1,517.5L1236.4,516.2L1237.6,521.6L1238.9,528.1L1240.1,526.8L1241.4,523.1L1242.6,521.6L1243.9,519.4L1245.1,514.9L1246.4,510.3L1247.6,505.0L1248.9,500.2L1250.1,499.2L1251.4,499.5L1252.6,496.9L1253.9,493.3L1255.1,493.0L1256.4,496.0L1257.6,500.1L1258.9,505.7L1260.1,515.1L1261.4,523.4L1262.6,530.7L1263.9,537.6L1265.1,542.3L1266.4,540.3L1267.6,535.8L1268.9,533.0L1270.1,531.5L1271.4,529.8L1272.6,527.4L1273.9,524.8L1275.1,521.6L1276.4,516.5L1277.6,512.3L1278.9,512.2L1280.1,513.4L1281.4,511.5L1282.6,508.5L1283.9,507.4L1285.1,502.2L1286.4,491.0L1287.6,481.9L1288.9,478.2L1290.1,472.1L1291.4,466.2L1292.6,463.4L1293.9,460.1L1295.1,454.6L1296.4,451.7L1297.6,451.6L1298.9,452.6L1300.1,454.5L1301.4,456.3L1302.6,453.6L1303.9,453.8L1305.1,464.6L1306.4,485.6L1307.6,504.3L1308.9,528.8L1310.1,537.4L1311.4,539.7L1312.6,543.5L1313.9,552.7L1315.1,558.0L1316.4,556.5L1317.6,558.0L1318.9,561.7L1320.1,561.3L1321.4,556.4L1322.6,553.5L1323.9,551.9L1325.1,548.9L1326.4,546.7L1327.6,545.5L1328.9,543.0L1330.1,538.6L1331.4,534.1L1332.6,528.4L1333.9,523.9L1335.1,519.2L1336.4,509.7L1337.6,497.5L1338.9,492.5L1340.1,493.3L1341.4,494.1L1342.6,495.1L1343.9,498.0L1345.1,499.8L1346.4,501.8L1347.6,507.3L1348.9,516.3L1350.1,521.9L1351.4,523.5L1352.6,528.2L1353.9,542.2L1355.1,559.7L1356.4,567.8L1357.6,564.6L1358.9,561.8L1360.1,565.7L1361.4,567.4L1362.6,566.2L1363.9,566.8L1365.1,564.1L1366.4,557.8L1367.6,558.6L1368.9,563.1L1370.1,559.4L1371.4,552.8L1372.6,556.0L1373.9,562.1L1375.1,564.4L1376.4,564.4L1377.6,559.2L1378.9,543.5L1380.1,531.8L1381.4,523.2L1382.6,506.7L1383.9,488.5L1385.1,475.4L1386.4,467.9L1387.6,461.6L1388.9,463.1L1390.1,470.1L1391.4,468.7L1392.6,461.6L1393.9,459.4L1395.1,459.3L1396.4,456.5L1397.6,458.7L1398.9,466.5L1400.1,470.3L1401.4,470.2L1402.6,474.1L1403.9,480.0L1405.1,482.4L1406.4,484.9L1407.6,489.4L1408.9,497.0L1410.1,506.5L1411.4,512.7L1412.6,511.7L1413.9,510.4L1415.1,514.1L1416.4,519.0L1417.6,521.3L1418.9,521.3L1420.1,519.7L1421.4,518.5L1422.6,520.1L1423.9,523.5L1425.1,525.0L1426.4,524.0L1427.6,523.5L1428.9,525.4L1430.1,529.3L1431.4,531.4L1432.6,529.9L1433.9,528.6L1435.1,529.0L1436.4,528.6L1437.6,525.6L1438.9,523.6L1440.1,520.2L1441.4,511.8L1442.6,502.2L1443.9,494.5L1445.1,487.0L1446.4,477.5L1447.6,470.3L1448.9,465.7L1450.1,461.0L1451.4,455.9L1452.6,453.0L1453.9,451.7L1455.1,453.4L1456.4,457.8L1457.6,465.1L1458.9,483.5L1460.1,504.2L1461.4,520.8L1462.6,528.2L1463.9,530.3L1465.1,537.4L1466.4,543.2L1467.6,541.8L1468.9,540.1L1470.1,543.7L1471.4,548.1L1472.6,551.1L1473.9,555.3L1475.1,557.7L1476.4,554.5L1477.6,552.0L1478.9,553.9L1480.1,554.2L1481.4,550.7L1482.6,549.0L1483.9,551.1L1485.1,552.6L1486.4,550.5L1487.6,545.0L1488.9,539.1L1490.1,532.0L1491.4,526.7L1492.6,525.7L1493.9,526.7L1495.1,527.1L1496.4,526.3L1497.6,527.9L1498.9,536.5L1500.1,546.5L1501.4,551.8L1502.6,554.8L1503.9,557.8L1505.1,560.9L1506.4,564.3L1507.6,567.0L1508.9,566.9L1510.1,566.5L1511.4,566.6L1512.6,563.0L1513.9,560.7L1515.1,563.0L1516.4,560.7L1517.6,540.0L1518.9,519.6L1520.1,509.7L1521.4,498.7L1522.6,489.8L1523.9,489.7L1525.1,495.8L1526.4,500.4L1527.6,508.3L1528.9,520.8L1530.1,526.7L1531.4,527.2L1532.6,532.5L1533.9,540.5L1535.1,540.8L1536.4,537.3L1537.6,534.9L1538.9,532.9L1540.1,535.4L1541.4,538.3L1542.6,509.7L1543.9,488.8L1545.1,482.7L1546.4,483.3L1547.6,481.1L1548.9,478.5L1550.1,480.5L1551.4,479.1L1552.6,475.1L1553.9,477.0L1555.1,483.0L1556.4,484.1L1557.6,482.7L1558.9,485.0L1560.1,487.8L1561.4,487.8L1562.6,488.0L1563.9,490.8L1565.1,495.0L1566.4,498.8L1567.6,502.9L1568.9,507.5L1570.1,511.7L1571.4,511.4L1572.6,509.3L1573.9,512.4L1575.1,520.4L1576.4,523.3L1577.6,519.0L1578.9,512.3L1580.1,505.1L1581.4,500.4L1582.6,498.6L1583.9,496.6L1585.1,492.9L1586.4,489.5L1587.6,488.3L1588.9,487.9L1590.1,488.2L1591.4,487.4L1592.6,482.9L1593.9,478.7L1595.1,482.7L1596.4,488.4L1597.6,488.7L1598.9,489.5L1600.1,496.8L1601.4,504.1L1602.6,506.7L1603.9,505.9L1605.1,504.8L1606.4,500.4L1607.6,496.7L1608.9,497.3L1610.1,497.6L1611.4,495.6L1612.6,496.3L1613.9,498.6L1615.1,500.0L1616.4,501.6L1617.6,503.3L1618.9,501.5L1620.1,498.5L1621.4,497.5L1622.6,496.4L1623.9,495.0L1625.1,495.4L1626.4,495.4L1627.6,491.5L1628.9,489.0L1630.1,492.6L1631.4,497.2L1632.6,498.7L1633.9,500.0L1635.1,503.9L1636.4,517.3L1637.6,531.4L1638.9,542.8L1640.1,551.8L1641.4,553.5L1642.6,555.1L1643.9,557.0L1645.1,556.7L1646.4,553.4L1647.6,547.3L1648.9,541.9L1650.1,529.8L1651.4,516.4L1652.6,500.9L1653.9,486.2L1655.1,480.9L1656.4,478.8L1657.6,478.5L1658.9,479.1L1660.1,477.1L1661.4,471.6L1662.6,467.2L1663.9,464.8L1665.1,465.4L1666.4,468.0L1667.6,471.8L1668.9,473.9L1670.1,479.2L1671.4,488.8L1672.6,495.1L1673.9,498.0L1675.1,506.4L1676.4,515.9L1677.6,516.0L1678.9,514.2L1680.1,519.3L1681.4,522.2L1682.6,517.8L1683.9,519.3L1685.1,529.8L1686.4,537.0L1687.6,542.7L1688.9,550.2L1690.1,553.9L1691.4,554.8L1692.6,560.4L1693.9,566.5L1695.1,562.3L1696.4,554.6L1697.6,550.6L1698.9,547.9L1700.1,522.1L1701.4,501.0L1702.6,484.8L1703.9,475.5L1705.1,475.8L1706.4,483.9L1707.6,484.7L1708.9,479.3L1710.1,479.7L1711.4,484.0L1712.6,485.4L1713.9,485.7L1715.1,487.5L1716.4,488.4L1717.6,490.2L1718.9,495.6L1720.1,502.2L1721.4,505.5L1722.6,501.5L1723.9,496.1L1725.1,496.1L1726.4,498.5L1727.6,495.1L1728.9,490.6L1730.1,494.1L1731.4,499.5L1732.6,502.1L1733.9,505.8L1735.1,510.4L1736.4,510.3L1737.6,505.7L1738.9,503.8L1740.1,502.2L1741.4,500.4L1742.6,499.0L1743.9,495.5L1745.1,489.6L1746.4,486.0L1747.6,486.4L1748.9,485.3L1750.1,483.0L1751.4,483.0L1752.6,481.4L1753.9,476.6L1755.1,475.1L1756.4,475.3L1757.6,469.7L1758.9,463.3L1760.1,465.1L1761.4,467.9L1762.6,462.6L1763.9,455.8L1765.1,453.2L1766.4,451.5L1767.6,449.9L1768.9,450.6L1770.1,450.0L1771.4,446.2L1772.6,444.0L1773.9,446.9L1775.1,450.5L1776.4,453.4L1777.6,456.2L1778.9,458.4L1780.1,461.0L1781.4,465.2L1782.6,468.8L1783.9,471.0L1785.1,475.8L1786.4,482.7L1787.6,487.0L1788.9,486.5L1790.1,484.9L1791.4,483.6L1792.6,480.4L1793.9,477.7L1795.1,477.4L1796.4,478.1L1797.6,477.7L1798.9,476.1L1800.1,475.1L1801.4,477.0L1802.6,479.3L1803.9,481.1L1805.1,483.9L1806.4,487.1L1807.6,489.6L1808.9,493.6L1810.1,501.0L1811.4,507.1L1812.6,507.5L1813.9,507.8L1815.1,512.8L1816.4,518.6L1817.6,521.1L1818.9,522.1L1820.1,522.3L1821.4,521.7L1822.6,520.9L1823.9,520.2L1825.1,515.5L1826.4,503.1L1827.6,486.1L1828.9,472.7L1830.1,460.8L1831.4,458.1L1832.6,458.2L1833.9,455.2L1835.1,458.2L1836.4,466.5L1837.6,467.7L1838.9,462.8L1840.1,465.8L1841.4,474.4L1842.6,478.1L1843.9,478.1L1845.1,482.7L1846.4,483.9L1847.6,478.7L1848.9,473.1L1850.1,470.2L1851.4,466.5L1852.6,463.2L1853.9,456.2L1855.1,444.3L1856.4,434.4L1857.6,433.3L1858.9,433.3L1860.1,432.7L1861.4,432.6L1862.6,430.9L1863.9,427.2L1865.1,427.2L1866.4,431.4L1867.6,432.3L1868.9,433.1L1870.1,442.6L1871.4,457.0L1872.6,468.1L1873.9,473.3L1875.1,477.3L1876.4,484.6L1877.6,494.8L1878.9,500.3L1880.1,500.9L1881.4,501.1L1882.6,497.2L1883.9,489.3L1885.1,485.3L1886.4,484.9L1887.6,478.4L1888.9,469.8L1890.1,470.9L1891.4,480.8L1892.6,484.8L1893.9,486.2L1895.1,491.8L1896.4,494.9L1897.6,493.8L1898.9,494.6L1900.1,497.0L1901.4,497.7L1902.6,498.9L1903.9,497.9L1905.1,492.3L1906.4,486.9L1907.6,486.4L1908.9,484.2L1910.1,481.8L1911.4,483.9L1912.6,487.7L1913.9,486.7L1915.1,489.3L1916.4,499.5L1917.6,508.6L1918.9,525.2L1920.1,536.9L1921.4,547.2L1922.6,547.6L1923.9,538.1L1925.1,535.1L1926.4,535.5L1927.6,533.1L1928.9,526.3L1930.1,517.5L1931.4,509.1L1932.6,505.2L1933.9,503.7L1935.1,502.0L1936.4,500.3L1937.6,502.4L1938.9,505.0L1940.1,508.2L1941.4,512.8L1942.6,522.2L1943.9,531.7L1945.1,539.6L1946.4,545.1L1947.6,547.5L1948.9,546.4L1950.1,541.5L1951.4,537.3L1952.6,533.6L1953.9,530.4L1955.1,527.0L1956.4,524.1L1957.6,521.5L1958.9,517.9L1960.1,514.4L1961.4,513.4L1962.6,512.9L1963.9,509.7L1965.1,506.1L1966.4,504.4L1967.6,501.6L1968.9,498.3L1970.1,500.3L1971.4,504.4L1972.6,505.1L1973.9,504.8L1975.1,507.6L1976.4,508.3L1977.6,505.0L1978.9,501.0L1980.1,497.5L1981.4,492.8L1982.6,488.1L1983.9,485.2L1985.1,491.4L1986.4,501.2L1987.6,514.9L1988.9,529.4L1990.1,537.2L1991.4,540.3L1992.6,544.9L1993.9,546.1L1995.1,543.1L1996.4,541.2L1997.6,536.0L1998.9,525.6L2000.1,518.3L2001.4,520.5L2002.6,523.5L2003.9,522.0L2005.1,522.2L2006.4,524.6L2007.6,525.3L2008.9,525.9L2010.1,525.7L2011.4,521.7L2012.6,516.3L2013.9,506.9L2015.1,494.7L2016.4,488.8L2017.6,487.2L2018.9,489.0L2020.1,491.8L2021.4,494.8L2022.6,494.5L2023.9,490.5L2025.1,489.0L2026.4,492.1L2027.6,494.9L2028.9,495.9L2030.1,501.3L2031.4,509.7L2032.6,516.7L2033.9,520.5L2035.1,523.2L2036.4,530.1L2037.6,541.3L2038.9,547.5L2040.1,545.5L2041.4,539.5L2042.6,537.1L2043.9,531.4L2045.1,520.4L2046.4,508.2L2047.6,492.0L2048.9,468.2L2050.1,456.4L2051.4,455.5L2052.6,449.9L2053.9,448.7L2055.1,459.0L2056.4,470.8L2057.6,476.4L2058.9,480.1L2060.1,484.9L2061.4,483.5L2062.6,481.0L2063.9,480.1L2065.1,473.9L2066.4,466.5L2067.6,465.2L2068.9,464.3L2070.1,457.7L2071.4,455.2L2072.6,459.3L2073.9,460.3L2075.1,460.5L2076.4,469.8L2077.6,484.6L2078.9,493.3L2080.1,503.1L2081.4,517.9L2082.6,517.6L2083.9,505.6L2085.1,496.6L2086.4,493.2L2087.6,488.7L2088.9,481.9L2090.1,477.2L2091.4,475.3L2092.6,475.2L2093.9,475.2L2095.1,474.3L2096.4,474.3L2097.6,474.9L2098.9,474.9L2100.1,475.0L2101.4,477.0L2102.6,478.9L2103.9,479.0L2105.1,479.7L2106.4,482.1L2107.6,484.4L2108.9,486.3L2110.1,489.6L2111.4,493.9L2112.6,499.0L2113.9,502.0L2115.1,501.3L2116.4,500.3L2117.6,502.2L2118.9,503.4L2120.1,501.7L2121.4,499.4L2122.6,499.1L2123.9,498.0L2125.1,500.7L2126.4,508.1L2127.6,521.1L2128.9,538.0L2130.1,551.6L2131.4,563.0L2132.6,567.1L2133.9,565.7L2135.1,567.4L2136.4,571.3L2137.6,570.2L2138.9,567.3L2140.1,563.9L2141.4,555.0L2142.6,541.9L2143.9,530.5L2145.1,521.7L2146.4,513.5L2147.6,511.8L2148.9,517.1L2150.1,519.3L2151.4,521.5L2152.6,526.1L2153.9,529.5L2155.1,533.9L2156.4,542.9L2157.6,551.2L2158.9,551.0L2160.1,551.1L2161.4,555.2L2162.6,558.8L2163.9,560.0L2165.1,561.7L2166.4,565.5L2167.6,568.4L2168.9,567.8L2170.1,561.8L2171.4,556.7L2172.6,552.8L2173.9,547.3L2175.1,533.8L2176.4,520.2L2177.6,512.6L2178.9,508.4L2180.1,503.9L2181.4,503.8L2182.6,505.3L2183.9,507.1L2185.1,513.2L2186.4,525.8L2187.6,535.3L2188.9,533.5L2190.1,523.3L2191.4,513.0L2192.6,504.4L2193.9,496.0L2195.1,486.5L2196.4,482.6L2197.6,484.7L2198.9,485.4L2200.1,477.8L2201.4,476.3L2202.6,484.3L2203.9,491.6L2205.1,495.7L2206.4,503.7L2207.6,510.2L2208.9,508.0L2210.1,507.5L2211.4,514.5L2212.6,514.1L2213.9,505.0L2215.1,498.1L2216.4,492.6L2217.6,481.6L2218.9,471.9L2220.1,471.1L2221.4,471.4L2222.6,471.3L2223.9,471.5L2225.1,467.1L2226.4,459.5L2227.6,460.4L2228.9,470.8L2230.1,477.7L2231.4,486.4L2232.6,503.1L2233.9,516.3L2235.1,522.3L2236.4,526.6L2237.6,531.2L2238.9,531.7L2240.1,528.5L2241.4,528.3L2242.6,525.8L2243.9,516.7L2245.1,506.7L2246.4,505.8L2247.6,510.1L2248.9,510.4L2250.1,507.2L2251.4,506.5L2252.6,510.7L2253.9,514.7L2255.1,514.7L2256.4,515.1L2257.6,517.4L2258.9,518.5L2260.1,516.9L2261.4,511.1L2262.6,505.5L2263.9,499.5L2265.1,497.5L2266.4,500.5L2267.6,502.3L2268.9,503.1L2270.1,504.1L2271.4,504.4L2272.6,505.4L2273.9,507.4L2275.1,506.6L2276.4,504.7L2277.6,504.7L2278.9,503.9L2280.1,497.6L2281.4,489.6L2282.6,485.5L2283.9,479.2L2285.1,468.6L2286.4,461.7L2287.6,459.5L2288.9,454.8L2290.1,448.9L2291.4,446.8L2292.6,443.7L2293.9,439.5L2295.1,442.9L2296.4,450.7L2297.6,456.7L2298.9,469.0L2300.1,485.3L2301.4,500.7L2302.6,510.6L2303.9,515.4L2305.1,515.9L2306.4,509.0L2307.6,503.0L2308.9,498.5L2310.1,491.9L2311.4,484.9L2312.6,488.2L2313.9,495.4L2315.1,502.0L2316.4,508.8L2317.6,516.0L2318.9,520.2L2320.1,520.6L2321.4,523.0L2322.6,524.7L2323.9,522.6L2325.1,517.1L2326.4,508.0L2327.6,488.1L2328.9,478.5L2330.1,469.8L2331.4,465.0L2332.6,463.6L2333.9,462.9L2335.1,463.6L2336.4,465.8L2337.6,470.2L2338.9,473.2L2340.1,474.8L2341.4,477.8L2342.6,480.4L2343.9,481.8L2345.1,483.4L2346.4,484.0L2347.6,482.2L2348.9,480.1L2350.1,479.8L2351.4,477.1L2352.6,472.6L2353.9,469.8L2355.1,465.8L2356.4,461.3L2357.6,463.3L2358.9,471.1L2360.1,471.5L2361.4,469.8L2362.6,477.5L2363.9,487.8L2365.1,490.3L2366.4,492.7L2367.6,499.0L2368.9,502.3L2370.1,504.3L2371.4,513.6L2372.6,522.9L2373.9,524.8L2375.1,526.2L2376.4,532.1L2377.6,538.3L2378.9,542.8L2380.1,548.0L2381.4,551.8L2382.6,549.8L2383.9,548.0L2385.1,542.7L2386.4,532.1L2387.6,524.2L2388.9,521.5L2390.1,517.1L2391.4,510.6L2392.6,508.9L2393.9,508.9L2395.1,504.8L2396.4,502.5L2397.6,505.3L2398.9,507.3L2400.1,504.7L2401.4,500.0L2402.6,495.7L2403.9,492.6L2405.1,492.1L2406.4,495.2L2407.6,500.1L2408.9,499.9L2410.1,491.4L2411.4,484.5L2412.6,490.0L2413.9,497.7L2415.1,499.1L2416.4,501.0L2417.6,509.2L2418.9,516.6L2420.1,519.7L2421.4,521.2L2422.6,520.5L2423.9,517.2L2425.1,517.0L2426.4,516.7L2427.6,510.9L2428.9,502.2L2430.1,496.1L2431.4,491.4L2432.6,488.8L2433.9,493.1L2435.1,499.4L2436.4,500.9L2437.6,508.4L2438.9,522.4L2440.1,524.4L2441.4,520.2L2442.6,521.0L2443.9,523.0L2445.1,519.4L2446.4,513.6L2447.6,511.0L2448.9,504.7L2450.1,491.6L2451.4,483.7L2452.6,483.4L2453.9,481.7L2455.1,481.8L2456.4,485.6L2457.6,487.8L2458.9,488.5L2460.1,498.0L2461.4,510.8L2462.6,524.9L2463.9,538.2L2465.1,543.3L2466.4,546.6L2467.6,551.2L2468.9,555.8L2470.1,552.8L2471.4,546.2L2472.6,542.3L2473.9,541.7L2475.1,541.6L2476.4,539.9L2477.6,537.7L2478.9,536.0L2480.1,535.1L2481.4,534.8L2482.6,534.0L2483.9,531.5L2485.1,529.3L2486.4,530.1L2487.6,535.6L2488.9,547.1L2490.1,557.6L2491.4,564.8L2492.6,571.2L2493.9,577.7L2495.1,579.3L2496.4,579.1L2497.6,581.5L2498.9,583.5L2500.1,581.6L2501.4,580.9L2502.6,579.8L2503.9,575.3L2505.1,567.7L2506.4,561.0L2507.6,553.6L2508.9,544.2L2510.1,535.9L2511.4,528.0L2512.6,519.8L2513.9,518.2L2515.1,521.8L2516.4,523.9L2517.6,527.0L2518.9,531.7L2520.1,531.0L2521.4,526.9L2522.6,529.8L2523.9,535.8L2525.1,532.3L2526.4,524.3L2527.6,521.4L2528.9,520.8L2530.1,518.3L2531.4,516.7L2532.6,515.8L2533.9,512.6L2535.1,515.1L2536.4,523.9L2537.6,532.1L2538.9,533.9L2540.1,529.1L2541.4,525.0L2542.6,523.8L2543.9,524.4L2545.1,521.0L2546.4,513.1L2547.6,509.3L2548.9,512.5L2550.1,517.2L2551.4,517.9L2552.6,518.7L2553.9,524.4L2555.1,537.6L2556.4,551.1L2557.6,564.0L2558.9,573.5L2560.1,574.5L2561.4,571.9L2562.6,572.2L2563.9,578.2L2565.1,584.1L2566.4,584.6L2567.6,584.7L2568.9,586.4L2570.1,581.5L2571.4,574.4L2572.6,575.0L2573.9,577.3L2575.1,564.2L2576.4,550.9L2577.6,556.0L2578.9,561.9L2580.1,561.2L2581.4,561.3L2582.6,564.3L2583.9,566.5L2585.1,569.3L2586.4,570.1L2587.6,562.0L2588.9,551.7L2590.1,550.4L2591.4,553.6L2592.6,552.9L2593.7,550.0"/>
<path stroke="#EE6677" d="M205.4,888.2L206.7,912.6L207.9,920.4L209.2,923.1L210.4,922.9L211.7,924.3L212.9,924.9L214.2,924.7L215.4,925.6L216.7,925.5L217.9,924.3L219.2,922.6L220.4,921.5L221.7,921.7L222.9,921.5L224.2,920.2L225.4,920.7L226.7,922.2L227.9,924.0L229.2,926.2L230.4,926.9L231.7,927.9L232.9,931.3L234.2,931.9L235.4,930.1L236.7,929.1L237.9,928.2L239.2,926.8L240.4,925.9L241.7,924.9L242.9,924.7L244.2,925.9L245.4,925.9L246.7,924.5L247.9,923.2L249.2,922.6L250.4,922.7L251.7,922.4L252.9,922.1L254.2,922.4L255.4,922.0L256.7,921.1L257.9,921.5L259.2,921.9L260.4,922.1L261.7,923.0L262.9,923.6L264.2,924.1L265.4,925.6L266.7,926.1L267.9,925.7L269.2,926.4L270.4,927.5L271.7,928.6L272.9,930.0L274.2,930.9L275.4,930.9L276.7,931.1L277.9,931.8L279.2,933.0L280.4,932.6L281.7,930.8L282.9,929.6L284.2,929.0L285.4,928.6L286.7,928.3L287.9,926.9L289.2,925.4L290.4,926.5L291.7,926.8L292.9,925.3L294.2,924.7L295.4,924.5L296.7,923.5L297.9,923.2L299.2,923.1L300.4,923.4L301.7,924.5L302.9,924.6L304.2,924.3L305.4,925.5L306.7,927.2L307.9,927.8L309.2,926.8L310.4,925.6L311.7,926.7L312.9,927.2L314.2,926.0L315.4,926.1L316.7,926.5L317.9,925.7L319.2,925.7L320.4,924.7L321.7,923.0L322.9,924.2L324.2,925.5L325.4,925.0L326.7,926.1L327.9,927.6L329.2,928.1L330.4,929.4L331.7,930.4L332.9,930.4L334.2,930.5L335.4,930.8L336.7,931.3L337.9,930.8L339.2,928.5L340.4,928.0L341.7,928.8L342.9,928.7L344.2,928.5L345.4,926.4L346.7,923.6L347.9,924.7L349.2,926.6L350.4,926.1L351.7,927.6L352.9,928.8L354.2,927.1L355.4,926.4L356.7,927.3L357.9,928.6L359.2,930.4L360.4,930.7L361.7,930.7L362.9,932.7L364.2,933.5L365.4,931.5L366.7,927.9L367.9,926.2L369.2,928.6L370.4,930.2L371.7,928.0L372.9,926.2L374.2,925.1L375.4,923.3L376.7,923.4L377.9,923.6L379.2,922.5L380.4,923.1L381.7,923.3L382.9,921.6L384.2,921.6L385.4,922.0L386.7,921.0L387.9,920.9L389.2,921.7L390.4,921.8L391.7,921.3L392.9,920.0L394.2,919.0L395.4,918.6L396.7,918.2L397.9,919.1L399.2,920.0L400.4,919.6L401.7,919.6L402.9,920.6L404.2,921.3L405.4,923.6L406.7,925.8L407.9,926.5L409.2,928.6L410.4,930.5L411.7,929.2L412.9,928.0L414.2,927.7L415.4,927.1L416.7,926.2L417.9,924.7L419.2,923.4L420.4,923.6L421.7,924.0L422.9,923.6L424.2,922.8L425.4,922.3L426.7,923.1L427.9,923.5L429.2,922.4L430.4,922.1L431.7,922.6L432.9,922.4L434.2,922.6L435.4,922.9L436.7,922.2L437.9,922.0L439.2,922.2L440.4,921.8L441.7,922.7L442.9,923.6L444.2,923.1L445.4,922.5L446.7,922.8L447.9,923.4L449.2,923.8L450.4,923.3L451.7,922.4L452.9,921.9L454.2,921.2L455.4,921.0L456.7,920.6L457.9,919.1L459.2,918.5L460.4,918.9L461.7,918.8L462.9,919.6L464.2,920.1L465.4,919.5L466.7,920.9L467.9,923.8L469.2,924.9L470.4,925.4L471.7,926.6L472.9,927.3L474.2,927.9L475.4,928.2L476.7,928.7L477.9,930.2L479.2,931.5L480.4,931.5L481.7,931.5L482.9,931.8L484.2,933.1L485.4,933.9L486.7,932.9L487.9,933.7L489.2,935.6L490.4,934.5L491.7,933.2L492.9,933.8L494.2,934.2L495.4,935.5L496.7,936.2L497.9,934.4L499.2,933.6L500.4,933.2L501.7,929.7L502.9,926.4L504.2,926.0L505.4,926.8L506.7,927.1L507.9,925.3L509.2,923.4L510.4,923.4L511.7,923.5L512.9,924.8L514.2,926.9L515.4,927.2L516.7,928.7L517.9,931.6L519.2,932.3L520.4,932.9L521.7,933.0L522.9,930.3L524.2,930.4L525.4,933.1L526.7,932.7L527.9,931.1L529.2,930.4L530.4,929.2L531.7,928.6L532.9,928.5L534.2,928.0L535.4,927.8L536.7,926.8L537.9,925.3L539.2,925.4L540.4,925.7L541.7,925.4L542.9,923.7L544.2,920.6L545.4,920.6L546.7,922.6L547.9,920.5L549.2,917.5L550.4,917.2L551.7,917.0L552.9,917.6L554.2,918.5L555.4,917.8L556.7,918.9L557.9,921.7L559.2,922.4L560.4,922.6L561.7,923.8L562.9,925.0L564.2,925.9L565.4,926.8L566.7,928.5L567.9,931.0L569.2,932.0L570.4,932.2L571.7,932.5L572.9,931.1L574.2,930.4L575.4,930.7L576.7,930.1L577.9,929.9L579.2,930.3L580.4,928.9L581.7,927.8L582.9,929.0L584.2,929.5L585.4,930.0L586.7,931.6L587.9,932.4L589.2,932.3L590.4,931.5L591.7,930.3L592.9,928.9L594.2,927.1L595.4,925.4L596.7,924.6L597.9,923.8L599.2,922.6L600.4,920.9L601.7,918.9L602.9,918.5L604.2,919.2L605.4,917.9L606.7,915.9L607.9,916.2L609.2,917.1L610.4,918.1L611.7,919.6L612.9,920.5L614.2,922.0L615.4,924.1L616.7,925.1L617.9,925.8L619.2,927.4L620.4,928.8L621.7,930.2L622.9,932.0L624.2,934.6L625.4,937.1L626.7,937.8L627.9,937.7L629.2,937.9L630.4,937.7L631.7,937.4L632.9,937.3L634.2,935.6L635.4,934.1L636.7,933.9L637.9,932.5L639.2,930.8L640.4,930.6L641.7,929.6L642.9,928.7L644.2,929.2L645.4,929.5L646.7,929.2L647.9,929.7L649.2,930.8L650.4,932.4L651.7,933.5L652.9,933.9L654.2,934.8L655.4,934.5L656.7,933.4L657.9,932.4L659.2,930.9L660.4,930.8L661.7,932.3L662.9,930.7L664.2,928.2L665.4,928.6L666.7,928.6L667.9,927.3L669.2,927.1L670.4,926.6L671.7,926.6L672.9,927.9L674.2,927.8L675.4,927.8L676.7,929.2L677.9,928.7L679.2,926.2L680.4,924.4L681.7,925.1L682.9,927.0L684.2,926.1L685.4,923.9L686.7,924.5L687.9,925.8L689.2,926.4L690.4,927.2L691.7,926.4L692.9,927.0L694.2,931.3L695.4,932.9L696.7,931.7L697.9,931.5L699.2,930.0L700.4,928.3L701.7,929.6L702.9,930.5L704.2,929.6L705.4,928.5L706.7,927.3L707.9,926.9L709.2,926.6L710.4,925.7L711.7,925.7L712.9,925.7L714.2,925.6L715.4,926.3L716.7,925.5L717.9,924.2L719.2,924.4L720.4,923.3L721.7,923.1L722.9,926.3L724.2,927.4L725.4,925.4L726.7,925.0L727.9,925.5L729.2,926.4L730.4,927.8L731.7,928.2L732.9,929.0L734.2,931.6L735.4,933.0L736.7,932.8L737.9,933.1L739.2,935.0L740.4,937.5L741.7,937.9L742.9,936.0L744.2,935.5L745.4,934.7L746.7,932.7L747.9,931.3L749.2,929.7L750.4,928.4L751.7,929.4L752.9,930.0L754.2,929.8L755.4,931.5L756.7,933.0L757.9,933.8L759.2,935.8L760.4,937.3L761.7,937.0L762.9,935.5L764.2,934.0L765.4,933.3L766.7,933.1L767.9,932.6L769.2,932.0L770.4,931.1L771.7,929.9L772.9,929.5L774.2,928.9L775.4,927.6L776.7,927.0L777.9,926.1L779.2,925.4L780.4,926.1L781.7,925.8L782.9,923.9L784.2,923.1L785.4,923.3L786.7,923.4L787.9,924.8L789.2,925.7L790.4,927.0L791.7,929.5L792.9,931.7L794.2,932.6L795.4,932.2L796.7,931.7L797.9,931.4L799.2,930.5L800.4,929.4L801.7,929.6L802.9,929.2L804.2,927.3L805.4,926.3L806.7,925.9L807.9,925.4L809.2,925.6L810.4,925.5L811.7,925.4L812.9,927.3L814.2,928.8L815.4,928.3L816.7,928.6L817.9,929.6L819.2,930.4L820.4,930.8L821.7,930.3L822.9,929.5L824.2,928.7L825.4,927.3L826.7,926.5L827.9,926.0L829.2,925.9L830.4,927.4L831.7,928.5L832.9,927.7L834.2,927.3L835.4,926.4L836.7,925.5L837.9,927.8L839.2,929.8L840.4,928.9L841.7,929.5L842.9,930.9L844.2,930.6L845.4,930.0L846.7,928.9L847.9,928.3L849.2,930.1L850.4,931.6L851.7,931.8L852.9,932.0L854.2,932.0L855.4,932.0L856.7,931.8L857.9,932.0L859.2,934.2L860.4,934.0L861.7,929.9L862.9,928.4L864.2,929.7L865.4,930.1L866.7,930.3L867.9,929.0L869.2,927.0L870.4,929.5L871.7,931.7L872.9,930.0L874.2,929.5L875.4,931.2L876.7,932.8L877.9,934.4L879.2,935.2L880.4,935.2L881.7,934.8L882.9,933.5L884.2,933.3L885.4,933.6L886.7,932.4L887.9,931.3L889.2,929.7L890.4,927.2L891.7,926.8L892.9,926.5L894.2,924.4L895.4,924.4L896.7,924.6L897.9,922.5L899.2,921.9L900.4,922.3L901.7,920.9L902.9,920.0L904.2,919.9L905.4,919.5L906.7,919.5L907.9,919.8L909.2,919.8L910.4,921.0L911.7,922.5L912.9,923.5L914.2,923.9L915.4,924.4L916.7,926.3L917.9,927.2L919.2,925.8L920.4,926.2L921.7,928.8L922.9,930.2L924.2,931.2L925.4,932.0L926.7,932.6L927.9,934.9L929.2,936.8L930.4,936.2L931.7,935.8L932.9,935.8L934.2,935.1L935.4,934.7L936.7,934.5L937.9,934.2L939.2,933.5L940.4,932.0L941.7,930.9L942.9,930.4L944.2,929.4L945.4,928.6L946.7,928.3L947.9,927.9L949.2,928.5L950.4,928.7L951.7,927.1L952.9,926.0L954.2,925.9L955.4,925.5L956.7,925.9L957.9,926.5L959.2,926.1L960.4,925.8L961.7,926.5L962.9,927.4L964.2,928.5L965.4,929.3L966.7,929.8L967.9,930.8L969.2,930.9L970.4,930.2L971.7,928.9L972.9,927.6L974.2,927.6L975.4,928.0L976.7,926.7L977.9,926.1L979.2,926.4L980.4,925.3L981.7,924.6L982.9,925.0L984.2,925.5L985.4,926.7L986.7,927.6L987.9,926.5L989.2,926.2L990.4,927.3L991.7,927.6L992.9,928.2L994.2,930.0L995.4,932.4L996.7,934.4L997.9,935.0L999.2,935.7L1000.4,937.5L1001.7,938.5L1002.9,938.8L1004.2,938.4L1005.4,936.7L1006.7,936.7L1007.9,936.9L1009.2,934.0L1010.4,931.7L1011.7,931.3L1012.9,929.4L1014.2,927.8L1015.4,926.8L1016.7,923.9L1017.9,922.3L1019.2,923.2L1020.4,924.4L1021.7,925.0L1022.9,924.3L1024.2,922.7L1025.4,922.4L1026.7,922.9L1027.9,924.2L1029.2,925.2L1030.4,925.6L1031.7,927.9L1032.9,931.3L1034.2,932.4L1035.4,934.6L1036.7,938.1L1037.9,938.2L1039.2,938.1L1040.4,939.1L1041.7,938.6L1042.9,937.1L1044.2,935.0L1045.4,931.5L1046.7,930.9L1047.9,932.4L1049.2,930.5L1050.4,926.7L1051.7,925.2L1052.9,926.6L1054.2,928.6L1055.4,928.6L1056.7,928.6L1057.9,930.4L1059.2,931.1L1060.4,931.5L1061.7,932.9L1062.9,933.7L1064.2,935.6L1065.4,937.3L1066.7,935.2L1067.9,933.5L1069.2,933.4L1070.4,931.0L1071.7,928.6L1072.9,928.3L1074.2,927.0L1075.4,925.5L1076.7,924.9L1077.9,923.7L1079.2,923.0L1080.4,922.7L1081.7,922.5L1082.9,923.1L1084.2,923.6L1085.4,923.1L1086.7,922.3L1087.9,920.5L1089.2,919.9L1090.4,921.1L1091.7,922.0L1092.9,923.8L1094.2,926.1L1095.4,925.7L1096.7,924.6L1097.9,925.6L1099.2,926.3L1100.4,926.4L1101.7,926.7L1102.9,926.8L1104.2,928.1L1105.4,930.1L1106.7,929.8L1107.9,928.3L1109.2,928.2L1110.4,929.1L1111.7,929.9L1112.9,929.7L1114.2,929.1L1115.4,929.1L1116.7,928.5L1117.9,928.0L1119.2,928.4L1120.4,928.4L1121.7,928.2L1122.9,928.1L1124.2,927.3L1125.4,927.2L1126.7,928.3L1127.9,928.3L1129.2,927.9L1130.4,929.2L1131.7,930.6L1132.9,931.6L1134.2,932.6L1135.4,932.9L1136.7,933.3L1137.9,934.3L1139.2,934.6L1140.4,934.0L1141.7,933.0L1142.9,931.8L1144.2,931.1L1145.4,930.3L1146.7,929.4L1147.9,928.8L1149.2,927.3L1150.4,926.2L1151.7,926.3L1152.9,925.2L1154.2,923.6L1155.4,924.2L1156.7,924.2L1157.9,923.3L1159.2,922.7L1160.4,921.9L1161.7,921.9L1162.9,923.2L1164.2,922.9L1165.4,921.9L1166.7,922.0L1167.9,922.1L1169.2,921.4L1170.4,920.5L1171.7,920.7L1172.9,922.4L1174.2,923.4L1175.4,923.9L1176.7,926.1L1177.9,927.6L1179.2,927.8L1180.4,928.1L1181.7,927.7L1182.9,928.1L1184.2,930.1L1185.4,928.8L1186.7,925.7L1187.9,926.3L1189.2,928.1L1190.4,928.9L1191.7,929.3L1192.9,928.1L1194.2,926.9L1195.4,926.9L1196.7,926.8L1197.9,926.6L1199.2,926.1L1200.4,925.6L1201.7,926.5L1202.9,926.9L1204.2,926.1L1205.4,925.2L1206.7,922.6L1207.9,920.7L1209.2,922.8L1210.4,923.6L1211.7,922.5L1212.9,923.1L1214.2,922.5L1215.4,921.0L1216.7,922.4L1217.9,924.2L1219.2,925.6L1220.4,927.4L1221.7,927.2L1222.9,926.5L1224.2,927.9L1225.4,928.8L1226.7,928.4L1227.9,928.6L1229.2,930.9L1230.4,934.6L1231.7,935.3L1232.9,933.6L1234.2,934.6L1235.4,936.2L1236.7,935.5L1237.9,935.1L1239.2,933.7L1240.4,932.3L1241.7,932.5L1242.9,929.8L1244.2,925.7L1245.4,925.3L1246.7,925.9L1247.9,924.8L1249.2,923.9L1250.4,922.7L1251.7,921.3L1252.9,920.5L1254.2,919.9L1255.4,920.5L1256.7,921.7L1257.9,922.9L1259.2,925.1L1260.4,927.2L1261.7,928.8L1262.9,930.5L1264.2,930.0L1265.4,928.4L1266.7,928.8L1267.9,929.0L1269.2,927.9L1270.4,928.2L1271.7,928.2L1272.9,927.5L1274.2,928.3L1275.4,928.7L1276.7,927.8L1277.9,926.8L1279.2,925.7L1280.4,925.4L1281.7,926.1L1282.9,926.1L1284.2,924.8L1285.4,923.6L1286.7,923.6L1287.9,925.2L1289.2,925.9L1290.4,925.6L1291.7,926.6L1292.9,927.9L1294.2,928.4L1295.4,929.1L1296.7,929.6L1297.9,930.0L1299.2,931.4L1300.4,932.1L1301.7,932.1L1302.9,932.7L1304.2,932.7L1305.4,931.2L1306.7,930.4L1307.9,930.6L1309.2,930.7L1310.4,930.4L1311.7,929.4L1312.9,928.5L1314.2,928.4L1315.4,928.0L1316.7,927.5L1317.9,927.0L1319.2,926.4L1320.4,926.4L1321.7,925.4L1322.9,923.3L1324.2,922.6L1325.4,922.1L1326.7,920.9L1327.9,920.7L1329.2,920.4L1330.4,918.9L1331.7,918.4L1332.9,918.2L1334.2,917.0L1335.4,916.3L1336.7,915.7L1337.9,915.4L1339.2,916.9L1340.4,917.5L1341.7,917.2L1342.9,917.7L1344.2,919.9L1345.4,923.4L1346.7,925.3L1347.9,925.1L1349.2,926.0L1350.4,927.0L1351.7,926.4L1352.9,927.6L1354.2,929.8L1355.4,931.1L1356.7,933.3L1357.9,934.8L1359.2,934.8L1360.4,936.6L1361.7,937.4L1362.9,935.0L1364.2,934.0L1365.4,935.9L1366.7,937.3L1367.9,936.4L1369.2,933.7L1370.4,932.3L1371.7,933.4L1372.9,934.1L1374.2,933.8L1375.4,932.9L1376.7,931.6L1377.9,932.2L1379.2,932.4L1380.4,930.2L1381.7,930.0L1382.9,929.9L1384.2,927.8L1385.4,928.1L1386.7,929.2L1387.9,927.7L1389.2,926.8L1390.4,926.6L1391.7,925.3L1392.9,925.1L1394.2,925.2L1395.4,924.8L1396.7,925.3L1397.9,926.0L1399.2,926.2L1400.4,926.9L1401.7,927.4L1402.9,928.0L1404.2,927.8L1405.4,927.0L1406.7,928.8L1407.9,930.6L1409.2,929.3L1410.4,929.1L1411.7,930.2L1412.9,929.6L1414.2,929.1L1415.4,929.1L1416.7,928.6L1417.9,930.0L1419.2,930.1L1420.4,926.4L1421.7,923.8L1422.9,924.1L1424.2,924.4L1425.4,923.9L1426.7,924.1L1427.9,925.9L1429.2,928.8L1430.4,930.1L1431.7,930.1L1432.9,930.0L1434.2,928.8L1435.4,928.8L1436.7,928.9L1437.9,927.4L1439.2,926.7L1440.4,925.9L1441.7,923.4L1442.9,922.7L1444.2,923.5L1445.4,922.7L1446.7,921.5L1447.9,921.3L1449.2,921.0L1450.4,921.9L1451.7,923.1L1452.9,923.4L1454.2,923.9L1455.4,924.6L1456.7,925.3L1457.9,925.9L1459.2,925.5L1460.4,924.8L1461.7,924.4L1462.9,924.1L1464.2,925.1L1465.4,925.7L1466.7,924.4L1467.9,923.6L1469.2,924.1L1470.4,924.3L1471.7,924.6L1472.9,925.5L1474.2,925.8L1475.4,926.9L1476.7,928.0L1477.9,927.7L1479.2,928.1L1480.4,929.6L1481.7,930.6L1482.9,930.8L1484.2,931.0L1485.4,931.8L1486.7,932.7L1487.9,932.6L1489.2,932.5L1490.4,933.4L1491.7,934.1L1492.9,934.7L1494.2,934.9L1495.4,933.6L1496.7,933.2L1497.9,933.0L1499.2,931.1L1500.4,930.1L1501.7,930.5L1502.9,929.5L1504.2,927.7L1505.4,926.4L1506.7,924.9L1507.9,924.6L1509.2,924.8L1510.4,923.9L1511.7,923.1L1512.9,923.0L1514.2,923.3L1515.4,924.1L1516.7,924.2L1517.9,923.9L1519.2,923.9L1520.4,924.2L1521.7,926.2L1522.9,928.8L1524.2,928.5L1525.4,928.6L1526.7,930.8L1527.9,931.2L1529.2,930.4L1530.4,930.1L1531.7,928.5L1532.9,928.5L1534.2,930.0L1535.4,929.9L1536.7,929.7L1537.9,930.2L1539.2,928.5L1540.4,926.5L1541.7,926.3L1542.9,927.6L1544.2,927.9L1545.4,925.1L1546.7,922.2L1547.9,922.1L1549.2,921.7L1550.4,920.4L1551.7,919.5L1552.9,919.6L1554.2,922.4L1555.4,926.0L1556.7,925.0L1557.9,924.0L1559.2,926.3L1560.4,927.4L1561.7,928.2L1562.9,930.7L1564.2,931.6L1565.4,931.9L1566.7,932.2L1567.9,931.3L1569.2,931.5L1570.4,933.0L1571.7,934.3L1572.9,935.2L1574.2,935.1L1575.4,934.5L1576.7,933.9L1577.9,931.8L1579.2,931.1L1580.4,932.1L1581.7,930.8L1582.9,929.7L1584.2,930.7L1585.4,929.6L1586.7,928.6L1587.9,930.0L1589.2,930.4L1590.4,931.2L1591.7,933.3L1592.9,934.3L1594.2,935.5L1595.4,937.5L1596.7,937.8L1597.9,937.8L1599.2,939.3L1600.4,939.6L1601.7,938.1L1602.9,934.0L1604.2,930.6L1605.4,930.3L1606.7,929.9L1607.9,928.4L1609.2,926.9L1610.4,925.4L1611.7,925.8L1612.9,926.9L1614.2,925.7L1615.4,924.5L1616.7,925.5L1617.9,925.6L1619.2,925.4L1620.4,926.4L1621.7,926.7L1622.9,926.5L1624.2,926.6L1625.4,926.9L1626.7,928.1L1627.9,929.6L1629.2,930.0L1630.4,930.0L1631.7,930.2L1632.9,931.0L1634.2,932.0L1635.4,931.3L1636.7,930.0L1637.9,929.6L1639.2,928.6L1640.4,927.5L1641.7,927.3L1642.9,926.1L1644.2,924.5L1645.4,924.1L1646.7,923.6L1647.9,923.1L1649.2,923.7L1650.4,924.0L1651.7,924.5L1652.9,925.6L1654.2,925.9L1655.4,925.6L1656.7,925.9L1657.9,926.4L1659.2,926.4L1660.4,925.6L1661.7,925.0L1662.9,925.6L1664.2,925.4L1665.4,924.2L1666.7,923.8L1667.9,923.8L1669.2,925.1L1670.4,927.3L1671.7,928.0L1672.9,928.3L1674.2,930.0L1675.4,930.5L1676.7,930.5L1677.9,932.7L1679.2,935.2L1680.4,936.4L1681.7,936.5L1682.9,936.1L1684.2,936.3L1685.4,936.8L1686.7,936.1L1687.9,935.3L1689.2,935.9L1690.4,937.7L1691.7,939.5L1692.9,938.6L1694.2,936.0L1695.4,934.9L1696.7,933.7L1697.9,932.4L1699.2,932.4L1700.4,930.5L1701.7,927.0L1702.9,925.9L1704.2,925.1L1705.4,923.7L1706.7,924.2L1707.9,924.8L1709.2,925.5L1710.4,928.1L1711.7,929.8L1712.9,930.1L1714.2,931.2L1715.4,932.7L1716.7,934.4L1717.9,935.5L1719.2,936.7L1720.4,938.9L1721.7,938.9L1722.9,937.6L1724.2,939.4L1725.4,941.8L1726.7,942.5L1727.9,942.7L1729.2,940.1L1730.4,937.7L1731.7,938.2L1732.9,936.3L1734.2,931.9L1735.4,931.0L1736.7,931.4L1737.9,929.7L1739.2,927.9L1740.4,927.6L1741.7,928.8L1742.9,930.5L1744.2,930.2L1745.4,929.4L1746.7,929.7L1747.9,930.4L1749.2,931.3L1750.4,930.2L1751.7,928.6L1752.9,929.4L1754.2,929.3L1755.4,927.4L1756.7,927.6L1757.9,927.6L1759.2,926.5L1760.4,928.3L1761.7,930.6L1762.9,931.7L1764.2,933.3L1765.4,933.1L1766.7,931.6L1767.9,931.8L1769.2,931.9L1770.4,930.8L1771.7,929.6L1772.9,928.2L1774.2,927.5L1775.4,927.4L1776.7,927.7L1777.9,928.6L1779.2,928.0L1780.4,926.3L1781.7,927.1L1782.9,928.4L1784.2,928.0L1785.4,927.8L1786.7,927.7L1787.9,928.1L1789.2,929.6L1790.4,928.8L1791.7,925.7L1792.9,924.3L1794.2,924.3L1795.4,923.9L1796.7,924.7L1797.9,925.6L1799.2,926.4L1800.4,926.9L1801.7,926.8L1802.9,927.2L1804.2,928.5L1805.4,929.5L1806.7,930.3L1807.9,930.5L1809.2,930.3L1810.4,930.7L1811.7,930.2L1812.9,928.6L1814.2,928.7L1815.4,929.4L1816.7,929.1L1817.9,929.0L1819.2,928.4L1820.4,927.0L1821.7,926.4L1822.9,926.0L1824.2,925.2L1825.4,925.2L1826.7,925.2L1827.9,925.0L1829.2,925.5L1830.4,926.1L1831.7,927.0L1832.9,928.5L1834.2,930.3L1835.4,932.5L1836.7,933.7L1837.9,933.7L1839.2,934.5L1840.4,934.9L1841.7,934.0L1842.9,933.2L1844.2,932.9L1845.4,932.6L1846.7,933.5L1847.9,933.5L1849.2,931.6L1850.4,931.1L1851.7,931.5L1852.9,930.6L1854.2,929.8L1855.4,929.5L1856.7,928.9L1857.9,928.1L1859.2,927.0L1860.4,927.1L1861.7,927.8L1862.9,926.9L1864.2,925.1L1865.4,924.8L1866.7,925.8L1867.9,928.9L1869.2,930.4L1870.4,929.3L1871.7,930.8L1872.9,933.9L1874.2,934.8L1875.4,935.5L1876.7,936.2L1877.9,935.3L1879.2,935.9L1880.4,936.9L1881.7,936.1L1882.9,935.6L1884.2,935.1L1885.4,933.9L1886.7,933.7L1887.9,933.4L1889.2,932.0L1890.4,929.7L1891.7,926.8L1892.9,925.7L1894.2,924.9L1895.4,922.8L1896.7,922.5L1897.9,922.6L1899.2,920.3L1900.4,920.2L1901.7,921.4L1902.9,921.3L1904.2,922.5L1905.4,923.6L1906.7,922.6L1907.9,923.5L1909.2,924.3L1910.4,922.0L1911.7,920.5L1912.9,921.3L1914.2,922.0L1915.4,921.6L1916.7,921.2L1917.9,922.4L1919.2,925.2L1920.4,926.1L1921.7,926.4L1922.9,928.0L1924.2,930.3L1925.4,933.0L1926.7,932.0L1927.9,927.4L1929.2,926.1L1930.4,927.7L1931.7,927.1L1932.9,926.6L1934.2,926.7L1935.4,925.0L1936.7,923.9L1937.9,924.7L1939.2,925.0L1940.4,926.7L1941.7,929.0L1942.9,930.6L1944.2,932.7L1945.4,935.0L1946.7,936.0L1947.9,935.7L1949.2,935.0L1950.4,935.7L1951.7,936.5L1952.9,935.6L1954.2,934.2L1955.4,932.4L1956.7,929.2L1957.9,927.5L1959.2,927.5L1960.4,926.5L1961.7,926.7L1962.9,927.6L1964.2,928.1L1965.4,929.8L1966.7,931.6L1967.9,931.3L1969.2,931.4L1970.4,932.9L1971.7,934.0L1972.9,933.5L1974.2,932.1L1975.4,931.2L1976.7,931.0L1977.9,930.1L1979.2,929.1L1980.4,928.9L1981.7,928.6L1982.9,929.5L1984.2,930.4L1985.4,930.5L1986.7,931.9L1987.9,934.1L1989.2,934.5L1990.4,934.9L1991.7,936.4L1992.9,936.3L1994.2,935.7L1995.4,935.2L1996.7,934.1L1997.9,933.3L1999.2,932.3L2000.4,930.7L2001.7,929.5L2002.9,929.2L2004.2,929.0L2005.4,928.5L2006.7,927.4L2007.9,927.0L2009.2,927.3L2010.4,926.6L2011.7,926.1L2012.9,925.8L2014.2,924.5L2015.4,923.7L2016.7,923.6L2017.9,921.7L2019.2,919.3L2020.4,918.0L2021.7,916.8L2022.9,917.5L2024.2,919.5L2025.4,919.6L2026.7,919.5L2027.9,921.2L2029.2,923.1L2030.4,924.5L2031.7,925.4L2032.9,926.5L2034.2,927.9L2035.4,928.1L2036.7,927.6L2037.9,928.1L2039.2,927.6L2040.4,926.8L2041.7,926.3L2042.9,925.1L2044.2,925.1L2045.4,925.4L2046.7,922.8L2047.9,921.3L2049.2,924.3L2050.4,926.7L2051.7,927.0L2052.9,926.7L2054.2,925.6L2055.4,925.7L2056.7,926.2L2057.9,925.1L2059.2,924.3L2060.4,924.8L2061.7,925.0L2062.9,924.4L2064.2,923.3L2065.4,923.4L2066.7,925.1L2067.9,925.3L2069.2,925.9L2070.4,928.4L2071.7,928.5L2072.9,928.2L2074.2,929.7L2075.4,929.6L2076.7,930.1L2077.9,932.8L2079.2,933.6L2080.4,934.0L2081.7,935.0L2082.9,933.4L2084.2,931.7L2085.4,932.4L2086.7,933.5L2087.9,934.3L2089.2,934.8L2090.4,935.2L2091.7,935.3L2092.9,933.3L2094.2,931.8L2095.4,932.5L2096.7,931.7L2097.9,929.8L2099.2,929.2L2100.4,928.6L2101.7,929.2L2102.9,930.7L2104.2,928.4L2105.4,926.9L2106.7,930.2L2107.9,932.6L2109.2,932.2L2110.4,931.2L2111.7,930.2L2112.9,930.1L2114.2,930.2L2115.4,928.4L2116.7,926.6L2117.9,925.8L2119.2,925.5L2120.4,926.2L2121.7,927.1L2122.9,928.2L2124.2,929.1L2125.4,927.9L2126.7,927.1L2127.9,928.8L2129.2,929.6L2130.4,929.0L2131.7,929.3L2132.9,928.9L2134.2,928.6L2135.4,929.3L2136.7,928.4L2137.9,927.1L2139.2,927.2L2140.4,927.4L2141.7,927.6L2142.9,928.1L2144.2,927.9L2145.4,927.5L2146.7,927.8L2147.9,928.9L2149.2,930.2L2150.4,930.5L2151.7,930.5L2152.9,931.3L2154.2,931.5L2155.4,931.2L2156.7,931.8L2157.9,932.6L2159.2,933.8L2160.4,935.3L2161.7,935.2L2162.9,934.8L2164.2,936.2L2165.4,937.0L2166.7,936.7L2167.9,937.1L2169.2,936.5L2170.4,935.5L2171.7,934.2L2172.9,932.1L2174.2,930.3L2175.4,929.0L2176.7,927.4L2177.9,925.9L2179.2,924.7L2180.4,923.8L2181.7,924.2L2182.9,923.8L2184.2,924.0L2185.4,926.6L2186.7,928.6L2187.9,928.8L2189.2,929.3L2190.4,929.6L2191.7,929.4L2192.9,930.2L2194.2,929.7L2195.4,928.2L2196.7,927.8L2197.9,927.3L2199.2,926.3L2200.4,925.6L2201.7,924.7L2202.9,924.3L2204.2,925.2L2205.4,927.2L2206.7,929.2L2207.9,929.3L2209.2,928.3L2210.4,928.7L2211.7,929.3L2212.9,929.4L2214.2,930.7L2215.4,931.4L2216.7,931.2L2217.9,932.0L2219.2,931.7L2220.4,930.8L2221.7,932.0L2222.9,931.6L2224.2,929.2L2225.4,929.4L2226.7,930.7L2227.9,930.5L2229.2,929.5L2230.4,928.3L2231.7,928.9L2232.9,930.2L2234.2,929.6L2235.4,928.2L2236.7,927.5L2237.9,927.6L2239.2,928.0L2240.4,926.1L2241.7,923.9L2242.9,925.6L2244.2,926.4L2245.4,924.5L2246.7,924.4L2247.9,924.9L2249.2,924.2L2250.4,924.3L2251.7,922.6L2252.9,919.6L2254.2,919.5L2255.4,920.1L2256.7,919.9L2257.9,921.6L2259.2,923.2L2260.4,923.5L2261.7,924.2L2262.9,925.7L2264.2,928.0L2265.4,928.7L2266.7,927.4L2267.9,927.6L2269.2,927.2L2270.4,925.2L2271.7,924.4L2272.9,923.0L2274.2,921.3L2275.4,922.8L2276.7,924.8L2277.9,925.6L2279.2,927.0L2280.4,926.0L2281.7,923.2L2282.9,924.1L2284.2,927.2L2285.4,928.3L2286.7,928.3L2287.9,928.5L2289.2,930.0L2290.4,932.2L2291.7,932.5L2292.9,932.0L2294.2,932.3L2295.4,933.3L2296.7,934.5L2297.9,934.3L2299.2,932.4L2300.4,932.4L2301.7,932.1L2302.9,930.3L2304.2,930.4L2305.4,930.7L2306.7,928.9L2307.9,927.0L2309.2,925.3L2310.4,923.8L2311.7,924.1L2312.9,924.0L2314.2,923.3L2315.4,923.5L2316.7,924.1L2317.9,924.0L2319.2,923.7L2320.4,923.5L2321.7,923.9L2322.9,924.3L2324.2,923.7L2325.4,923.3L2326.7,922.6L2327.9,921.3L2329.2,921.0L2330.4,920.8L2331.7,919.8L2332.9,919.7L2334.2,920.6L2335.4,920.9L2336.7,922.0L2337.9,922.8L2339.2,923.1L2340.4,924.8L2341.7,927.3L2342.9,928.5L2344.2,929.0L2345.4,929.6L2346.7,930.9L2347.9,932.3L2349.2,932.7L2350.4,931.8L2351.7,931.2L2352.9,930.5L2354.2,929.8L2355.4,928.9L2356.7,927.6L2357.9,927.3L2359.2,926.6L2360.4,924.9L2361.7,925.2L2362.9,927.3L2364.2,927.6L2365.4,927.6L2366.7,928.4L2367.9,929.5L2369.2,931.7L2370.4,933.0L2371.7,932.8L2372.9,934.0L2374.2,936.5L2375.4,938.1L2376.7,937.0L2377.9,934.6L2379.2,932.4L2380.4,930.7L2381.7,928.9L2382.9,928.4L2384.2,927.8L2385.4,925.7L2386.7,924.5L2387.9,923.7L2389.2,921.5L2390.4,921.2L2391.7,922.2L2392.9,922.2L2394.2,924.1L2395.4,926.3L2396.7,926.2L2397.9,927.1L2399.2,929.0L2400.4,929.7L2401.7,930.7L2402.9,932.5L2404.2,933.2L2405.4,932.5L2406.7,929.8L2407.9,927.6L2409.2,927.4L2410.4,927.0L2411.7,927.1L2412.9,927.8L2414.2,928.5L2415.4,930.1L2416.7,930.2L2417.9,927.6L2419.2,928.8L2420.4,932.9L2421.7,933.4L2422.9,933.0L2424.2,934.1L2425.4,934.9L2426.7,935.5L2427.9,934.6L2429.2,931.5L2430.4,930.8L2431.7,932.2L2432.9,932.1L2434.2,930.5L2435.4,928.5L2436.7,928.2L2437.9,929.2L2439.2,929.8L2440.4,931.8L2441.7,934.1L2442.9,933.6L2444.2,933.9L2445.4,935.9L2446.7,936.6L2447.9,937.7L2449.2,937.8L2450.4,934.8L2451.7,933.4L2452.9,933.8L2454.2,932.4L2455.4,931.2L2456.7,930.9L2457.9,929.6L2459.2,929.1L2460.4,929.5L2461.7,928.7L2462.9,926.7L2464.2,924.7L2465.4,925.2L2466.7,927.7L2467.9,928.8L2469.2,928.9L2470.4,929.3L2471.7,929.6L2472.9,930.9L2474.2,931.6L2475.4,929.3L2476.7,928.5L2477.9,929.2L2479.2,927.9L2480.4,926.6L2481.7,926.9L2482.9,926.9L2484.2,926.9L2485.4,927.2L2486.7,926.9L2487.9,927.4L2489.2,928.4L2490.4,928.4L2491.7,928.2L2492.9,928.6L2494.2,929.4L2495.4,929.3L2496.7,928.1L2497.9,927.6L2499.2,927.9L2500.4,926.9L2501.7,925.8L2502.9,925.4L2504.2,924.5L2505.4,923.7L2506.7,923.3L2507.9,922.8L2509.2,923.9L2510.4,926.4L2511.7,928.0L2512.9,929.1L2514.2,930.4L2515.4,931.2L2516.7,932.5L2517.9,934.7L2519.2,936.6L2520.4,937.6L2521.7,938.0L2522.9,938.2L2524.2,938.2L2525.4,937.3L2526.7,935.8L2527.9,935.2L2529.2,934.8L2530.4,935.0L2531.7,935.0L2532.9,932.9L2534.2,931.1L2535.4,930.7L2536.7,929.8L2537.9,929.5L2539.2,930.9L2540.4,931.2L2541.7,930.3L2542.9,929.3L2544.2,928.3L2545.4,928.3L2546.7,928.2L2547.9,926.6L2549.2,925.4L2550.4,925.8L2551.7,926.6L2552.9,926.2L2554.2,924.2L2555.4,923.6L2556.7,925.1L2557.9,925.2L2559.2,924.2L2560.4,924.2L2561.7,923.4L2562.9,923.0L2564.2,924.0L2565.4,923.9L2566.7,924.4L2567.9,926.4L2569.2,926.0L2570.4,924.8L2571.7,925.0L2572.9,924.3L2574.2,923.5L2575.4,923.8L2576.7,924.4L2577.9,925.7L2579.2,926.9L2580.4,928.9L2581.7,932.0L2582.9,933.4L2584.2,933.6L2585.4,933.7L2586.7,932.0L2587.9,930.3L2589.2,929.6L2590.4,926.8L2591.7,924.7L2592.9,924.6"/>
<path stroke="#AA3377" d="M205.1,462.4L206.4,459.7L207.6,456.4L208.9,458.0L210.1,460.3L211.4,456.5L212.6,452.6L213.9,451.0L215.1,446.2L216.4,443.6L217.6,448.6L218.9,450.8L220.1,447.0L221.4,444.4L222.6,441.1L223.9,435.2L225.1,435.3L226.4,441.8L227.6,444.8L228.9,445.4L230.1,449.4L231.4,453.6L232.6,454.3L233.9,453.2L235.1,456.8L236.4,465.4L237.6,472.5L238.9,475.9L240.1,477.9L241.4,479.8L242.6,474.4L243.9,467.1L245.1,466.9L246.4,467.5L247.6,463.7L248.9,461.2L250.1,461.2L251.4,459.7L252.6,458.0L253.9,456.8L255.1,455.4L256.4,455.2L257.6,455.5L258.9,455.4L260.1,457.0L261.4,461.4L262.6,464.6L263.9,466.3L265.1,470.0L266.4,474.8L267.6,478.5L268.9,481.7L270.1,484.6L271.4,487.9L272.6,491.5L273.9,490.5L275.1,484.7L276.4,479.5L277.6,473.3L278.9,461.5L280.1,443.0L281.4,428.5L282.6,415.9L283.9,410.9L285.1,414.4L286.4,415.7L287.6,417.1L288.9,422.0L290.1,425.2L291.4,436.3L292.6,456.6L293.9,485.9L295.1,507.0L296.4,503.8L297.6,502.3L298.9,503.1L300.1,503.7L301.4,502.6L302.6,501.4L303.9,498.4L305.1,490.4L306.4,478.9L307.6,475.9L308.9,481.2L310.1,481.4L311.4,479.2L312.6,481.8L313.9,485.4L315.1,487.7L316.4,493.4L317.6,501.5L318.9,507.5L320.1,511.4L321.4,514.2L322.6,516.0L323.9,520.8L325.1,524.1L326.4,519.7L327.6,514.9L328.9,516.6L330.1,518.1L331.4,516.5L332.6,513.8L333.9,511.8L335.1,511.9L336.4,516.3L337.6,521.9L338.9,527.1L340.1,529.3L341.4,525.3L342.6,521.2L343.9,520.7L345.1,518.6L346.4,515.8L347.6,515.2L348.9,511.4L350.1,505.9L351.4,510.2L352.6,520.2L353.9,517.8L355.1,514.1L356.4,520.2L357.6,522.3L358.9,519.5L360.1,521.6L361.4,524.4L362.6,518.7L363.9,507.2L365.1,497.5L366.4,494.8L367.6,492.2L368.9,481.3L370.1,470.8L371.4,471.8L372.6,471.4L373.9,469.1L375.1,471.4L376.4,476.5L377.6,478.1L378.9,482.0L380.1,489.7L381.4,493.4L382.6,494.5L383.9,493.8L385.1,489.7L386.4,489.9L387.6,497.8L388.9,502.9L390.1,502.4L391.4,503.6L392.6,501.0L393.9,493.7L395.1,489.1L396.4,487.8L397.6,486.0L398.9,488.2L400.1,492.2L401.4,495.4L402.6,498.7L403.9,502.0L405.1,504.8L406.4,509.2L407.6,514.1L408.9,516.8L410.1,515.3L411.4,511.3L412.6,502.3L413.9,496.0L415.1,494.2L416.4,487.3L417.6,477.8L418.9,474.6L420.1,472.7L421.4,469.6L422.6,470.4L423.9,476.8L425.1,481.6L426.4,483.1L427.6,485.7L428.9,490.1L430.1,493.6L431.4,494.6L432.6,492.0L433.9,491.4L435.1,491.8L436.4,489.4L437.6,486.5L438.9,485.5L440.1,483.6L441.4,480.4L442.6,481.3L443.9,484.9L445.1,489.0L446.4,494.3L447.6,499.1L448.9,502.4L450.1,506.6L451.4,504.7L452.6,497.1L453.9,489.6L455.1,484.8L456.4,479.0L457.6,473.3L458.9,470.8L460.1,473.0L461.4,474.6L462.6,478.8L463.9,483.7L465.1,486.9L466.4,493.1L467.6,503.6L468.9,513.9L470.1,523.4L471.4,528.6L472.6,530.1L473.9,529.2L475.1,524.9L476.4,521.6L477.6,524.2L478.9,527.7L480.1,526.1L481.4,527.6L482.6,532.6L483.9,523.9L485.1,510.6L486.4,508.8L487.6,513.3L488.9,511.2L490.1,511.2L491.4,517.4L492.6,523.8L493.9,526.9L495.1,527.0L496.4,526.0L497.6,525.6L498.9,521.7L500.1,515.7L501.4,510.9L502.6,505.1L503.9,493.9L505.1,481.9L506.4,475.4L507.6,472.1L508.9,474.8L510.1,482.5L511.4,488.2L512.6,496.4L513.9,508.7L515.1,515.4L516.4,515.7L517.6,520.2L518.9,525.2L520.1,528.0L521.4,530.4L522.6,531.7L523.9,522.8L525.1,511.5L526.4,504.0L527.6,496.5L528.9,492.9L530.1,495.9L531.4,494.5L532.6,486.8L533.9,483.6L535.1,486.2L536.4,488.0L537.6,485.9L538.9,482.6L540.1,483.0L541.4,479.1L542.6,464.1L543.9,449.7L545.1,443.6L546.4,434.8L547.6,419.0L548.9,413.3L550.1,416.3L551.4,410.9L552.6,401.7L553.9,403.4L555.1,406.5L556.4,408.6L557.6,413.1L558.9,414.7L560.1,413.3L561.4,409.8L562.6,403.3L563.9,399.1L565.1,404.7L566.4,412.5L567.6,417.4L568.9,423.0L570.1,428.2L571.4,430.4L572.6,431.6L573.9,431.2L575.1,429.4L576.4,430.2L577.6,432.2L578.9,432.4L580.1,434.1L581.4,436.6L582.6,436.6L583.9,437.0L585.1,441.8L586.4,446.3L587.6,454.2L588.9,466.5L590.1,473.7L591.4,472.5L592.6,474.4L593.9,477.2L595.1,475.4L596.4,471.1L597.6,470.2L598.9,467.5L600.1,460.9L601.4,448.9L602.6,437.9L603.9,429.1L605.1,420.0L606.4,411.5L607.6,408.4L608.9,411.7L610.1,411.1L611.4,410.8L612.6,412.3L613.9,409.1L615.1,401.9L616.4,398.1L617.6,400.0L618.9,403.4L620.1,407.9L621.4,413.8L622.6,421.4L623.9,435.7L625.1,451.7L626.4,468.2L627.6,482.4L628.9,493.5L630.1,501.6L631.4,506.6L632.6,512.4L633.9,518.2L635.1,522.0L636.4,524.2L637.6,525.6L638.9,527.7L640.1,532.0L641.4,534.6L642.6,533.5L643.9,532.1L645.1,529.8L646.4,529.1L647.6,531.1L648.9,533.5L650.1,532.2L651.4,531.2L652.6,530.8L653.9,527.5L655.1,526.8L656.4,530.0L657.6,525.5L658.9,515.7L660.1,512.8L661.4,514.1L662.6,511.7L663.9,508.9L665.1,509.1L666.4,508.0L667.6,503.8L668.9,501.6L670.1,505.4L671.4,510.6L672.6,508.0L673.9,500.9L675.1,501.1L676.4,505.4L677.6,502.8L678.9,499.4L680.1,500.3L681.4,498.0L682.6,493.9L683.9,494.7L685.1,495.4L686.4,492.4L687.6,490.4L688.9,488.2L690.1,487.1L691.4,492.5L692.6,496.8L693.9,489.6L695.1,479.9L696.4,475.4L697.6,474.6L698.9,478.3L700.1,484.7L701.4,486.7L702.6,486.0L703.9,488.6L705.1,492.4L706.4,498.7L707.6,507.5L708.9,514.5L710.1,518.6L711.4,519.6L712.6,517.8L713.9,516.3L715.1,515.1L716.4,506.2L717.6,493.6L718.9,491.8L720.1,493.0L721.4,484.5L722.6,479.0L723.9,483.8L725.1,481.2L726.4,476.9L727.6,482.7L728.9,490.8L730.1,490.0L731.4,485.5L732.6,483.8L733.9,484.0L735.1,482.5L736.4,479.4L737.6,481.8L738.9,489.0L740.1,493.0L741.4,494.3L742.6,501.7L743.9,508.3L745.1,507.4L746.4,505.9L747.6,508.2L748.9,510.1L750.1,513.2L751.4,516.7L752.6,516.4L753.9,516.6L755.1,519.9L756.4,520.9L757.6,518.6L758.9,518.4L760.1,517.3L761.4,513.4L762.6,511.6L763.9,510.8L765.1,508.8L766.4,509.0L767.6,513.4L768.9,517.3L770.1,521.9L771.4,529.6L772.6,537.0L773.9,541.1L775.1,540.3L776.4,539.6L777.6,538.2L778.9,534.9L780.1,527.4L781.4,521.7L782.6,516.7L783.9,505.5L785.1,492.7L786.4,490.6L787.6,489.9L788.9,487.8L790.1,491.1L791.4,497.9L792.6,501.0L793.9,503.0L795.1,509.5L796.4,517.6L797.6,524.0L798.9,530.5L800.1,535.3L801.4,532.3L802.6,528.6L803.9,523.2L805.1,517.0L806.4,510.4L807.6,501.5L808.9,493.3L810.1,489.9L811.4,487.8L812.6,488.1L813.9,492.2L815.1,495.6L816.4,498.6L817.6,508.3L818.9,518.9L820.1,523.0L821.4,524.6L822.6,526.2L823.9,522.0L825.1,517.6L826.4,515.5L827.6,510.2L828.9,502.7L830.1,499.0L831.4,497.4L832.6,496.1L833.9,501.0L835.1,505.3L836.4,505.1L837.6,508.6L838.9,520.1L840.1,533.0L841.4,539.4L842.6,540.9L843.9,541.6L845.1,543.9L846.4,543.5L847.6,541.4L848.9,545.9L850.1,545.5L851.4,533.6L852.6,525.4L853.9,529.4L855.1,528.9L856.4,518.4L857.6,513.8L858.9,519.0L860.1,524.9L861.4,531.8L862.6,539.1L863.9,541.9L865.1,540.2L866.4,534.3L867.6,528.6L868.9,529.6L870.1,532.6L871.4,528.8L872.6,522.8L873.9,519.5L875.1,518.9L876.4,520.5L877.6,522.6L878.9,520.7L880.1,519.9L881.4,524.3L882.6,526.4L883.9,526.1L885.1,529.3L886.4,530.5L887.6,528.8L888.9,533.3L890.1,539.2L891.4,539.3L892.6,538.4L893.9,535.1L895.1,524.7L896.4,515.4L897.6,514.0L898.9,511.0L900.1,503.4L901.4,500.1L902.6,499.7L903.9,497.1L905.1,494.7L906.4,496.4L907.6,500.3L908.9,501.0L910.1,498.8L911.4,501.4L912.6,506.7L913.9,503.1L915.1,493.9L916.4,493.2L917.6,496.3L918.9,496.4L920.1,498.1L921.4,505.2L922.6,509.2L923.9,511.1L925.1,515.8L926.4,518.8L927.6,520.7L928.9,522.4L930.1,522.2L931.4,519.3L932.6,517.5L933.9,515.7L935.1,514.4L936.4,517.2L937.6,521.6L938.9,524.6L940.1,527.1L941.4,528.7L942.6,529.1L943.9,530.6L945.1,530.6L946.4,528.8L947.6,528.2L948.9,528.7L950.1,526.3L951.4,522.9L952.6,520.5L953.9,516.9L955.1,514.0L956.4,513.1L957.6,511.3L958.9,509.7L960.1,512.8L961.4,515.7L962.6,514.4L963.9,514.5L965.1,516.9L966.4,516.2L967.6,513.4L968.9,512.7L970.1,512.3L971.4,508.6L972.6,503.3L973.9,499.4L975.1,496.8L976.4,490.3L977.6,480.1L978.9,474.5L980.1,479.9L981.4,483.6L982.6,485.3L983.9,490.2L985.1,495.6L986.4,501.4L987.6,510.1L988.9,520.7L990.1,526.8L991.4,531.8L992.6,537.2L993.9,539.7L995.1,541.6L996.4,544.4L997.6,543.4L998.9,537.5L1000.1,526.6L1001.4,521.1L1002.6,516.6L1003.9,514.6L1005.1,512.0L1006.4,507.7L1007.6,505.8L1008.9,505.7L1010.1,506.8L1011.4,510.2L1012.6,511.3L1013.9,507.8L1015.1,505.1L1016.4,504.8L1017.6,504.7L1018.9,505.9L1020.1,505.5L1021.4,502.2L1022.6,505.5L1023.9,514.2L1025.1,514.4L1026.4,510.5L1027.6,514.1L1028.9,518.4L1030.1,518.0L1031.4,524.9L1032.6,537.4L1033.9,540.1L1035.1,534.3L1036.4,531.8L1037.6,536.9L1038.9,543.2L1040.1,544.8L1041.4,544.8L1042.6,549.0L1043.9,550.2L1045.1,544.5L1046.4,543.9L1047.6,547.2L1048.9,541.7L1050.1,530.4L1051.4,526.4L1052.6,524.3L1053.9,519.8L1055.1,519.5L1056.4,520.1L1057.6,520.5L1058.9,529.2L1060.1,540.0L1061.4,543.9L1062.6,545.4L1063.9,546.0L1065.1,542.8L1066.4,538.8L1067.6,537.6L1068.9,535.7L1070.1,533.6L1071.4,531.7L1072.6,526.2L1073.9,521.2L1075.1,520.6L1076.4,519.8L1077.6,517.5L1078.9,518.1L1080.1,520.8L1081.4,523.9L1082.6,524.6L1083.9,519.4L1085.1,513.8L1086.4,513.3L1087.6,512.1L1088.9,509.4L1090.1,514.5L1091.4,521.5L1092.6,518.2L1093.9,511.2L1095.1,511.5L1096.4,510.5L1097.6,503.2L1098.9,496.4L1100.1,493.0L1101.4,489.3L1102.6,483.5L1103.9,478.2L1105.1,476.6L1106.4,476.0L1107.6,473.0L1108.9,470.5L1110.1,472.3L1111.4,476.0L1112.6,477.5L1113.9,481.3L1115.1,488.2L1116.4,494.4L1117.6,500.1L1118.9,503.1L1120.1,503.6L1121.4,504.8L1122.6,508.4L1123.9,512.2L1125.1,515.3L1126.4,520.6L1127.6,524.7L1128.9,527.1L1130.1,530.1L1131.4,529.4L1132.6,526.4L1133.9,523.8L1135.1,520.2L1136.4,513.0L1137.6,506.9L1138.9,504.3L1140.1,500.7L1141.4,497.2L1142.6,496.4L1143.9,495.3L1145.1,491.9L1146.4,486.1L1147.6,479.8L1148.9,476.3L1150.1,473.4L1151.4,468.2L1152.6,465.1L1153.9,466.2L1155.1,463.8L1156.4,458.8L1157.6,462.3L1158.9,469.3L1160.1,470.2L1161.4,469.2L1162.6,470.4L1163.9,470.8L1165.1,469.4L1166.4,466.6L1167.6,462.9L1168.9,458.4L1170.1,455.4L1171.4,454.1L1172.6,455.5L1173.9,458.0L1175.1,458.3L1176.4,457.3L1177.6,459.8L1178.9,464.1L1180.1,472.1L1181.4,482.2L1182.6,488.1L1183.9,490.0L1185.1,495.6L1186.4,502.2L1187.6,505.2L1188.9,510.5L1190.1,519.2L1191.4,525.0L1192.6,530.6L1193.9,537.9L1195.1,541.7L1196.4,538.6L1197.6,530.2L1198.9,520.3L1200.1,517.5L1201.4,523.8L1202.6,527.7L1203.9,522.2L1205.1,516.5L1206.4,515.9L1207.6,517.1L1208.9,519.3L1210.1,524.8L1211.4,531.7L1212.6,536.4L1213.9,535.3L1215.1,535.7L1216.4,545.2L1217.6,551.8L1218.9,547.3L1220.1,547.8L1221.4,558.8L1222.6,562.8L1223.9,559.1L1225.1,559.7L1226.4,556.7L1227.6,547.2L1228.9,543.1L1230.1,547.2L1231.4,549.5L1232.6,547.1L1233.9,541.2L1235.1,538.7L1236.4,542.8L1237.6,550.8L1238.9,555.9L1240.1,559.8L1241.4,563.8L1242.6,565.3L1243.9,564.5L1245.1,563.5L1246.4,558.3L1247.6,553.7L1248.9,547.8L1250.1,537.4L1251.4,528.3L1252.6,526.2L1253.9,522.1L1255.1,516.2L1256.4,515.9L1257.6,518.1L1258.9,519.6L1260.1,522.6L1261.4,524.4L1262.6,522.3L1263.9,522.1L1265.1,523.6L1266.4,520.0L1267.6,516.0L1268.9,517.8L1270.1,517.4L1271.4,511.4L1272.6,506.7L1273.9,504.2L1275.1,500.8L1276.4,495.2L1277.6,492.2L1278.9,493.5L1280.1,495.3L1281.4,491.8L1282.6,488.0L1283.9,490.6L1285.1,494.1L1286.4,493.3L1287.6,495.7L1288.9,501.2L1290.1,502.2L1291.4,501.3L1292.6,503.1L1293.9,504.3L1295.1,503.9L1296.4,505.1L1297.6,506.6L1298.9,508.0L1300.1,511.1L1301.4,515.1L1302.6,517.6L1303.9,520.7L1305.1,524.0L1306.4,526.1L1307.6,528.1L1308.9,529.1L1310.1,529.3L1311.4,531.5L1312.6,534.4L1313.9,535.8L1315.1,537.7L1316.4,539.3L1317.6,538.4L1318.9,537.4L1320.1,538.6L1321.4,539.1L1322.6,536.5L1323.9,532.7L1325.1,526.5L1326.4,521.1L1327.6,519.4L1328.9,515.7L1330.1,508.0L1331.4,502.7L1332.6,496.2L1333.9,485.1L1335.1,475.9L1336.4,472.6L1337.6,468.0L1338.9,459.8L1340.1,455.6L1341.4,461.1L1342.6,469.4L1343.9,473.6L1345.1,472.7L1346.4,473.3L1347.6,476.2L1348.9,476.7L1350.1,479.2L1351.4,487.2L1352.6,491.5L1353.9,489.7L1355.1,491.9L1356.4,497.0L1357.6,498.9L1358.9,501.4L1360.1,506.3L1361.4,510.2L1362.6,517.3L1363.9,529.0L1365.1,535.7L1366.4,536.2L1367.6,536.7L1368.9,537.9L1370.1,541.4L1371.4,549.1L1372.6,556.5L1373.9,560.6L1375.1,561.8L1376.4,558.8L1377.6,556.8L1378.9,561.2L1380.1,561.7L1381.4,555.1L1382.6,548.0L1383.9,541.9L1385.1,533.9L1386.4,526.5L1387.6,517.6L1388.9,505.8L1390.1,500.7L1391.4,501.5L1392.6,496.2L1393.9,493.7L1395.1,499.1L1396.4,496.3L1397.6,487.2L1398.9,491.3L1400.1,503.4L1401.4,508.1L1402.6,507.7L1403.9,510.7L1405.1,513.7L1406.4,513.6L1407.6,514.2L1408.9,518.9L1410.1,525.6L1411.4,526.6L1412.6,523.6L1413.9,526.4L1415.1,531.2L1416.4,528.5L1417.6,521.8L1418.9,519.1L1420.1,514.0L1421.4,505.9L1422.6,499.2L1423.9,489.8L1425.1,480.9L1426.4,477.6L1427.6,479.1L1428.9,482.0L1430.1,488.0L1431.4,495.7L1432.6,500.9L1433.9,504.3L1435.1,502.6L1436.4,499.9L1437.6,497.9L1438.9,495.9L1440.1,488.1L1441.4,478.7L1442.6,472.3L1443.9,466.2L1445.1,458.5L1446.4,454.8L1447.6,457.7L1448.9,463.5L1450.1,469.3L1451.4,473.8L1452.6,478.7L1453.9,484.2L1455.1,485.8L1456.4,486.4L1457.6,492.7L1458.9,498.9L1460.1,498.8L1461.4,497.7L1462.6,499.9L1463.9,497.2L1465.1,490.2L1466.4,486.9L1467.6,485.7L1468.9,482.1L1470.1,478.6L1471.4,480.1L1472.6,485.9L1473.9,491.8L1475.1,496.6L1476.4,501.6L1477.6,507.6L1478.9,511.8L1480.1,514.2L1481.4,518.9L1482.6,524.6L1483.9,528.5L1485.1,532.1L1486.4,534.5L1487.6,533.6L1488.9,533.7L1490.1,536.6L1491.4,537.6L1492.6,535.5L1493.9,533.2L1495.1,529.8L1496.4,525.3L1497.6,524.0L1498.9,524.4L1500.1,523.4L1501.4,522.6L1502.6,523.1L1503.9,527.6L1505.1,535.4L1506.4,541.7L1507.6,542.7L1508.9,541.8L1510.1,539.8L1511.4,537.9L1512.6,534.8L1513.9,531.5L1515.1,526.4L1516.4,519.6L1517.6,511.6L1518.9,505.3L1520.1,504.7L1521.4,507.4L1522.6,505.4L1523.9,502.2L1525.1,507.4L1526.4,512.6L1527.6,509.5L1528.9,507.8L1530.1,510.8L1531.4,511.2L1532.6,513.6L1533.9,522.2L1535.1,529.6L1536.4,531.3L1537.6,529.7L1538.9,525.9L1540.1,524.5L1541.4,525.9L1542.6,524.8L1543.9,520.5L1545.1,514.8L1546.4,507.9L1547.6,504.6L1548.9,507.1L1550.1,507.0L1551.4,503.7L1552.6,504.9L1553.9,508.4L1555.1,508.2L1556.4,512.7L1557.6,520.3L1558.9,522.0L1560.1,523.1L1561.4,529.2L1562.6,534.2L1563.9,536.6L1565.1,536.2L1566.4,530.4L1567.6,527.1L1568.9,533.7L1570.1,540.7L1571.4,543.6L1572.6,549.0L1573.9,552.6L1575.1,547.4L1576.4,540.2L1577.6,539.8L1578.9,541.5L1580.1,539.1L1581.4,532.6L1582.6,529.0L1583.9,530.3L1585.1,525.9L1586.4,515.4L1587.6,512.3L1588.9,514.8L1590.1,510.5L1591.4,507.3L1592.6,513.5L1593.9,515.5L1595.1,511.9L1596.4,514.3L1597.6,521.2L1598.9,526.5L1600.1,533.0L1601.4,539.4L1602.6,538.3L1603.9,534.8L1605.1,532.5L1606.4,528.2L1607.6,519.2L1608.9,509.9L1610.1,502.1L1611.4,496.1L1612.6,490.5L1613.9,486.1L1615.1,484.4L1616.4,484.8L1617.6,482.9L1618.9,482.7L1620.1,487.4L1621.4,490.4L1622.6,489.7L1623.9,491.0L1625.1,493.7L1626.4,496.3L1627.6,500.5L1628.9,504.5L1630.1,507.9L1631.4,515.1L1632.6,522.8L1633.9,526.2L1635.1,529.7L1636.4,537.0L1637.6,540.9L1638.9,539.1L1640.1,536.9L1641.4,535.9L1642.6,531.8L1643.9,526.4L1645.1,522.2L1646.4,519.9L1647.6,516.1L1648.9,509.9L1650.1,504.7L1651.4,503.1L1652.6,501.3L1653.9,498.4L1655.1,498.8L1656.4,499.9L1657.6,497.4L1658.9,496.1L1660.1,498.2L1661.4,499.0L1662.6,498.3L1663.9,498.9L1665.1,498.9L1666.4,498.4L1667.6,500.5L1668.9,503.0L1670.1,505.4L1671.4,508.9L1672.6,514.2L1673.9,523.9L1675.1,534.5L1676.4,541.2L1677.6,544.3L1678.9,547.6L1680.1,549.9L1681.4,546.5L1682.6,545.5L1683.9,544.9L1685.1,539.0L1686.4,530.1L1687.6,524.3L1688.9,520.9L1690.1,522.7L1691.4,530.0L1692.6,535.3L1693.9,538.3L1695.1,538.0L1696.4,534.2L1697.6,527.9L1698.9,526.7L1700.1,524.4L1701.4,514.0L1702.6,508.2L1703.9,511.5L1705.1,510.2L1706.4,500.6L1707.6,493.3L1708.9,490.5L1710.1,490.0L1711.4,492.1L1712.6,495.5L1713.9,500.5L1715.1,501.8L1716.4,499.5L1717.6,502.5L1718.9,514.4L1720.1,524.5L1721.4,529.6L1722.6,536.2L1723.9,541.4L1725.1,541.7L1726.4,541.1L1727.6,538.9L1728.9,529.6L1730.1,523.5L1731.4,525.6L1732.6,526.4L1733.9,524.6L1735.1,526.1L1736.4,524.6L1737.6,520.4L1738.9,520.2L1740.1,522.8L1741.4,526.7L1742.6,528.4L1743.9,523.5L1745.1,517.2L1746.4,516.7L1747.6,516.0L1748.9,510.8L1750.1,508.7L1751.4,509.9L1752.6,509.9L1753.9,510.2L1755.1,510.3L1756.4,509.0L1757.6,509.0L1758.9,507.9L1760.1,506.0L1761.4,511.8L1762.6,522.4L1763.9,522.2L1765.1,517.4L1766.4,521.4L1767.6,523.5L1768.9,517.7L1770.1,513.8L1771.4,514.4L1772.6,505.5L1773.9,491.4L1775.1,482.1L1776.4,478.3L1777.6,476.2L1778.9,476.6L1780.1,478.8L1781.4,484.3L1782.6,489.0L1783.9,490.6L1785.1,495.6L1786.4,503.5L1787.6,508.1L1788.9,512.4L1790.1,519.8L1791.4,520.6L1792.6,515.5L1793.9,513.7L1795.1,511.3L1796.4,505.1L1797.6,501.6L1798.9,501.4L1800.1,499.8L1801.4,500.5L1802.6,503.2L1803.9,505.5L1805.1,507.0L1806.4,507.7L1807.6,506.1L1808.9,505.6L1810.1,506.3L1811.4,504.1L1812.6,500.8L1813.9,500.6L1815.1,501.7L1816.4,501.0L1817.6,500.0L1818.9,499.3L1820.1,499.0L1821.4,496.5L1822.6,490.9L1823.9,486.9L1825.1,486.9L1826.4,483.9L1827.6,477.4L1828.9,478.2L1830.1,485.8L1831.4,490.1L1832.6,492.8L1833.9,499.1L1835.1,505.1L1836.4,508.1L1837.6,511.3L1838.9,515.8L1840.1,518.7L1841.4,519.7L1842.6,520.6L1843.9,522.9L1845.1,525.9L1846.4,523.8L1847.6,518.6L1848.9,513.3L1850.1,507.7L1851.4,502.5L1852.6,501.0L1853.9,498.9L1855.1,492.9L1856.4,487.8L1857.6,484.9L1858.9,479.6L1860.1,476.1L1861.4,478.1L1862.6,478.4L1863.9,475.3L1865.1,475.0L1866.4,476.6L1867.6,476.1L1868.9,476.4L1870.1,478.0L1871.4,481.1L1872.6,492.1L1873.9,505.8L1875.1,514.7L1876.4,522.6L1877.6,530.1L1878.9,533.7L1880.1,534.9L1881.4,535.7L1882.6,538.0L1883.9,536.1L1885.1,529.4L1886.4,522.9L1887.6,523.4L1888.9,525.6L1890.1,520.3L1891.4,515.7L1892.6,518.7L1893.9,517.8L1895.1,510.6L1896.4,504.8L1897.6,498.6L1898.9,487.4L1900.1,478.0L1901.4,478.6L1902.6,481.6L1903.9,480.5L1905.1,478.2L1906.4,474.7L1907.6,472.2L1908.9,475.2L1910.1,482.0L1911.4,489.4L1912.6,495.1L1913.9,496.8L1915.1,498.4L1916.4,502.4L1917.6,504.5L1918.9,507.9L1920.1,516.7L1921.4,521.8L1922.6,522.2L1923.9,529.2L1925.1,538.2L1926.4,538.2L1927.6,536.0L1928.9,538.5L1930.1,541.6L1931.4,544.5L1932.6,545.6L1933.9,540.1L1935.1,533.3L1936.4,528.7L1937.6,518.7L1938.9,509.2L1940.1,509.7L1941.4,510.9L1942.6,504.0L1943.9,498.7L1945.1,503.7L1946.4,508.0L1947.6,509.3L1948.9,512.4L1950.1,520.1L1951.4,524.7L1952.6,521.8L1953.9,516.3L1955.1,515.9L1956.4,514.8L1957.6,506.1L1958.9,500.4L1960.1,502.6L1961.4,505.6L1962.6,505.4L1963.9,509.6L1965.1,512.9L1966.4,511.4L1967.6,511.6L1968.9,513.8L1970.1,514.6L1971.4,516.8L1972.6,521.7L1973.9,525.4L1975.1,528.6L1976.4,532.7L1977.6,536.6L1978.9,538.8L1980.1,534.8L1981.4,528.8L1982.6,524.5L1983.9,521.4L1985.1,516.8L1986.4,513.2L1987.6,512.6L1988.9,509.6L1990.1,505.8L1991.4,505.1L1992.6,506.5L1993.9,507.0L1995.1,501.7L1996.4,491.4L1997.6,478.9L1998.9,462.8L2000.1,446.2L2001.4,431.1L2002.6,418.8L2003.9,410.9L2005.1,401.9L2006.4,399.2L2007.6,401.5L2008.9,404.0L2010.1,402.1L2011.4,399.4L2012.6,398.5L2013.9,398.5L2015.1,397.4L2016.4,394.8L2017.6,393.0L2018.9,391.7L2020.1,389.1L2021.4,388.7L2022.6,393.8L2023.9,398.8L2025.1,399.5L2026.4,404.3L2027.6,412.3L2028.9,416.8L2030.1,421.2L2031.4,427.6L2032.6,429.1L2033.9,423.5L2035.1,421.2L2036.4,419.6L2037.6,414.7L2038.9,410.8L2040.1,408.2L2041.4,405.7L2042.6,407.0L2043.9,412.2L2045.1,418.4L2046.4,422.7L2047.6,422.1L2048.9,420.4L2050.1,425.6L2051.4,434.3L2052.6,437.1L2053.9,436.9L2055.1,438.5L2056.4,438.5L2057.6,440.0L2058.9,448.2L2060.1,457.5L2061.4,466.1L2062.6,474.6L2063.9,478.9L2065.1,481.3L2066.4,489.2L2067.6,491.0L2068.9,483.4L2070.1,482.4L2071.4,491.2L2072.6,495.2L2073.9,494.7L2075.1,497.3L2076.4,497.1L2077.6,491.5L2078.9,488.7L2080.1,493.3L2081.4,501.7L2082.6,506.4L2083.9,505.6L2085.1,507.2L2086.4,511.6L2087.6,510.5L2088.9,508.1L2090.1,510.8L2091.4,511.7L2092.6,511.8L2093.9,519.5L2095.1,526.6L2096.4,524.0L2097.6,523.0L2098.9,526.3L2100.1,523.9L2101.4,518.7L2102.6,519.8L2103.9,518.6L2105.1,512.9L2106.4,510.8L2107.6,512.4L2108.9,515.5L2110.1,517.7L2111.4,517.3L2112.6,517.7L2113.9,521.7L2115.1,523.2L2116.4,522.9L2117.6,527.8L2118.9,534.8L2120.1,536.8L2121.4,535.4L2122.6,535.8L2123.9,536.1L2125.1,536.1L2126.4,533.6L2127.6,530.0L2128.9,531.5L2130.1,534.3L2131.4,530.0L2132.6,526.2L2133.9,529.9L2135.1,535.6L2136.4,537.0L2137.6,541.8L2138.9,548.8L2140.1,551.4L2141.4,552.1L2142.6,548.7L2143.9,542.9L2145.1,534.9L2146.4,526.8L2147.6,519.1L2148.9,513.0L2150.1,508.1L2151.4,501.6L2152.6,497.0L2153.9,496.6L2155.1,499.9L2156.4,506.4L2157.6,514.8L2158.9,522.8L2160.1,531.0L2161.4,541.2L2162.6,548.1L2163.9,551.6L2165.1,556.1L2166.4,560.4L2167.6,560.7L2168.9,556.7L2170.1,553.8L2171.4,550.6L2172.6,546.0L2173.9,540.0L2175.1,533.7L2176.4,529.7L2177.6,527.1L2178.9,522.2L2180.1,517.3L2181.4,516.6L2182.6,516.3L2183.9,514.9L2185.1,514.9L2186.4,515.3L2187.6,513.3L2188.9,509.5L2190.1,505.9L2191.4,506.1L2192.6,508.5L2193.9,506.8L2195.1,501.2L2196.4,498.7L2197.6,498.3L2198.9,493.8L2200.1,491.5L2201.4,500.9L2202.6,509.3L2203.9,514.2L2205.1,523.1L2206.4,533.4L2207.6,538.3L2208.9,540.6L2210.1,542.2L2211.4,542.4L2212.6,541.8L2213.9,543.2L2215.1,543.5L2216.4,538.8L2217.6,529.0L2218.9,519.1L2220.1,513.9L2221.4,509.0L2222.6,502.2L2223.9,498.2L2225.1,494.0L2226.4,485.0L2227.6,479.8L2228.9,482.3L2230.1,480.9L2231.4,474.4L2232.6,472.7L2233.9,474.3L2235.1,468.3L2236.4,457.8L2237.6,445.4L2238.9,433.4L2240.1,425.0L2241.4,418.7L2242.6,412.5L2243.9,411.7L2245.1,413.7L2246.4,407.4L2247.6,399.2L2248.9,398.8L2250.1,400.1L2251.4,397.4L2252.6,392.2L2253.9,388.1L2255.1,386.7L2256.4,384.3L2257.6,378.9L2258.9,382.2L2260.1,391.3L2261.4,393.3L2262.6,393.8L2263.9,405.6L2265.1,418.5L2266.4,422.2L2267.6,429.1L2268.9,446.2L2270.1,457.5L2271.4,463.4L2272.6,463.8L2273.9,457.1L2275.1,446.8L2276.4,442.2L2277.6,440.6L2278.9,440.7L2280.1,443.5L2281.4,446.7L2282.6,449.2L2283.9,450.4L2285.1,451.6L2286.4,456.6L2287.6,465.8L2288.9,470.9L2290.1,473.9L2291.4,483.5L2292.6,493.5L2293.9,494.8L2295.1,494.9L2296.4,498.4L2297.6,499.3L2298.9,498.5L2300.1,497.8L2301.4,491.7L2302.6,484.0L2303.9,466.1L2305.1,439.5L2306.4,418.6L2307.6,411.9L2308.9,404.9L2310.1,398.0L2311.4,396.8L2312.6,402.3L2313.9,404.9L2315.1,405.5L2316.4,408.7L2317.6,414.4L2318.9,418.9L2320.1,417.2L2321.4,414.9L2322.6,415.2L2323.9,412.9L2325.1,402.0L2326.4,395.8L2327.6,394.8L2328.9,389.6L2330.1,384.4L2331.4,384.2L2332.6,384.0L2333.9,382.3L2335.1,384.6L2336.4,389.3L2337.6,392.0L2338.9,405.7L2340.1,427.1L2341.4,445.7L2342.6,460.2L2343.9,469.0L2345.1,474.8L2346.4,479.6L2347.6,483.1L2348.9,486.2L2350.1,488.1L2351.4,485.8L2352.6,481.8L2353.9,481.5L2355.1,487.7L2356.4,492.2L2357.6,493.7L2358.9,496.8L2360.1,501.1L2361.4,504.4L2362.6,507.9L2363.9,511.8L2365.1,514.4L2366.4,516.5L2367.6,517.4L2368.9,517.5L2370.1,520.6L2371.4,525.3L2372.6,525.7L2373.9,526.7L2375.1,533.5L2376.4,539.7L2377.6,541.2L2378.9,543.0L2380.1,545.6L2381.4,546.0L2382.6,539.9L2383.9,534.6L2385.1,529.3L2386.4,517.3L2387.6,501.6L2388.9,489.4L2390.1,485.7L2391.4,486.0L2392.6,483.0L2393.9,482.0L2395.1,484.2L2396.4,484.0L2397.6,487.9L2398.9,497.2L2400.1,502.8L2401.4,505.9L2402.6,513.0L2403.9,518.7L2405.1,519.5L2406.4,522.4L2407.6,522.8L2408.9,514.5L2410.1,505.5L2411.4,502.9L2412.6,502.7L2413.9,500.7L2415.1,494.3L2416.4,485.9L2417.6,482.1L2418.9,479.9L2420.1,475.2L2421.4,478.1L2422.6,488.1L2423.9,492.4L2425.1,492.2L2426.4,494.9L2427.6,498.8L2428.9,500.9L2430.1,501.2L2431.4,497.6L2432.6,498.0L2433.9,504.9L2435.1,504.3L2436.4,494.9L2437.6,491.6L2438.9,493.3L2440.1,492.1L2441.4,494.9L2442.6,506.0L2443.9,510.3L2445.1,503.4L2446.4,498.0L2447.6,497.2L2448.9,499.8L2450.1,502.0L2451.4,503.7L2452.6,507.0L2453.9,510.5L2455.1,513.2L2456.4,517.2L2457.6,523.6L2458.9,526.7L2460.1,529.4L2461.4,536.3L2462.6,540.8L2463.9,540.5L2465.1,544.3L2466.4,548.2L2467.6,544.0L2468.9,540.4L2470.1,543.3L2471.4,542.7L2472.6,536.5L2473.9,533.4L2475.1,532.8L2476.4,529.5L2477.6,522.9L2478.9,515.6L2480.1,511.1L2481.4,510.3L2482.6,507.0L2483.9,504.2L2485.1,508.6L2486.4,513.9L2487.6,516.0L2488.9,518.6L2490.1,523.3L2491.4,527.4L2492.6,530.2L2493.9,532.2L2495.1,532.4L2496.4,532.3L2497.6,530.8L2498.9,524.2L2500.1,517.7L2501.4,511.0L2502.6,500.9L2503.9,491.1L2505.1,486.8L2506.4,488.3L2507.6,490.1L2508.9,493.8L2510.1,504.0L2511.4,514.8L2512.6,522.2L2513.9,525.4L2515.1,528.5L2516.4,532.0L2517.6,535.1L2518.9,537.2L2520.1,538.7L2521.4,538.9L2522.6,538.8L2523.9,539.6L2525.1,540.7L2526.4,538.2L2527.6,535.1L2528.9,533.6L2530.1,529.1L2531.4,524.0L2532.6,524.3L2533.9,525.5L2535.1,522.1L2536.4,518.7L2537.6,518.5L2538.9,517.8L2540.1,514.7L2541.4,511.3L2542.6,507.7L2543.9,505.1L2545.1,502.4L2546.4,498.0L2547.6,494.2L2548.9,492.0L2550.1,486.7L2551.4,480.4L2552.6,480.6L2553.9,488.1L2555.1,493.8L2556.4,496.6L2557.6,500.1L2558.9,507.4L2560.1,516.3L2561.4,523.7L2562.6,529.7L2563.9,535.8L2565.1,538.6L2566.4,534.8L2567.6,534.7L2568.9,536.6L2570.1,530.7L2571.4,522.3L2572.6,524.3L2573.9,533.0L2575.1,540.3L2576.4,548.1L2577.6,551.7L2578.9,549.4L2580.1,548.0L2581.4,549.5L2582.6,551.6L2583.9,552.8L2585.1,551.0L2586.4,545.2L2587.6,537.9L2588.9,528.7L2590.1,522.0L2591.4,522.4L2592.6,522.9L2593.7,517.1"/>
</g>
<rect x="235.2" y="1005.3" width="491.6" height="516.5" rx="11" ry="11" fill="#fff" fill-opacity="0.8" stroke="#ccc" stroke-opacity="0.8" stroke-width="4.17"/>
<path d="M250.1,1050.7H383.9" stroke="#AA3377" stroke-opacity="0.8" stroke-width="16.67" fill="none"/>
<path d="M250.1,1133.8H383.9" stroke="#EE6677" stroke-opacity="0.8" stroke-width="16.67" fill="none"/>
<path d="M250.1,1216.9H383.9" stroke="#CCBB44" stroke-opacity="0.8" stroke-width="16.67" fill="none"/>
<path d="M250.1,1300.0H383.9" stroke="#228833" stroke-opacity="0.8" stroke-width="16.67" fill="none"/>
<path d="M250.1,1383.1H383.9" stroke="#66CCEE" stroke-opacity="0.8" stroke-width="16.67" fill="none"/>
<path d="M250.1,1466.2H383.9" stroke="#4477AA" stroke-opacity="0.8" stroke-width="16.67" fill="none"/>
<g filter="url(#fats)">
<text x="420.6" y="1070.3" font-size="59.3" text-anchor="start" textLength="135.8" lengthAdjust="spacingAndGlyphs">Peptide</text>
<text x="420.6" y="1153.4" font-size="59.3" text-anchor="start" textLength="109.8" lengthAdjust="spacingAndGlyphs">Lipids</text>
<text x="420.6" y="1236.5" font-size="59.3" text-anchor="start" textLength="278.3" lengthAdjust="spacingAndGlyphs">Peptide first BB</text>
<text x="420.6" y="1319.6" font-size="59.3" text-anchor="start" textLength="271.0" lengthAdjust="spacingAndGlyphs">Peptide last BB</text>
<text x="420.6" y="1402.7" font-size="59.3" text-anchor="start" textLength="278.8" lengthAdjust="spacingAndGlyphs">Upper lipid HGs</text>
<text x="420.6" y="1485.8" font-size="59.3" text-anchor="start" textLength="282.9" lengthAdjust="spacingAndGlyphs">Lower lipid HGs</text>
</g>
<g filter="url(#fat)">
<text x="205.6" y="1628.0" font-size="84.6" text-anchor="middle" textLength="28.5" lengthAdjust="spacingAndGlyphs">0</text>
<text x="682.3" y="1628.0" font-size="84.6" text-anchor="middle" textLength="119.0" lengthAdjust="spacingAndGlyphs">1000</text>
<text x="1159.9" y="1628.0" font-size="84.6" text-anchor="middle" textLength="120.0" lengthAdjust="spacingAndGlyphs">2000</text>
<text x="1637.5" y="1628.0" font-size="84.6" text-anchor="middle" textLength="120.0" lengthAdjust="spacingAndGlyphs">3000</text>
<text x="2115.2" y="1628.0" font-size="84.6" text-anchor="middle" textLength="120.0" lengthAdjust="spacingAndGlyphs">4000</text>
<text x="2592.8" y="1628.0" font-size="84.6" text-anchor="middle" textLength="119.0" lengthAdjust="spacingAndGlyphs">5000</text>
<text x="188.3" y="1572.4" font-size="84.6" text-anchor="end" textLength="28.5" lengthAdjust="spacingAndGlyphs">2</text>
<text x="188.3" y="1338.1" font-size="84.6" text-anchor="end" textLength="28.5" lengthAdjust="spacingAndGlyphs">3</text>
<text x="188.3" y="1103.7" font-size="84.6" text-anchor="end" textLength="28.5" lengthAdjust="spacingAndGlyphs">4</text>
<text x="188.3" y="869.4" font-size="84.6" text-anchor="end" textLength="28.5" lengthAdjust="spacingAndGlyphs">5</text>
<text x="188.3" y="635.1" font-size="84.6" text-anchor="end" textLength="28.5" lengthAdjust="spacingAndGlyphs">6</text>
<text x="188.3" y="400.8" font-size="84.6" text-anchor="end" textLength="28.5" lengthAdjust="spacingAndGlyphs">7</text>
<text x="188.3" y="166.4" font-size="84.6" text-anchor="end" textLength="28.5" lengthAdjust="spacingAndGlyphs">8</text>
<text x="1398.2" y="120.0" font-size="105.5" text-anchor="middle" textLength="396.0" lengthAdjust="spacingAndGlyphs">Z coordinate</text>
<text x="1396.5" y="1736.0" font-size="105.5" text-anchor="middle" textLength="294.5" lengthAdjust="spacingAndGlyphs">Time <tspan font-size="92" dy="-8">(</tspan><tspan dy="8">ns</tspan><tspan font-size="92" dy="-8">)</tspan></text>
</g>
<g filter="url(#fatv)"><text x="0.0" y="0.0" font-size="105.5" text-anchor="middle" textLength="561.5" lengthAdjust="spacingAndGlyphs" transform="translate(118,849.2) rotate(-90)">Z coordinate <tspan font-size="92" dy="-8">(</tspan><tspan dy="8">nm</tspan><tspan font-size="92" dy="-8">)</tspan></text></g>
</svg></body></html>
